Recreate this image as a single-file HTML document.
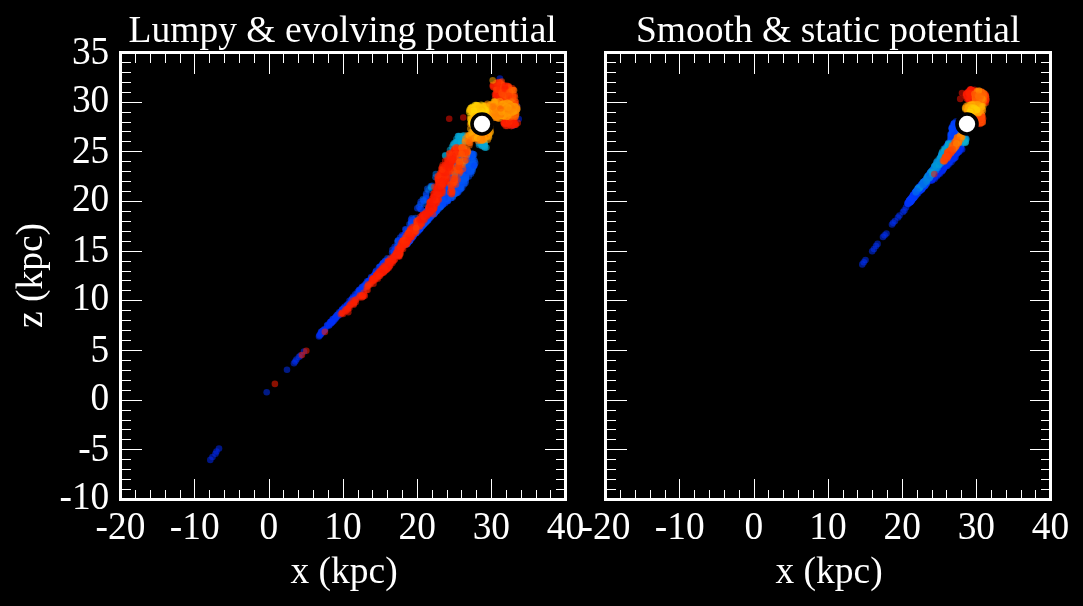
<!DOCTYPE html>
<html><head><meta charset="utf-8"><title>Stream in lumpy vs smooth potential</title>
<style>
html,body{margin:0;padding:0;background:#000;overflow:hidden}
svg{display:block}
text{font-family:"Liberation Serif",serif;font-size:37.5px;fill:#fff}
.t{font-size:41px}
.h{font-size:38.8px}
</style></head><body>
<svg width="1083" height="606" viewBox="0 0 1083 606">
<rect width="1083" height="606" fill="#000"/>
<g id="s1"><g fill-opacity="0.55">
<circle cx="210.3" cy="459.9" r="3.3" fill="#0028ef"/>
<circle cx="212.5" cy="457.0" r="3.3" fill="#0028ef"/>
<circle cx="215.5" cy="453.7" r="3.3" fill="#0028ef"/>
<circle cx="216.5" cy="451.5" r="3.3" fill="#0028ef"/>
<circle cx="219.0" cy="448.5" r="3.3" fill="#0028ef"/>
<circle cx="266.7" cy="392.3" r="3.3" fill="#002ff4"/>
<circle cx="287.0" cy="369.8" r="3.3" fill="#002ff4"/>
<circle cx="294.0" cy="363.3" r="3.3" fill="#002ff4"/>
<circle cx="295.3" cy="361.5" r="3.3" fill="#002ff4"/>
<circle cx="296.4" cy="359.6" r="3.3" fill="#002ff4"/>
<circle cx="298.9" cy="357.1" r="3.3" fill="#002ff4"/>
<circle cx="300.5" cy="355.5" r="3.3" fill="#002ff4"/>
<circle cx="304.0" cy="351.5" r="3.3" fill="#002ff4"/>
<circle cx="319.0" cy="336.5" r="3.3" fill="#002ff4"/>
<circle cx="320.0" cy="335.3" r="3.3" fill="#002ff4"/>
<circle cx="322.4" cy="332.4" r="3.3" fill="#002ff4"/>
<circle cx="321.0" cy="334.0" r="3.3" fill="#002ff4"/>
<circle cx="373.8" cy="278.1" r="3.3" fill="#0036fa"/>
<circle cx="346.1" cy="308.2" r="3.3" fill="#0038fc"/>
<circle cx="387.8" cy="260.6" r="3.3" fill="#003efe"/>
<circle cx="341.3" cy="311.7" r="3.3" fill="#0035fa"/>
<circle cx="404.9" cy="244.7" r="3.3" fill="#003afd"/>
<circle cx="336.6" cy="315.5" r="3.3" fill="#0033f8"/>
<circle cx="320.8" cy="333.2" r="3.3" fill="#002ef3"/>
<circle cx="372.4" cy="277.5" r="3.3" fill="#0037fb"/>
<circle cx="336.8" cy="317.1" r="3.3" fill="#002ff4"/>
<circle cx="319.4" cy="335.4" r="3.3" fill="#002ff4"/>
<circle cx="394.2" cy="254.0" r="3.3" fill="#003efe"/>
<circle cx="382.1" cy="264.4" r="3.3" fill="#003bfe"/>
<circle cx="394.0" cy="253.2" r="3.3" fill="#0038fc"/>
<circle cx="352.3" cy="299.1" r="3.3" fill="#0037fb"/>
<circle cx="353.8" cy="300.2" r="3.3" fill="#0033f7"/>
<circle cx="374.5" cy="276.1" r="3.3" fill="#0035f9"/>
<circle cx="340.4" cy="312.5" r="3.3" fill="#0037fb"/>
<circle cx="338.5" cy="315.3" r="3.3" fill="#002cf1"/>
<circle cx="375.7" cy="271.8" r="3.3" fill="#003cff"/>
<circle cx="396.9" cy="251.4" r="3.3" fill="#004bf9"/>
<circle cx="399.2" cy="248.7" r="3.3" fill="#003efe"/>
<circle cx="374.4" cy="275.6" r="3.3" fill="#0038fb"/>
<circle cx="339.2" cy="312.4" r="3.3" fill="#0035f9"/>
<circle cx="365.8" cy="283.8" r="3.3" fill="#003afd"/>
<circle cx="349.5" cy="300.9" r="3.3" fill="#002ef3"/>
<circle cx="375.5" cy="273.6" r="3.3" fill="#0048fa"/>
<circle cx="349.4" cy="303.5" r="3.3" fill="#0036fa"/>
<circle cx="364.9" cy="287.1" r="3.3" fill="#0039fc"/>
<circle cx="397.4" cy="246.4" r="3.3" fill="#003afd"/>
<circle cx="331.4" cy="321.8" r="3.3" fill="#0032f7"/>
<circle cx="373.9" cy="277.4" r="3.3" fill="#0032f7"/>
<circle cx="337.2" cy="315.1" r="3.3" fill="#0036fa"/>
<circle cx="349.7" cy="304.6" r="3.3" fill="#0037fb"/>
<circle cx="344.4" cy="310.3" r="3.3" fill="#0038fc"/>
<circle cx="363.5" cy="287.4" r="3.3" fill="#0034f8"/>
<circle cx="368.8" cy="280.9" r="3.3" fill="#0035f9"/>
<circle cx="397.4" cy="247.0" r="3.3" fill="#003efe"/>
<circle cx="399.4" cy="246.1" r="3.3" fill="#003efe"/>
<circle cx="381.9" cy="267.9" r="3.3" fill="#0039fc"/>
<circle cx="352.6" cy="298.2" r="3.3" fill="#003bfe"/>
<circle cx="399.3" cy="250.9" r="3.3" fill="#004af9"/>
<circle cx="370.3" cy="280.5" r="3.3" fill="#0032f7"/>
<circle cx="359.7" cy="292.2" r="3.3" fill="#0034f8"/>
<circle cx="324.2" cy="329.3" r="3.3" fill="#002cf2"/>
<circle cx="380.4" cy="266.4" r="3.3" fill="#003bff"/>
<circle cx="394.4" cy="253.8" r="3.3" fill="#0043fc"/>
<circle cx="321.1" cy="331.7" r="3.3" fill="#0034f8"/>
<circle cx="335.3" cy="318.3" r="3.3" fill="#002df3"/>
<circle cx="333.8" cy="320.2" r="3.3" fill="#0034f8"/>
<circle cx="400.4" cy="247.4" r="3.3" fill="#003cff"/>
<circle cx="371.2" cy="277.0" r="3.3" fill="#003afe"/>
<circle cx="390.3" cy="261.1" r="3.3" fill="#0038fb"/>
<circle cx="347.7" cy="304.2" r="3.3" fill="#0034f9"/>
<circle cx="385.9" cy="261.6" r="3.3" fill="#003dff"/>
<circle cx="330.8" cy="323.6" r="3.3" fill="#002ef3"/>
<circle cx="368.3" cy="282.7" r="3.3" fill="#0032f7"/>
<circle cx="376.5" cy="273.7" r="3.3" fill="#0036fa"/>
<circle cx="347.6" cy="306.0" r="3.3" fill="#0035f9"/>
<circle cx="332.6" cy="319.4" r="3.3" fill="#0039fc"/>
<circle cx="368.7" cy="283.8" r="3.3" fill="#0038fb"/>
<circle cx="359.3" cy="292.7" r="3.3" fill="#0036fa"/>
<circle cx="331.6" cy="322.4" r="3.3" fill="#0031f6"/>
<circle cx="350.4" cy="302.1" r="3.3" fill="#002af0"/>
<circle cx="357.7" cy="291.8" r="3.3" fill="#0032f7"/>
<circle cx="344.6" cy="306.8" r="3.3" fill="#0034f8"/>
<circle cx="330.6" cy="321.9" r="3.3" fill="#0033f8"/>
<circle cx="342.6" cy="309.8" r="3.3" fill="#0031f6"/>
<circle cx="335.3" cy="317.9" r="3.3" fill="#0032f7"/>
<circle cx="379.8" cy="267.0" r="3.3" fill="#0039fc"/>
<circle cx="389.3" cy="260.4" r="3.3" fill="#003efe"/>
<circle cx="363.9" cy="288.2" r="3.3" fill="#0036fa"/>
<circle cx="366.1" cy="285.7" r="3.3" fill="#0037fb"/>
<circle cx="335.5" cy="318.9" r="3.3" fill="#002cf1"/>
<circle cx="407.2" cy="243.5" r="3.3" fill="#0047fb"/>
<circle cx="353.5" cy="299.1" r="3.3" fill="#0035f9"/>
<circle cx="385.2" cy="264.9" r="3.3" fill="#003bfe"/>
<circle cx="355.3" cy="294.4" r="3.3" fill="#0037fb"/>
<circle cx="352.2" cy="300.1" r="3.3" fill="#0035f9"/>
<circle cx="391.8" cy="259.3" r="3.3" fill="#003bfe"/>
<circle cx="385.9" cy="265.9" r="3.3" fill="#0038fc"/>
<circle cx="391.8" cy="259.3" r="3.3" fill="#0048fa"/>
<circle cx="328.5" cy="324.2" r="3.3" fill="#0032f6"/>
<circle cx="382.9" cy="264.1" r="3.3" fill="#0049fa"/>
<circle cx="383.3" cy="262.9" r="3.3" fill="#003cff"/>
<circle cx="346.8" cy="305.2" r="3.3" fill="#0031f6"/>
<circle cx="324.8" cy="330.3" r="3.3" fill="#0032f7"/>
<circle cx="340.2" cy="312.7" r="3.3" fill="#002ef4"/>
<circle cx="362.1" cy="287.0" r="3.3" fill="#0034f8"/>
<circle cx="360.3" cy="289.3" r="3.3" fill="#0036fa"/>
<circle cx="363.8" cy="285.9" r="3.3" fill="#0037fb"/>
<circle cx="365.3" cy="284.8" r="3.3" fill="#0040fd"/>
<circle cx="333.2" cy="319.0" r="3.3" fill="#0033f8"/>
<circle cx="399.4" cy="246.0" r="3.3" fill="#0046fb"/>
<circle cx="362.6" cy="288.3" r="3.3" fill="#0035f9"/>
<circle cx="347.0" cy="306.2" r="3.3" fill="#0031f6"/>
<circle cx="360.1" cy="292.9" r="3.3" fill="#0032f7"/>
<circle cx="385.8" cy="264.3" r="3.3" fill="#0042fd"/>
<circle cx="382.0" cy="265.8" r="3.3" fill="#003afd"/>
<circle cx="333.5" cy="321.2" r="3.3" fill="#002df2"/>
<circle cx="398.4" cy="246.6" r="3.3" fill="#0048fa"/>
<circle cx="402.5" cy="245.4" r="3.3" fill="#0044fc"/>
<circle cx="388.8" cy="261.0" r="3.3" fill="#0037fb"/>
<circle cx="356.7" cy="294.5" r="3.3" fill="#002ff4"/>
<circle cx="349.4" cy="303.8" r="3.3" fill="#0033f7"/>
<circle cx="385.2" cy="260.8" r="3.3" fill="#003afe"/>
<circle cx="401.4" cy="245.7" r="3.3" fill="#0038fc"/>
<circle cx="364.1" cy="287.8" r="3.3" fill="#003bfe"/>
<circle cx="368.0" cy="284.5" r="3.3" fill="#0036fa"/>
<circle cx="373.0" cy="277.0" r="3.3" fill="#0038fc"/>
<circle cx="338.0" cy="314.3" r="3.3" fill="#0036fa"/>
<circle cx="358.6" cy="293.9" r="3.3" fill="#0033f7"/>
<circle cx="389.2" cy="259.0" r="3.3" fill="#0039fc"/>
<circle cx="377.4" cy="272.8" r="3.3" fill="#003cff"/>
<circle cx="354.0" cy="299.0" r="3.3" fill="#0032f6"/>
<circle cx="384.6" cy="264.3" r="3.3" fill="#0038fb"/>
<circle cx="353.3" cy="300.2" r="3.3" fill="#0031f6"/>
<circle cx="379.0" cy="267.4" r="3.3" fill="#0041fd"/>
<circle cx="368.7" cy="281.8" r="3.3" fill="#0034f9"/>
<circle cx="368.7" cy="281.1" r="3.3" fill="#003afd"/>
<circle cx="344.1" cy="308.7" r="3.3" fill="#0030f5"/>
<circle cx="351.4" cy="301.2" r="3.3" fill="#0036fa"/>
<circle cx="351.4" cy="299.8" r="3.3" fill="#003cff"/>
<circle cx="376.2" cy="270.8" r="3.3" fill="#0035f9"/>
<circle cx="355.7" cy="297.5" r="3.3" fill="#0031f6"/>
<circle cx="383.5" cy="265.2" r="3.3" fill="#003efe"/>
<circle cx="335.8" cy="317.0" r="3.3" fill="#0031f6"/>
<circle cx="325.1" cy="329.3" r="3.3" fill="#0033f7"/>
<circle cx="323.7" cy="330.6" r="3.3" fill="#002ff4"/>
<circle cx="352.1" cy="300.7" r="3.3" fill="#0031f6"/>
<circle cx="365.3" cy="285.9" r="3.3" fill="#0040fd"/>
<circle cx="344.0" cy="308.3" r="3.3" fill="#0032f6"/>
<circle cx="355.8" cy="297.2" r="3.3" fill="#0038fb"/>
<circle cx="330.7" cy="322.4" r="3.3" fill="#002ff4"/>
<circle cx="398.8" cy="250.1" r="3.3" fill="#0041fd"/>
<circle cx="383.2" cy="264.8" r="3.3" fill="#0036fa"/>
<circle cx="359.3" cy="290.2" r="3.3" fill="#0037fb"/>
<circle cx="330.2" cy="322.3" r="3.3" fill="#0030f5"/>
<circle cx="399.5" cy="244.1" r="3.3" fill="#0041fd"/>
<circle cx="359.0" cy="290.0" r="3.3" fill="#0036fa"/>
<circle cx="385.3" cy="261.4" r="3.3" fill="#003efe"/>
<circle cx="356.2" cy="296.9" r="3.3" fill="#0033f8"/>
<circle cx="396.8" cy="252.3" r="3.3" fill="#0040fd"/>
<circle cx="372.1" cy="279.2" r="3.3" fill="#003cff"/>
<circle cx="394.4" cy="250.9" r="3.3" fill="#003dff"/>
<circle cx="391.1" cy="260.0" r="3.3" fill="#0038fb"/>
<circle cx="376.7" cy="273.8" r="3.3" fill="#003afe"/>
<circle cx="370.9" cy="278.2" r="3.3" fill="#0038fb"/>
<circle cx="382.2" cy="268.0" r="3.3" fill="#003cff"/>
<circle cx="383.1" cy="264.8" r="3.3" fill="#003bfe"/>
<circle cx="335.5" cy="317.3" r="3.3" fill="#0033f8"/>
<circle cx="343.6" cy="310.9" r="3.3" fill="#002ef3"/>
<circle cx="353.1" cy="296.7" r="3.3" fill="#0030f5"/>
<circle cx="331.5" cy="322.9" r="3.3" fill="#002af0"/>
<circle cx="343.5" cy="311.1" r="3.3" fill="#0031f6"/>
<circle cx="329.3" cy="325.2" r="3.3" fill="#0031f6"/>
<circle cx="323.1" cy="330.9" r="3.3" fill="#0034f8"/>
<circle cx="344.0" cy="310.0" r="3.3" fill="#0032f6"/>
<circle cx="374.1" cy="275.3" r="3.3" fill="#0038fc"/>
<circle cx="385.4" cy="264.2" r="3.3" fill="#003bfe"/>
<circle cx="381.9" cy="268.3" r="3.3" fill="#003afd"/>
<circle cx="401.9" cy="247.2" r="3.3" fill="#003bfe"/>
<circle cx="342.6" cy="310.4" r="3.3" fill="#0037fb"/>
<circle cx="343.7" cy="308.6" r="3.3" fill="#0037fb"/>
<circle cx="341.7" cy="310.2" r="3.3" fill="#0030f5"/>
<circle cx="338.6" cy="315.4" r="3.3" fill="#0033f8"/>
<circle cx="368.1" cy="282.1" r="3.3" fill="#003bfe"/>
<circle cx="387.5" cy="258.2" r="3.3" fill="#004df8"/>
<circle cx="392.1" cy="252.7" r="3.3" fill="#0049fa"/>
<circle cx="383.2" cy="263.1" r="3.3" fill="#003dff"/>
<circle cx="358.8" cy="292.3" r="3.3" fill="#0039fc"/>
<circle cx="322.6" cy="330.9" r="3.3" fill="#0032f7"/>
<circle cx="368.7" cy="283.9" r="3.3" fill="#0037fb"/>
<circle cx="347.5" cy="305.5" r="3.3" fill="#0032f6"/>
<circle cx="388.7" cy="260.2" r="3.3" fill="#0036fa"/>
<circle cx="362.0" cy="287.3" r="3.3" fill="#003afd"/>
<circle cx="332.1" cy="321.6" r="3.3" fill="#0030f5"/>
<circle cx="342.8" cy="309.9" r="3.3" fill="#0036fa"/>
<circle cx="367.1" cy="281.2" r="3.3" fill="#003afd"/>
<circle cx="327.2" cy="325.8" r="3.3" fill="#0033f7"/>
<circle cx="396.0" cy="248.4" r="3.3" fill="#003cff"/>
<circle cx="360.3" cy="292.9" r="3.3" fill="#0035f9"/>
<circle cx="360.0" cy="291.4" r="3.3" fill="#003bfe"/>
<circle cx="332.3" cy="320.8" r="3.3" fill="#0031f6"/>
<circle cx="329.0" cy="325.5" r="3.3" fill="#002ff4"/>
<circle cx="320.7" cy="334.1" r="3.3" fill="#002af0"/>
<circle cx="375.8" cy="273.7" r="3.3" fill="#0039fd"/>
<circle cx="342.2" cy="309.2" r="3.3" fill="#0033f8"/>
<circle cx="359.6" cy="290.9" r="3.3" fill="#0039fc"/>
<circle cx="321.7" cy="331.7" r="3.3" fill="#002ff5"/>
<circle cx="354.5" cy="298.5" r="3.3" fill="#0035f9"/>
<circle cx="398.5" cy="247.7" r="3.3" fill="#003efe"/>
<circle cx="331.6" cy="321.8" r="3.3" fill="#002df3"/>
<circle cx="332.3" cy="321.8" r="3.3" fill="#0032f7"/>
<circle cx="403.5" cy="245.3" r="3.3" fill="#003dff"/>
<circle cx="327.1" cy="325.4" r="3.3" fill="#002ff4"/>
<circle cx="323.2" cy="331.7" r="3.3" fill="#002af0"/>
<circle cx="367.5" cy="282.5" r="3.3" fill="#003afd"/>
<circle cx="378.7" cy="273.5" r="3.3" fill="#0034f9"/>
<circle cx="355.5" cy="297.5" r="3.3" fill="#003bfe"/>
<circle cx="341.9" cy="311.1" r="3.3" fill="#0030f5"/>
<circle cx="433.5" cy="213.9" r="3.3" fill="#0039fc"/>
<circle cx="435.8" cy="203.9" r="3.3" fill="#004cf9"/>
<circle cx="410.9" cy="237.8" r="3.3" fill="#0044fc"/>
<circle cx="452.2" cy="170.5" r="3.3" fill="#0053f6"/>
<circle cx="427.0" cy="219.1" r="3.3" fill="#0057f4"/>
<circle cx="443.7" cy="186.6" r="3.3" fill="#004df8"/>
<circle cx="452.0" cy="174.8" r="3.3" fill="#004df8"/>
<circle cx="434.0" cy="209.0" r="3.3" fill="#0053f6"/>
<circle cx="448.7" cy="192.2" r="3.3" fill="#0047fb"/>
<circle cx="412.3" cy="238.0" r="3.3" fill="#0040fd"/>
<circle cx="421.0" cy="228.0" r="3.3" fill="#0036fa"/>
<circle cx="473.3" cy="154.0" r="3.3" fill="#0058f4"/>
<circle cx="450.2" cy="193.3" r="3.3" fill="#0054f5"/>
<circle cx="403.9" cy="240.8" r="3.3" fill="#003afe"/>
<circle cx="419.0" cy="224.1" r="3.3" fill="#0046fb"/>
<circle cx="462.8" cy="158.7" r="3.3" fill="#0052f6"/>
<circle cx="405.1" cy="240.9" r="3.3" fill="#003bfe"/>
<circle cx="443.4" cy="183.8" r="3.3" fill="#004bf9"/>
<circle cx="417.9" cy="222.3" r="3.3" fill="#0045fb"/>
<circle cx="410.9" cy="232.7" r="3.3" fill="#0039fd"/>
<circle cx="426.4" cy="212.1" r="3.3" fill="#004af9"/>
<circle cx="444.1" cy="197.9" r="3.3" fill="#004cf9"/>
<circle cx="451.2" cy="198.0" r="3.3" fill="#0051f6"/>
<circle cx="436.7" cy="194.9" r="3.3" fill="#0041fd"/>
<circle cx="414.3" cy="233.2" r="3.3" fill="#003ffe"/>
<circle cx="434.4" cy="202.4" r="3.3" fill="#0040fd"/>
<circle cx="459.9" cy="152.2" r="3.3" fill="#0057f4"/>
<circle cx="426.9" cy="216.4" r="3.3" fill="#0056f5"/>
<circle cx="419.9" cy="226.7" r="3.3" fill="#0052f6"/>
<circle cx="458.7" cy="161.3" r="3.3" fill="#005ef1"/>
<circle cx="436.3" cy="197.4" r="3.3" fill="#003afd"/>
<circle cx="440.3" cy="189.0" r="3.3" fill="#004ff7"/>
<circle cx="438.6" cy="208.9" r="3.3" fill="#0048fa"/>
<circle cx="463.4" cy="169.8" r="3.3" fill="#004ff7"/>
<circle cx="421.1" cy="226.3" r="3.3" fill="#003afd"/>
<circle cx="419.0" cy="225.5" r="3.3" fill="#003ffe"/>
<circle cx="408.3" cy="238.3" r="3.3" fill="#0043fc"/>
<circle cx="420.0" cy="219.6" r="3.3" fill="#0046fb"/>
<circle cx="438.2" cy="198.8" r="3.3" fill="#0057f4"/>
<circle cx="473.9" cy="165.3" r="3.3" fill="#005df2"/>
<circle cx="456.7" cy="164.4" r="3.3" fill="#0053f6"/>
<circle cx="450.2" cy="180.2" r="3.3" fill="#0048fa"/>
<circle cx="410.4" cy="238.9" r="3.3" fill="#003ffe"/>
<circle cx="427.1" cy="211.0" r="3.3" fill="#0052f6"/>
<circle cx="412.0" cy="235.8" r="3.3" fill="#004af9"/>
<circle cx="469.5" cy="166.4" r="3.3" fill="#004ef8"/>
<circle cx="420.8" cy="227.0" r="3.3" fill="#0049fa"/>
<circle cx="419.6" cy="225.2" r="3.3" fill="#0044fc"/>
<circle cx="415.8" cy="232.4" r="3.3" fill="#003efe"/>
<circle cx="405.1" cy="241.1" r="3.3" fill="#0039fd"/>
<circle cx="445.1" cy="192.1" r="3.3" fill="#0046fb"/>
<circle cx="447.3" cy="184.0" r="3.3" fill="#0065ef"/>
<circle cx="457.7" cy="159.3" r="3.3" fill="#0051f7"/>
<circle cx="460.3" cy="162.3" r="3.3" fill="#0058f4"/>
<circle cx="444.4" cy="181.0" r="3.3" fill="#003bff"/>
<circle cx="405.9" cy="240.3" r="3.3" fill="#003dff"/>
<circle cx="414.0" cy="229.2" r="3.3" fill="#003afe"/>
<circle cx="445.0" cy="189.5" r="3.3" fill="#0044fc"/>
<circle cx="460.1" cy="172.9" r="3.3" fill="#0051f6"/>
<circle cx="448.6" cy="187.3" r="3.3" fill="#0052f6"/>
<circle cx="437.4" cy="196.1" r="3.3" fill="#004af9"/>
<circle cx="450.7" cy="175.7" r="3.3" fill="#003ffe"/>
<circle cx="434.1" cy="206.7" r="3.3" fill="#0042fd"/>
<circle cx="453.2" cy="190.3" r="3.3" fill="#0068ed"/>
<circle cx="437.2" cy="203.3" r="3.3" fill="#0047fb"/>
<circle cx="427.9" cy="217.3" r="3.3" fill="#0050f7"/>
<circle cx="453.8" cy="157.3" r="3.3" fill="#0049fa"/>
<circle cx="410.5" cy="236.2" r="3.3" fill="#003bfe"/>
<circle cx="417.9" cy="225.8" r="3.3" fill="#003afd"/>
<circle cx="468.8" cy="176.4" r="3.3" fill="#004bf9"/>
<circle cx="405.7" cy="241.2" r="3.3" fill="#0033f7"/>
<circle cx="465.1" cy="167.4" r="3.3" fill="#0058f4"/>
<circle cx="427.9" cy="219.3" r="3.3" fill="#0037fb"/>
<circle cx="454.8" cy="177.1" r="3.3" fill="#0055f5"/>
<circle cx="426.4" cy="217.3" r="3.3" fill="#004af9"/>
<circle cx="410.6" cy="236.8" r="3.3" fill="#0037fb"/>
<circle cx="448.8" cy="170.8" r="3.3" fill="#0056f5"/>
<circle cx="465.4" cy="178.5" r="3.3" fill="#004ff8"/>
<circle cx="417.4" cy="225.5" r="3.3" fill="#003afd"/>
<circle cx="455.6" cy="193.6" r="3.3" fill="#005af3"/>
<circle cx="432.5" cy="213.5" r="3.3" fill="#0049fa"/>
<circle cx="459.8" cy="177.9" r="3.3" fill="#0048fa"/>
<circle cx="440.1" cy="206.4" r="3.3" fill="#0046fb"/>
<circle cx="434.7" cy="205.3" r="3.3" fill="#0056f5"/>
<circle cx="460.7" cy="157.5" r="3.3" fill="#0045fc"/>
<circle cx="467.2" cy="165.6" r="3.3" fill="#0049fa"/>
<circle cx="443.2" cy="204.5" r="3.3" fill="#004cf9"/>
<circle cx="428.3" cy="218.4" r="3.3" fill="#0048fa"/>
<circle cx="411.9" cy="236.9" r="3.3" fill="#0039fd"/>
<circle cx="457.4" cy="163.4" r="3.3" fill="#0058f4"/>
<circle cx="434.7" cy="200.5" r="3.3" fill="#0043fc"/>
<circle cx="434.9" cy="208.8" r="3.3" fill="#0054f5"/>
<circle cx="415.3" cy="230.1" r="3.3" fill="#003bfe"/>
<circle cx="410.6" cy="236.2" r="3.3" fill="#003dff"/>
<circle cx="423.2" cy="221.2" r="3.3" fill="#0043fc"/>
<circle cx="410.5" cy="233.7" r="3.3" fill="#0034f9"/>
<circle cx="427.4" cy="220.0" r="3.3" fill="#003efe"/>
<circle cx="420.3" cy="219.0" r="3.3" fill="#0038fc"/>
<circle cx="447.3" cy="171.9" r="3.3" fill="#0056f5"/>
<circle cx="468.9" cy="156.5" r="3.3" fill="#0062f0"/>
<circle cx="428.5" cy="209.6" r="3.3" fill="#0047fb"/>
<circle cx="434.4" cy="213.7" r="3.3" fill="#004bf9"/>
<circle cx="459.3" cy="158.5" r="3.3" fill="#0050f7"/>
<circle cx="416.1" cy="233.0" r="3.3" fill="#0041fd"/>
<circle cx="464.8" cy="164.4" r="3.3" fill="#0054f5"/>
<circle cx="411.3" cy="235.2" r="3.3" fill="#0040fd"/>
<circle cx="457.6" cy="181.8" r="3.3" fill="#0047fb"/>
<circle cx="422.6" cy="225.2" r="3.3" fill="#004bf9"/>
<circle cx="409.9" cy="240.5" r="3.3" fill="#003cff"/>
<circle cx="446.2" cy="197.5" r="3.3" fill="#0059f3"/>
<circle cx="427.3" cy="210.9" r="3.3" fill="#003afe"/>
<circle cx="407.0" cy="242.6" r="3.3" fill="#0048fa"/>
<circle cx="443.4" cy="198.3" r="3.3" fill="#0053f6"/>
<circle cx="434.5" cy="210.1" r="3.3" fill="#004cf8"/>
<circle cx="430.4" cy="212.1" r="3.3" fill="#003efe"/>
<circle cx="414.8" cy="230.3" r="3.3" fill="#003afd"/>
<circle cx="456.8" cy="167.6" r="3.3" fill="#0058f4"/>
<circle cx="431.0" cy="212.2" r="3.3" fill="#0043fc"/>
<circle cx="456.9" cy="154.8" r="3.3" fill="#0053f6"/>
<circle cx="462.2" cy="172.8" r="3.3" fill="#004df8"/>
<circle cx="449.1" cy="179.2" r="3.3" fill="#0059f3"/>
<circle cx="417.1" cy="223.8" r="3.3" fill="#003efe"/>
<circle cx="448.3" cy="183.5" r="3.3" fill="#005ff1"/>
<circle cx="452.8" cy="185.8" r="3.3" fill="#0052f6"/>
<circle cx="421.0" cy="225.5" r="3.3" fill="#0054f5"/>
<circle cx="428.5" cy="209.5" r="3.3" fill="#0059f3"/>
<circle cx="472.4" cy="164.2" r="3.3" fill="#0059f4"/>
<circle cx="424.2" cy="221.5" r="3.3" fill="#0055f5"/>
<circle cx="439.0" cy="202.1" r="3.3" fill="#004ef8"/>
<circle cx="450.1" cy="182.8" r="3.3" fill="#0041fd"/>
<circle cx="447.4" cy="190.3" r="3.3" fill="#0051f7"/>
<circle cx="437.5" cy="198.3" r="3.3" fill="#005cf2"/>
<circle cx="456.6" cy="191.6" r="3.3" fill="#005ff1"/>
<circle cx="443.2" cy="185.9" r="3.3" fill="#003ffe"/>
<circle cx="430.8" cy="211.7" r="3.3" fill="#0055f5"/>
<circle cx="426.0" cy="219.5" r="3.3" fill="#003bfe"/>
<circle cx="450.7" cy="169.0" r="3.3" fill="#0058f4"/>
<circle cx="426.2" cy="220.6" r="3.3" fill="#0047fb"/>
<circle cx="426.5" cy="220.2" r="3.3" fill="#0041fd"/>
<circle cx="472.3" cy="171.3" r="3.3" fill="#0058f4"/>
<circle cx="419.0" cy="224.4" r="3.3" fill="#003dfe"/>
<circle cx="425.4" cy="216.9" r="3.3" fill="#0058f4"/>
<circle cx="437.8" cy="207.8" r="3.3" fill="#004ef8"/>
<circle cx="450.5" cy="185.4" r="3.3" fill="#0056f5"/>
<circle cx="449.6" cy="174.4" r="3.3" fill="#0059f4"/>
<circle cx="423.0" cy="223.8" r="3.3" fill="#003ffe"/>
<circle cx="464.1" cy="169.8" r="3.3" fill="#0065ee"/>
<circle cx="459.0" cy="183.3" r="3.3" fill="#005cf2"/>
<circle cx="426.8" cy="218.2" r="3.3" fill="#003bff"/>
<circle cx="424.7" cy="215.0" r="3.3" fill="#0063ef"/>
<circle cx="436.7" cy="209.6" r="3.3" fill="#0058f4"/>
<circle cx="459.4" cy="153.1" r="3.3" fill="#004ef8"/>
<circle cx="434.6" cy="213.0" r="3.3" fill="#004af9"/>
<circle cx="461.6" cy="166.5" r="3.3" fill="#006aed"/>
<circle cx="430.5" cy="212.2" r="3.3" fill="#0040fd"/>
<circle cx="428.4" cy="219.9" r="3.3" fill="#0044fc"/>
<circle cx="456.1" cy="156.3" r="3.3" fill="#0051f7"/>
<circle cx="448.4" cy="187.6" r="3.3" fill="#0044fc"/>
<circle cx="411.8" cy="233.3" r="3.3" fill="#003bfe"/>
<circle cx="447.9" cy="200.9" r="3.3" fill="#004afa"/>
<circle cx="440.2" cy="192.4" r="3.3" fill="#0054f6"/>
<circle cx="426.0" cy="213.7" r="3.3" fill="#0043fc"/>
<circle cx="433.0" cy="201.2" r="3.3" fill="#004cf9"/>
<circle cx="456.9" cy="175.2" r="3.3" fill="#004af9"/>
<circle cx="460.5" cy="189.4" r="3.3" fill="#004df8"/>
<circle cx="438.0" cy="197.9" r="3.3" fill="#0045fb"/>
<circle cx="425.3" cy="222.7" r="3.3" fill="#003bff"/>
<circle cx="449.7" cy="180.5" r="3.3" fill="#0043fc"/>
<circle cx="425.2" cy="217.4" r="3.3" fill="#0052f6"/>
<circle cx="423.8" cy="219.7" r="3.3" fill="#0048fa"/>
<circle cx="447.3" cy="175.0" r="3.3" fill="#0049fa"/>
<circle cx="425.5" cy="220.7" r="3.3" fill="#0042fc"/>
<circle cx="406.9" cy="239.1" r="3.3" fill="#0045fb"/>
<circle cx="444.9" cy="190.4" r="3.3" fill="#004ef8"/>
<circle cx="458.0" cy="164.4" r="3.3" fill="#0056f5"/>
<circle cx="415.7" cy="233.0" r="3.3" fill="#003afe"/>
<circle cx="461.9" cy="174.6" r="3.3" fill="#0050f7"/>
<circle cx="453.2" cy="189.1" r="3.3" fill="#0055f5"/>
<circle cx="464.0" cy="154.5" r="3.3" fill="#0057f4"/>
<circle cx="408.9" cy="235.9" r="3.3" fill="#004cf9"/>
<circle cx="418.9" cy="225.0" r="3.3" fill="#0050f7"/>
<circle cx="448.6" cy="166.2" r="3.3" fill="#004ef8"/>
<circle cx="441.8" cy="196.8" r="3.3" fill="#0052f6"/>
<circle cx="422.7" cy="224.6" r="3.3" fill="#004cf9"/>
<circle cx="408.5" cy="241.8" r="3.3" fill="#0043fc"/>
<circle cx="468.9" cy="167.6" r="3.3" fill="#0043fc"/>
<circle cx="459.6" cy="168.4" r="3.3" fill="#0064ef"/>
<circle cx="430.8" cy="214.8" r="3.3" fill="#0045fb"/>
<circle cx="415.7" cy="228.7" r="3.3" fill="#0052f6"/>
<circle cx="474.6" cy="160.7" r="3.3" fill="#005ff1"/>
<circle cx="423.2" cy="219.3" r="3.3" fill="#003bff"/>
<circle cx="421.5" cy="218.2" r="3.3" fill="#003bff"/>
<circle cx="445.4" cy="173.9" r="3.3" fill="#0056f5"/>
<circle cx="464.4" cy="167.6" r="3.3" fill="#0060f1"/>
<circle cx="467.8" cy="167.8" r="3.3" fill="#0051f7"/>
<circle cx="420.4" cy="222.8" r="3.3" fill="#003afe"/>
<circle cx="433.7" cy="207.7" r="3.3" fill="#0048fa"/>
<circle cx="426.7" cy="215.1" r="3.3" fill="#003bfe"/>
<circle cx="420.3" cy="226.9" r="3.3" fill="#0050f7"/>
<circle cx="459.5" cy="182.6" r="3.3" fill="#0059f3"/>
<circle cx="455.2" cy="187.5" r="3.3" fill="#0048fa"/>
<circle cx="420.5" cy="221.4" r="3.3" fill="#0043fc"/>
<circle cx="406.1" cy="242.8" r="3.3" fill="#003cff"/>
<circle cx="414.0" cy="233.2" r="3.3" fill="#0048fa"/>
<circle cx="418.0" cy="224.7" r="3.3" fill="#003cff"/>
<circle cx="440.9" cy="195.8" r="3.3" fill="#004af9"/>
<circle cx="446.8" cy="182.6" r="3.3" fill="#0049fa"/>
<circle cx="445.6" cy="176.5" r="3.3" fill="#004afa"/>
<circle cx="423.7" cy="219.3" r="3.3" fill="#004afa"/>
<circle cx="422.0" cy="219.7" r="3.3" fill="#0048fa"/>
<circle cx="431.9" cy="203.7" r="3.3" fill="#0041fd"/>
<circle cx="407.3" cy="243.9" r="3.3" fill="#003cff"/>
<circle cx="427.6" cy="210.1" r="3.3" fill="#003efe"/>
<circle cx="418.7" cy="225.3" r="3.3" fill="#003ffe"/>
<circle cx="455.5" cy="189.1" r="3.3" fill="#0057f4"/>
<circle cx="405.3" cy="240.5" r="3.3" fill="#004df8"/>
<circle cx="431.1" cy="210.7" r="3.3" fill="#0048fa"/>
<circle cx="421.5" cy="220.4" r="3.3" fill="#004ef8"/>
<circle cx="407.8" cy="238.8" r="3.3" fill="#003dff"/>
<circle cx="453.1" cy="166.8" r="3.3" fill="#0058f4"/>
<circle cx="455.2" cy="162.4" r="3.3" fill="#004ef8"/>
<circle cx="420.2" cy="220.0" r="3.3" fill="#0054f5"/>
<circle cx="441.4" cy="203.4" r="3.3" fill="#003dff"/>
<circle cx="438.5" cy="201.3" r="3.3" fill="#0048fa"/>
<circle cx="423.3" cy="218.0" r="3.3" fill="#004bf9"/>
<circle cx="411.4" cy="232.4" r="3.3" fill="#0039fd"/>
<circle cx="421.1" cy="221.9" r="3.3" fill="#004bf9"/>
<circle cx="471.6" cy="156.6" r="3.3" fill="#0050f7"/>
<circle cx="433.1" cy="205.5" r="3.3" fill="#0045fb"/>
<circle cx="420.5" cy="225.4" r="3.3" fill="#0047fb"/>
<circle cx="462.2" cy="157.7" r="3.3" fill="#0065ef"/>
<circle cx="453.6" cy="160.0" r="3.3" fill="#0058f4"/>
<circle cx="473.4" cy="158.5" r="3.3" fill="#004bf9"/>
<circle cx="407.2" cy="239.9" r="3.3" fill="#0034f8"/>
<circle cx="404.5" cy="242.2" r="3.3" fill="#003ffe"/>
<circle cx="435.8" cy="197.8" r="3.3" fill="#0055f5"/>
<circle cx="432.9" cy="213.4" r="3.3" fill="#0050f7"/>
<circle cx="471.3" cy="170.5" r="3.3" fill="#004df8"/>
<circle cx="472.6" cy="167.5" r="3.3" fill="#0063ef"/>
<circle cx="464.8" cy="168.9" r="3.3" fill="#0062f0"/>
<circle cx="429.5" cy="217.9" r="3.3" fill="#003efe"/>
<circle cx="406.7" cy="239.7" r="3.3" fill="#0049fa"/>
<circle cx="440.9" cy="206.8" r="3.3" fill="#0044fc"/>
<circle cx="450.9" cy="165.7" r="3.3" fill="#0049fa"/>
<circle cx="415.1" cy="231.4" r="3.3" fill="#003bfe"/>
<circle cx="425.3" cy="216.9" r="3.3" fill="#0043fc"/>
<circle cx="419.1" cy="229.4" r="3.3" fill="#004ef8"/>
<circle cx="452.7" cy="182.8" r="3.3" fill="#005af3"/>
<circle cx="461.2" cy="155.8" r="3.3" fill="#0050f7"/>
<circle cx="426.3" cy="220.3" r="3.3" fill="#0051f7"/>
<circle cx="465.5" cy="177.1" r="3.3" fill="#0047fa"/>
<circle cx="460.4" cy="153.7" r="3.3" fill="#0042fc"/>
<circle cx="410.0" cy="236.3" r="3.3" fill="#0047fb"/>
<circle cx="408.8" cy="241.8" r="3.3" fill="#0039fd"/>
<circle cx="469.7" cy="172.3" r="3.3" fill="#0051f7"/>
<circle cx="440.7" cy="204.9" r="3.3" fill="#0043fc"/>
<circle cx="457.0" cy="174.0" r="3.3" fill="#0055f5"/>
<circle cx="459.5" cy="177.7" r="3.3" fill="#0057f4"/>
<circle cx="447.3" cy="192.4" r="3.3" fill="#005af3"/>
<circle cx="455.0" cy="155.0" r="3.3" fill="#005bf3"/>
<circle cx="415.4" cy="233.0" r="3.3" fill="#0036fa"/>
<circle cx="460.6" cy="170.9" r="3.3" fill="#0058f4"/>
<circle cx="460.0" cy="187.7" r="3.3" fill="#004bf9"/>
<circle cx="458.6" cy="163.9" r="3.3" fill="#004df8"/>
<circle cx="404.9" cy="241.0" r="3.3" fill="#004ef8"/>
<circle cx="455.5" cy="174.7" r="3.3" fill="#0057f4"/>
<circle cx="432.4" cy="212.8" r="3.3" fill="#0051f7"/>
<circle cx="435.4" cy="207.1" r="3.3" fill="#004cf9"/>
<circle cx="442.8" cy="200.4" r="3.3" fill="#005ef1"/>
<circle cx="437.6" cy="198.7" r="3.3" fill="#0056f5"/>
<circle cx="456.5" cy="191.7" r="3.3" fill="#004df8"/>
<circle cx="463.6" cy="183.2" r="3.3" fill="#0068ed"/>
<circle cx="432.3" cy="210.9" r="3.3" fill="#004cf8"/>
<circle cx="464.8" cy="173.6" r="3.3" fill="#005bf3"/>
<circle cx="456.1" cy="175.4" r="3.3" fill="#0051f7"/>
<circle cx="440.7" cy="204.8" r="3.3" fill="#0047fb"/>
<circle cx="442.4" cy="203.5" r="3.3" fill="#0056f5"/>
<circle cx="421.4" cy="220.7" r="3.3" fill="#0042fc"/>
<circle cx="470.7" cy="168.3" r="3.3" fill="#0062f0"/>
<circle cx="447.4" cy="187.7" r="3.3" fill="#0053f6"/>
<circle cx="442.1" cy="204.9" r="3.3" fill="#0046fb"/>
<circle cx="453.3" cy="172.8" r="3.3" fill="#0061f0"/>
<circle cx="417.4" cy="230.0" r="3.3" fill="#0045fb"/>
<circle cx="424.8" cy="221.8" r="3.3" fill="#0053f6"/>
<circle cx="438.5" cy="199.7" r="3.3" fill="#0053f6"/>
<circle cx="437.2" cy="199.0" r="3.3" fill="#004bf9"/>
<circle cx="408.8" cy="238.1" r="3.3" fill="#003cff"/>
<circle cx="472.3" cy="155.8" r="3.3" fill="#0056f5"/>
<circle cx="438.1" cy="207.3" r="3.3" fill="#0050f7"/>
<circle cx="466.6" cy="154.5" r="3.3" fill="#0055f5"/>
<circle cx="428.6" cy="218.0" r="3.3" fill="#003cff"/>
<circle cx="416.1" cy="227.0" r="3.3" fill="#0047fb"/>
<circle cx="426.6" cy="217.4" r="3.3" fill="#0049fa"/>
<circle cx="430.9" cy="208.2" r="3.3" fill="#003efe"/>
<circle cx="409.1" cy="235.7" r="3.3" fill="#003afe"/>
<circle cx="455.7" cy="180.8" r="3.3" fill="#0043fc"/>
<circle cx="445.8" cy="188.7" r="3.3" fill="#0059f4"/>
<circle cx="460.6" cy="175.6" r="3.3" fill="#005cf2"/>
<circle cx="460.0" cy="162.2" r="3.3" fill="#0069ed"/>
<circle cx="446.7" cy="199.0" r="3.3" fill="#0054f5"/>
<circle cx="417.1" cy="229.0" r="3.3" fill="#003dff"/>
<circle cx="414.3" cy="231.3" r="3.3" fill="#0043fc"/>
<circle cx="410.3" cy="232.1" r="3.3" fill="#003bff"/>
<circle cx="437.5" cy="197.9" r="3.3" fill="#0049fa"/>
<circle cx="447.9" cy="169.2" r="3.3" fill="#005cf2"/>
<circle cx="441.9" cy="194.8" r="3.3" fill="#0046fb"/>
<circle cx="429.6" cy="217.1" r="3.3" fill="#004ef8"/>
<circle cx="442.5" cy="181.3" r="3.3" fill="#005ef1"/>
<circle cx="447.6" cy="184.3" r="3.3" fill="#0046fb"/>
<circle cx="432.5" cy="204.4" r="3.3" fill="#0056f4"/>
<circle cx="418.7" cy="228.6" r="3.3" fill="#0047fa"/>
<circle cx="457.6" cy="179.5" r="3.3" fill="#0047fb"/>
<circle cx="411.7" cy="232.6" r="3.3" fill="#0034f8"/>
<circle cx="412.8" cy="234.7" r="3.3" fill="#0056f5"/>
<circle cx="430.7" cy="208.2" r="3.3" fill="#003ffe"/>
<circle cx="453.3" cy="158.4" r="3.3" fill="#0054f6"/>
<circle cx="431.0" cy="214.1" r="3.3" fill="#004df8"/>
<circle cx="425.8" cy="218.8" r="3.3" fill="#0059f4"/>
<circle cx="433.9" cy="199.7" r="3.3" fill="#0048fa"/>
<circle cx="408.8" cy="240.2" r="3.3" fill="#003ffe"/>
<circle cx="443.0" cy="200.4" r="3.3" fill="#004df8"/>
<circle cx="467.4" cy="155.0" r="3.3" fill="#0053f6"/>
<circle cx="415.9" cy="232.7" r="3.3" fill="#0039fc"/>
<circle cx="446.2" cy="194.6" r="3.3" fill="#0043fc"/>
<circle cx="427.7" cy="215.4" r="3.3" fill="#0044fc"/>
<circle cx="418.7" cy="221.3" r="3.3" fill="#003efe"/>
<circle cx="466.7" cy="167.6" r="3.3" fill="#004ff8"/>
<circle cx="461.5" cy="166.8" r="3.3" fill="#0069ed"/>
<circle cx="416.3" cy="230.2" r="3.3" fill="#0052f6"/>
<circle cx="424.3" cy="221.4" r="3.3" fill="#0042fc"/>
<circle cx="423.9" cy="222.4" r="3.3" fill="#0051f6"/>
<circle cx="452.3" cy="176.6" r="3.3" fill="#0052f6"/>
<circle cx="472.3" cy="153.8" r="3.3" fill="#0061f0"/>
<circle cx="445.2" cy="198.9" r="3.3" fill="#0050f7"/>
<circle cx="422.3" cy="222.4" r="3.3" fill="#0041fd"/>
<circle cx="460.9" cy="158.1" r="3.3" fill="#0059f3"/>
<circle cx="439.1" cy="199.0" r="3.3" fill="#0046fb"/>
<circle cx="453.4" cy="191.6" r="3.3" fill="#0056f5"/>
<circle cx="459.6" cy="157.0" r="3.3" fill="#004ff7"/>
<circle cx="417.8" cy="230.6" r="3.3" fill="#003bfe"/>
<circle cx="461.3" cy="169.3" r="3.3" fill="#0061f0"/>
<circle cx="470.8" cy="169.6" r="3.3" fill="#005cf2"/>
<circle cx="422.9" cy="217.7" r="3.3" fill="#004ef8"/>
<circle cx="422.2" cy="219.1" r="3.3" fill="#0053f6"/>
<circle cx="446.8" cy="170.7" r="3.3" fill="#0041fd"/>
<circle cx="407.9" cy="237.8" r="3.3" fill="#0037fb"/>
<circle cx="453.2" cy="165.0" r="3.3" fill="#004ff8"/>
<circle cx="416.5" cy="228.6" r="3.3" fill="#0043fc"/>
<circle cx="429.7" cy="207.5" r="3.3" fill="#0040fd"/>
<circle cx="438.5" cy="196.9" r="3.3" fill="#0049fa"/>
<circle cx="436.7" cy="201.9" r="3.3" fill="#0053f6"/>
<circle cx="407.2" cy="238.3" r="3.3" fill="#0040fd"/>
<circle cx="460.1" cy="183.2" r="3.3" fill="#004af9"/>
<circle cx="420.6" cy="225.4" r="3.3" fill="#003afd"/>
<circle cx="444.9" cy="202.6" r="3.3" fill="#0042fd"/>
<circle cx="447.6" cy="182.5" r="3.3" fill="#004ef8"/>
<circle cx="458.5" cy="159.9" r="3.3" fill="#0044fc"/>
<circle cx="438.0" cy="194.8" r="3.3" fill="#004ef8"/>
<circle cx="409.3" cy="236.7" r="3.3" fill="#0047fb"/>
<circle cx="411.2" cy="234.0" r="3.3" fill="#004af9"/>
<circle cx="462.2" cy="187.8" r="3.3" fill="#004afa"/>
<circle cx="460.3" cy="181.3" r="3.3" fill="#005df2"/>
<circle cx="411.0" cy="237.9" r="3.3" fill="#003ffe"/>
<circle cx="405.4" cy="242.8" r="3.3" fill="#0051f7"/>
<circle cx="430.3" cy="215.9" r="3.3" fill="#0054f6"/>
<circle cx="412.8" cy="235.8" r="3.3" fill="#003dff"/>
<circle cx="468.4" cy="155.4" r="3.3" fill="#0067ee"/>
<circle cx="434.8" cy="212.5" r="3.3" fill="#0058f4"/>
<circle cx="410.1" cy="238.6" r="3.3" fill="#003afe"/>
<circle cx="441.8" cy="184.8" r="3.3" fill="#0040fd"/>
<circle cx="450.5" cy="174.3" r="3.3" fill="#0059f3"/>
<circle cx="423.5" cy="224.5" r="3.3" fill="#0047fa"/>
<circle cx="459.3" cy="185.6" r="3.3" fill="#004ff8"/>
<circle cx="435.0" cy="201.2" r="3.3" fill="#0055f5"/>
<circle cx="447.6" cy="188.5" r="3.3" fill="#004ef8"/>
<circle cx="439.4" cy="194.3" r="3.3" fill="#0053f6"/>
<circle cx="471.7" cy="161.3" r="3.3" fill="#0054f5"/>
<circle cx="444.3" cy="183.9" r="3.3" fill="#0058f4"/>
<circle cx="407.4" cy="241.7" r="3.3" fill="#0048fa"/>
<circle cx="464.1" cy="179.1" r="3.3" fill="#005ff1"/>
<circle cx="457.7" cy="191.0" r="3.3" fill="#0049fa"/>
<circle cx="423.1" cy="219.6" r="3.3" fill="#0040fd"/>
<circle cx="451.0" cy="161.0" r="3.3" fill="#0057f4"/>
<circle cx="419.9" cy="222.2" r="3.3" fill="#0047fb"/>
<circle cx="433.7" cy="202.7" r="3.3" fill="#0045fb"/>
<circle cx="449.4" cy="168.0" r="3.3" fill="#0054f5"/>
<circle cx="450.3" cy="178.4" r="3.3" fill="#0050f7"/>
<circle cx="427.7" cy="219.2" r="3.3" fill="#0040fe"/>
<circle cx="449.4" cy="174.8" r="3.3" fill="#0050f7"/>
<circle cx="463.8" cy="152.9" r="3.3" fill="#0056f5"/>
<circle cx="461.3" cy="151.4" r="3.3" fill="#0058f4"/>
<circle cx="437.5" cy="202.8" r="3.3" fill="#004ff7"/>
<circle cx="460.1" cy="179.3" r="3.3" fill="#0050f7"/>
<circle cx="422.5" cy="222.3" r="3.3" fill="#0061f0"/>
<circle cx="419.0" cy="226.7" r="3.3" fill="#0030f5"/>
<circle cx="432.9" cy="206.2" r="3.3" fill="#0050f7"/>
<circle cx="458.6" cy="166.3" r="3.3" fill="#0064ef"/>
<circle cx="470.8" cy="170.6" r="3.3" fill="#0067ee"/>
<circle cx="436.4" cy="206.0" r="3.3" fill="#004cf8"/>
<circle cx="422.3" cy="219.2" r="3.3" fill="#004bf9"/>
<circle cx="450.7" cy="170.9" r="3.3" fill="#0051f7"/>
<circle cx="414.6" cy="230.3" r="3.3" fill="#003ffe"/>
<circle cx="468.6" cy="167.2" r="3.3" fill="#0060f1"/>
<circle cx="445.6" cy="197.4" r="3.3" fill="#003dff"/>
<circle cx="458.1" cy="186.4" r="3.3" fill="#0046fb"/>
<circle cx="461.8" cy="170.0" r="3.3" fill="#0051f7"/>
<circle cx="436.2" cy="210.8" r="3.3" fill="#004ff7"/>
<circle cx="431.3" cy="211.4" r="3.3" fill="#004af9"/>
<circle cx="454.6" cy="161.2" r="3.3" fill="#005cf2"/>
<circle cx="436.8" cy="200.4" r="3.3" fill="#004ff7"/>
<circle cx="428.4" cy="214.7" r="3.3" fill="#0055f5"/>
<circle cx="434.8" cy="211.0" r="3.3" fill="#004bf9"/>
<circle cx="410.3" cy="239.6" r="3.3" fill="#003efe"/>
<circle cx="468.6" cy="161.9" r="3.3" fill="#005bf3"/>
<circle cx="430.8" cy="211.6" r="3.3" fill="#0053f6"/>
<circle cx="436.3" cy="196.1" r="3.3" fill="#004ff7"/>
<circle cx="453.3" cy="193.2" r="3.3" fill="#0049fa"/>
<circle cx="444.7" cy="187.8" r="3.3" fill="#003efe"/>
<circle cx="457.2" cy="157.0" r="3.3" fill="#0069ed"/>
<circle cx="464.0" cy="167.1" r="3.3" fill="#005af3"/>
<circle cx="457.1" cy="160.5" r="3.3" fill="#0051f6"/>
<circle cx="421.0" cy="225.4" r="3.3" fill="#0039fd"/>
<circle cx="457.0" cy="171.6" r="3.3" fill="#0058f4"/>
<circle cx="413.5" cy="234.4" r="3.3" fill="#0041fd"/>
<circle cx="453.5" cy="157.5" r="3.3" fill="#0058f4"/>
<circle cx="447.7" cy="188.9" r="3.3" fill="#005bf3"/>
<circle cx="440.3" cy="194.8" r="3.3" fill="#0052f6"/>
<circle cx="453.6" cy="166.6" r="3.3" fill="#005ef1"/>
<circle cx="442.1" cy="199.3" r="3.3" fill="#003afd"/>
<circle cx="472.3" cy="157.3" r="3.3" fill="#0057f4"/>
<circle cx="458.6" cy="155.7" r="3.3" fill="#0049fa"/>
<circle cx="419.5" cy="224.3" r="3.3" fill="#003bfe"/>
<circle cx="450.0" cy="191.8" r="3.3" fill="#004bf9"/>
<circle cx="467.7" cy="168.3" r="3.3" fill="#0043fc"/>
<circle cx="441.8" cy="190.8" r="3.3" fill="#0052f6"/>
<circle cx="440.8" cy="198.5" r="3.3" fill="#0046fb"/>
<circle cx="456.5" cy="172.1" r="3.3" fill="#0069ed"/>
<circle cx="458.3" cy="175.7" r="3.3" fill="#0044fc"/>
<circle cx="411.1" cy="233.4" r="3.3" fill="#0042fd"/>
<circle cx="434.3" cy="206.2" r="3.3" fill="#0050f7"/>
<circle cx="408.6" cy="239.9" r="3.3" fill="#004af9"/>
<circle cx="466.9" cy="160.5" r="3.3" fill="#0059f3"/>
<circle cx="455.0" cy="156.0" r="3.3" fill="#0051f7"/>
<circle cx="440.9" cy="206.6" r="3.3" fill="#0057f4"/>
<circle cx="460.7" cy="162.3" r="3.3" fill="#0050f7"/>
<circle cx="422.4" cy="226.2" r="3.3" fill="#0053f6"/>
<circle cx="422.1" cy="222.0" r="3.3" fill="#0044fc"/>
<circle cx="406.9" cy="237.0" r="3.3" fill="#0058f4"/>
<circle cx="457.5" cy="173.5" r="3.3" fill="#0050f7"/>
<circle cx="405.9" cy="239.9" r="3.3" fill="#0047fb"/>
<circle cx="464.3" cy="156.5" r="3.3" fill="#0058f4"/>
<circle cx="419.1" cy="223.8" r="3.3" fill="#004ff8"/>
<circle cx="443.3" cy="195.7" r="3.3" fill="#004cf9"/>
<circle cx="454.5" cy="155.2" r="3.3" fill="#0049fa"/>
<circle cx="449.7" cy="181.0" r="3.3" fill="#0054f5"/>
<circle cx="459.1" cy="161.2" r="3.3" fill="#0054f5"/>
<circle cx="457.7" cy="163.4" r="3.3" fill="#004bf9"/>
<circle cx="463.0" cy="169.1" r="3.3" fill="#0050f7"/>
<circle cx="421.6" cy="217.6" r="3.3" fill="#003bfe"/>
<circle cx="415.5" cy="233.5" r="3.3" fill="#0044fc"/>
<circle cx="421.3" cy="219.7" r="3.3" fill="#003afd"/>
<circle cx="472.7" cy="169.0" r="3.3" fill="#0061f0"/>
<circle cx="441.5" cy="189.0" r="3.3" fill="#0053f6"/>
<circle cx="410.7" cy="232.7" r="3.3" fill="#0049fa"/>
<circle cx="446.7" cy="175.5" r="3.3" fill="#0055f5"/>
<circle cx="455.9" cy="186.1" r="3.3" fill="#0054f6"/>
<circle cx="445.6" cy="198.8" r="3.3" fill="#005cf2"/>
<circle cx="449.3" cy="175.0" r="3.3" fill="#0054f5"/>
<circle cx="438.1" cy="207.7" r="3.3" fill="#004ff7"/>
<circle cx="425.9" cy="220.6" r="3.3" fill="#004df8"/>
<circle cx="466.7" cy="166.1" r="3.3" fill="#0051f7"/>
<circle cx="464.3" cy="162.5" r="3.3" fill="#005df2"/>
<circle cx="410.6" cy="235.9" r="3.3" fill="#003afe"/>
<circle cx="462.7" cy="175.8" r="3.3" fill="#0075e8"/>
<circle cx="461.1" cy="161.4" r="3.3" fill="#0051f7"/>
<circle cx="426.9" cy="213.8" r="3.3" fill="#0041fd"/>
<circle cx="417.0" cy="231.2" r="3.3" fill="#0039fc"/>
<circle cx="407.3" cy="236.0" r="3.3" fill="#004af9"/>
<circle cx="447.9" cy="183.3" r="3.3" fill="#0068ed"/>
<circle cx="443.4" cy="179.0" r="3.3" fill="#0055f5"/>
<circle cx="420.3" cy="221.1" r="3.3" fill="#0045fb"/>
<circle cx="425.8" cy="215.7" r="3.3" fill="#004af9"/>
<circle cx="446.4" cy="199.6" r="3.3" fill="#0043fc"/>
<circle cx="441.9" cy="201.2" r="3.3" fill="#0041fd"/>
<circle cx="416.2" cy="227.5" r="3.3" fill="#0045fc"/>
<circle cx="471.0" cy="171.8" r="3.3" fill="#004ef8"/>
<circle cx="459.7" cy="178.5" r="3.3" fill="#0041fd"/>
<circle cx="434.8" cy="199.1" r="3.3" fill="#0041fd"/>
<circle cx="452.2" cy="194.1" r="3.3" fill="#004cf9"/>
<circle cx="447.9" cy="187.9" r="3.3" fill="#004cf9"/>
<circle cx="474.3" cy="164.7" r="3.3" fill="#0058f4"/>
<circle cx="415.3" cy="231.1" r="3.3" fill="#003dfe"/>
<circle cx="440.3" cy="197.8" r="3.3" fill="#004ff8"/>
<circle cx="421.4" cy="220.0" r="3.3" fill="#0040fd"/>
<circle cx="437.8" cy="206.4" r="3.3" fill="#003efe"/>
<circle cx="431.1" cy="215.8" r="3.3" fill="#0041fd"/>
<circle cx="456.1" cy="171.9" r="3.3" fill="#0055f5"/>
<circle cx="413.4" cy="232.9" r="3.3" fill="#004ff7"/>
<circle cx="456.8" cy="192.9" r="3.3" fill="#0051f7"/>
<circle cx="415.6" cy="230.1" r="3.3" fill="#0043fc"/>
<circle cx="460.8" cy="178.8" r="3.3" fill="#0049fa"/>
<circle cx="448.5" cy="194.4" r="3.3" fill="#0044fc"/>
<circle cx="471.9" cy="153.7" r="3.3" fill="#004df8"/>
<circle cx="452.6" cy="173.4" r="3.3" fill="#004df8"/>
<circle cx="418.3" cy="225.6" r="3.3" fill="#004cf8"/>
<circle cx="422.4" cy="225.2" r="3.3" fill="#0044fc"/>
<circle cx="459.5" cy="173.9" r="3.3" fill="#005df2"/>
<circle cx="442.4" cy="189.1" r="3.3" fill="#0041fd"/>
<circle cx="437.9" cy="198.8" r="3.3" fill="#004af9"/>
<circle cx="406.4" cy="239.5" r="3.3" fill="#003ffe"/>
<circle cx="408.4" cy="237.6" r="3.3" fill="#003afd"/>
<circle cx="448.9" cy="167.7" r="3.3" fill="#004df8"/>
<circle cx="421.9" cy="226.3" r="3.3" fill="#003cff"/>
<circle cx="410.0" cy="236.5" r="3.3" fill="#003efe"/>
<circle cx="461.7" cy="168.9" r="3.3" fill="#0058f4"/>
<circle cx="433.7" cy="214.4" r="3.3" fill="#0050f7"/>
<circle cx="432.6" cy="212.8" r="3.3" fill="#0044fc"/>
<circle cx="450.7" cy="183.9" r="3.3" fill="#0054f5"/>
<circle cx="414.9" cy="230.1" r="3.3" fill="#0045fb"/>
<circle cx="438.4" cy="207.3" r="3.3" fill="#004af9"/>
<circle cx="471.1" cy="155.2" r="3.3" fill="#005ff1"/>
<circle cx="446.1" cy="194.9" r="3.3" fill="#005bf3"/>
<circle cx="428.4" cy="211.4" r="3.3" fill="#003efe"/>
<circle cx="458.2" cy="175.9" r="3.3" fill="#0065ee"/>
<circle cx="409.3" cy="241.2" r="3.3" fill="#0046fb"/>
<circle cx="436.2" cy="209.6" r="3.3" fill="#0049fa"/>
<circle cx="439.2" cy="197.2" r="3.3" fill="#0045fb"/>
<circle cx="409.6" cy="241.2" r="3.3" fill="#004ff7"/>
<circle cx="456.1" cy="178.7" r="3.3" fill="#0042fd"/>
<circle cx="457.9" cy="150.9" r="3.3" fill="#0069ed"/>
<circle cx="419.9" cy="223.4" r="3.3" fill="#0041fd"/>
<circle cx="437.9" cy="194.2" r="3.3" fill="#0041fd"/>
<circle cx="449.0" cy="166.9" r="3.3" fill="#0051f7"/>
<circle cx="406.1" cy="241.5" r="3.3" fill="#0042fd"/>
<circle cx="412.4" cy="237.1" r="3.3" fill="#003bfe"/>
<circle cx="447.8" cy="184.4" r="3.3" fill="#0049fa"/>
<circle cx="407.2" cy="238.3" r="3.3" fill="#003bfe"/>
<circle cx="428.9" cy="209.2" r="3.3" fill="#0052f6"/>
<circle cx="453.3" cy="181.8" r="3.3" fill="#0050f7"/>
<circle cx="444.3" cy="197.6" r="3.3" fill="#0056f4"/>
<circle cx="421.2" cy="226.0" r="3.3" fill="#0047fb"/>
<circle cx="457.9" cy="158.2" r="3.3" fill="#0055f5"/>
<circle cx="460.1" cy="188.7" r="3.3" fill="#0045fb"/>
<circle cx="410.7" cy="236.8" r="3.3" fill="#003ffe"/>
<circle cx="434.4" cy="213.3" r="3.3" fill="#003bfe"/>
<circle cx="416.1" cy="227.4" r="3.3" fill="#0057f4"/>
<circle cx="462.8" cy="156.8" r="3.3" fill="#0057f4"/>
<circle cx="435.3" cy="205.9" r="3.3" fill="#0055f5"/>
<circle cx="422.8" cy="217.6" r="3.3" fill="#003bfe"/>
<circle cx="436.5" cy="204.7" r="3.3" fill="#003cff"/>
<circle cx="433.7" cy="211.8" r="3.3" fill="#0038fc"/>
<circle cx="445.2" cy="176.0" r="3.3" fill="#0050f7"/>
<circle cx="442.4" cy="200.7" r="3.3" fill="#004afa"/>
<circle cx="446.6" cy="199.7" r="3.3" fill="#004cf9"/>
<circle cx="424.2" cy="220.4" r="3.3" fill="#005af3"/>
<circle cx="427.5" cy="220.8" r="3.3" fill="#004cf9"/>
<circle cx="442.5" cy="193.7" r="3.3" fill="#0046fb"/>
<circle cx="461.0" cy="188.6" r="3.3" fill="#0059f4"/>
<circle cx="453.4" cy="169.6" r="3.3" fill="#0055f5"/>
<circle cx="424.1" cy="215.2" r="3.3" fill="#004ff8"/>
<circle cx="438.8" cy="200.7" r="3.3" fill="#0047fb"/>
<circle cx="437.0" cy="211.1" r="3.3" fill="#0053f6"/>
<circle cx="422.5" cy="223.9" r="3.3" fill="#004cf9"/>
<circle cx="436.6" cy="199.7" r="3.3" fill="#004afa"/>
<circle cx="424.4" cy="213.9" r="3.3" fill="#0042fc"/>
<circle cx="403.4" cy="241.5" r="3.3" fill="#003dff"/>
<circle cx="434.0" cy="210.4" r="3.3" fill="#0047fa"/>
<circle cx="453.8" cy="179.5" r="3.3" fill="#0058f4"/>
<circle cx="405.6" cy="243.0" r="3.3" fill="#003afe"/>
<circle cx="458.2" cy="165.4" r="3.3" fill="#0057f4"/>
<circle cx="437.4" cy="194.0" r="3.3" fill="#0063f0"/>
<circle cx="427.3" cy="220.9" r="3.3" fill="#0047fb"/>
<circle cx="453.5" cy="156.1" r="3.3" fill="#005cf2"/>
<circle cx="438.2" cy="196.3" r="3.3" fill="#0054f5"/>
<circle cx="441.5" cy="186.3" r="3.3" fill="#0049fa"/>
<circle cx="404.4" cy="240.5" r="3.3" fill="#0043fc"/>
<circle cx="413.6" cy="235.6" r="3.3" fill="#0040fe"/>
<circle cx="449.6" cy="192.0" r="3.3" fill="#004af9"/>
<circle cx="420.8" cy="221.0" r="3.3" fill="#0058f4"/>
<circle cx="427.3" cy="214.3" r="3.3" fill="#004ef8"/>
<circle cx="423.5" cy="224.1" r="3.3" fill="#004cf9"/>
<circle cx="458.4" cy="162.3" r="3.3" fill="#005ef2"/>
<circle cx="454.7" cy="164.9" r="3.3" fill="#0055f5"/>
<circle cx="454.3" cy="166.0" r="3.3" fill="#005cf2"/>
<circle cx="414.2" cy="230.9" r="3.3" fill="#0042fd"/>
<circle cx="408.7" cy="235.9" r="3.3" fill="#0042fd"/>
<circle cx="419.6" cy="229.1" r="3.3" fill="#004af9"/>
<circle cx="461.3" cy="175.1" r="3.3" fill="#0051f7"/>
<circle cx="428.0" cy="218.4" r="3.3" fill="#005ff1"/>
<circle cx="465.1" cy="167.4" r="3.3" fill="#0054f6"/>
<circle cx="420.5" cy="221.1" r="3.3" fill="#0048fa"/>
<circle cx="470.4" cy="165.0" r="3.3" fill="#005af3"/>
<circle cx="449.7" cy="172.7" r="3.3" fill="#0059f3"/>
<circle cx="472.4" cy="156.4" r="3.3" fill="#0056f5"/>
<circle cx="450.0" cy="164.6" r="3.3" fill="#005af3"/>
<circle cx="454.1" cy="194.1" r="3.3" fill="#005df2"/>
<circle cx="444.4" cy="196.3" r="3.3" fill="#004ff7"/>
<circle cx="428.9" cy="210.1" r="3.3" fill="#0043fc"/>
<circle cx="463.6" cy="156.3" r="3.3" fill="#0057f4"/>
<circle cx="454.2" cy="186.7" r="3.3" fill="#0061f0"/>
<circle cx="414.6" cy="228.1" r="3.3" fill="#0039fc"/>
<circle cx="452.3" cy="174.2" r="3.3" fill="#0053f6"/>
<circle cx="460.3" cy="167.7" r="3.3" fill="#0058f4"/>
<circle cx="448.8" cy="186.8" r="3.3" fill="#0049fa"/>
<circle cx="417.2" cy="227.6" r="3.3" fill="#0040fd"/>
<circle cx="420.2" cy="228.7" r="3.3" fill="#0044fc"/>
<circle cx="459.6" cy="174.6" r="3.3" fill="#004bf9"/>
<circle cx="453.2" cy="166.8" r="3.3" fill="#005af3"/>
<circle cx="405.6" cy="242.1" r="3.3" fill="#0042fd"/>
<circle cx="438.5" cy="201.6" r="3.3" fill="#004ff8"/>
<circle cx="428.0" cy="212.5" r="3.3" fill="#003ffe"/>
<circle cx="434.6" cy="210.0" r="3.3" fill="#004cf9"/>
<circle cx="452.1" cy="179.1" r="3.3" fill="#0059f3"/>
<circle cx="428.0" cy="218.4" r="3.3" fill="#003ffe"/>
<circle cx="461.1" cy="173.4" r="3.3" fill="#005ef1"/>
<circle cx="460.1" cy="158.5" r="3.3" fill="#0052f6"/>
<circle cx="436.4" cy="209.6" r="3.3" fill="#004bf9"/>
<circle cx="419.8" cy="228.4" r="3.3" fill="#003bfe"/>
<circle cx="411.7" cy="234.1" r="3.3" fill="#004bf9"/>
<circle cx="450.8" cy="178.0" r="3.3" fill="#0062f0"/>
<circle cx="418.5" cy="229.5" r="3.3" fill="#003cff"/>
<circle cx="429.9" cy="215.5" r="3.3" fill="#0047fb"/>
<circle cx="465.7" cy="181.0" r="3.3" fill="#004ff7"/>
<circle cx="426.5" cy="213.0" r="3.3" fill="#004af9"/>
<circle cx="417.8" cy="223.4" r="3.3" fill="#0044fc"/>
<circle cx="433.8" cy="213.8" r="3.3" fill="#0042fd"/>
<circle cx="450.8" cy="193.9" r="3.3" fill="#0048fa"/>
<circle cx="441.2" cy="191.2" r="3.3" fill="#0044fc"/>
<circle cx="452.1" cy="176.5" r="3.3" fill="#0048fa"/>
<circle cx="472.0" cy="164.1" r="3.3" fill="#005bf3"/>
<circle cx="414.8" cy="227.1" r="3.3" fill="#003cff"/>
<circle cx="456.0" cy="178.2" r="3.3" fill="#004bf9"/>
<circle cx="442.8" cy="193.6" r="3.3" fill="#0045fb"/>
<circle cx="469.7" cy="165.4" r="3.3" fill="#005df2"/>
<circle cx="474.1" cy="154.6" r="3.3" fill="#005af3"/>
<circle cx="464.1" cy="184.4" r="3.3" fill="#0051f7"/>
<circle cx="407.3" cy="239.9" r="3.3" fill="#003efe"/>
<circle cx="431.4" cy="211.2" r="3.3" fill="#0052f6"/>
<circle cx="405.1" cy="243.0" r="3.3" fill="#0039fc"/>
<circle cx="419.4" cy="228.6" r="3.3" fill="#003cff"/>
<circle cx="447.2" cy="177.5" r="3.3" fill="#0040fd"/>
<circle cx="454.5" cy="154.1" r="3.3" fill="#0064ef"/>
<circle cx="455.9" cy="160.5" r="3.3" fill="#004cf9"/>
<circle cx="420.5" cy="219.3" r="3.3" fill="#0044fc"/>
<circle cx="444.6" cy="199.8" r="3.3" fill="#004df8"/>
<circle cx="472.8" cy="161.4" r="3.3" fill="#005cf2"/>
<circle cx="430.6" cy="208.8" r="3.3" fill="#004df8"/>
<circle cx="441.1" cy="202.4" r="3.3" fill="#004ff7"/>
<circle cx="448.9" cy="189.7" r="3.3" fill="#004bf9"/>
<circle cx="426.1" cy="221.3" r="3.3" fill="#005bf3"/>
<circle cx="414.5" cy="227.0" r="3.3" fill="#004ff7"/>
<circle cx="424.5" cy="220.4" r="3.3" fill="#0047fb"/>
<circle cx="450.5" cy="181.1" r="3.3" fill="#0057f4"/>
<circle cx="415.4" cy="231.9" r="3.3" fill="#004cf9"/>
<circle cx="429.3" cy="213.3" r="3.3" fill="#004afa"/>
<circle cx="402.7" cy="242.5" r="3.3" fill="#0041fd"/>
<circle cx="444.8" cy="190.5" r="3.3" fill="#0045fb"/>
<circle cx="443.5" cy="189.6" r="3.3" fill="#0042fd"/>
<circle cx="414.1" cy="232.7" r="3.3" fill="#003efe"/>
<circle cx="424.7" cy="215.0" r="3.3" fill="#0043fc"/>
<circle cx="414.1" cy="232.1" r="3.3" fill="#0055f5"/>
<circle cx="439.5" cy="196.2" r="3.3" fill="#0045fb"/>
<circle cx="410.2" cy="235.3" r="3.3" fill="#0040fe"/>
<circle cx="406.5" cy="244.1" r="3.3" fill="#0042fd"/>
<circle cx="473.6" cy="166.6" r="3.3" fill="#005cf2"/>
<circle cx="461.8" cy="183.2" r="3.3" fill="#005df2"/>
<circle cx="411.6" cy="236.2" r="3.3" fill="#004ff7"/>
<circle cx="416.5" cy="232.8" r="3.3" fill="#003efe"/>
<circle cx="416.5" cy="227.2" r="3.3" fill="#0036fa"/>
<circle cx="412.8" cy="236.5" r="3.3" fill="#0038fc"/>
<circle cx="451.0" cy="175.2" r="3.3" fill="#004ef8"/>
<circle cx="430.9" cy="205.6" r="3.3" fill="#0041fd"/>
<circle cx="422.2" cy="216.8" r="3.3" fill="#0049fa"/>
<circle cx="431.6" cy="209.6" r="3.3" fill="#0054f6"/>
<circle cx="424.0" cy="222.5" r="3.3" fill="#0057f4"/>
<circle cx="437.1" cy="199.9" r="3.3" fill="#0048fa"/>
<circle cx="427.2" cy="215.1" r="3.3" fill="#003afe"/>
<circle cx="429.8" cy="211.9" r="3.3" fill="#0050f7"/>
<circle cx="421.5" cy="225.8" r="3.3" fill="#0048fa"/>
<circle cx="417.8" cy="229.9" r="3.3" fill="#0036fa"/>
<circle cx="411.1" cy="236.4" r="3.3" fill="#0041fd"/>
<circle cx="445.2" cy="192.5" r="3.3" fill="#0052f6"/>
<circle cx="468.5" cy="157.1" r="3.3" fill="#004ff7"/>
<circle cx="412.5" cy="231.5" r="3.3" fill="#004af9"/>
<circle cx="466.8" cy="153.1" r="3.3" fill="#0043fc"/>
<circle cx="429.5" cy="209.4" r="3.3" fill="#004cf9"/>
<circle cx="448.7" cy="168.9" r="3.3" fill="#004bf9"/>
<circle cx="443.9" cy="197.8" r="3.3" fill="#0061f0"/>
<circle cx="431.2" cy="208.8" r="3.3" fill="#003dff"/>
<circle cx="454.1" cy="162.8" r="3.3" fill="#005af3"/>
<circle cx="466.9" cy="157.1" r="3.3" fill="#004ff7"/>
<circle cx="459.0" cy="151.8" r="3.3" fill="#0061f0"/>
<circle cx="465.7" cy="175.5" r="3.3" fill="#0056f5"/>
<circle cx="465.8" cy="153.8" r="3.3" fill="#005cf2"/>
<circle cx="465.9" cy="176.8" r="3.3" fill="#0056f5"/>
<circle cx="458.5" cy="191.7" r="3.3" fill="#0058f4"/>
<circle cx="467.7" cy="167.7" r="3.3" fill="#0050f7"/>
<circle cx="458.3" cy="187.4" r="3.3" fill="#004ef8"/>
<circle cx="414.2" cy="232.8" r="3.3" fill="#0040fd"/>
<circle cx="425.8" cy="222.7" r="3.3" fill="#0054f5"/>
<circle cx="453.6" cy="171.8" r="3.3" fill="#0054f5"/>
<circle cx="413.5" cy="230.3" r="3.3" fill="#0046fb"/>
<circle cx="457.7" cy="190.3" r="3.3" fill="#004ef8"/>
<circle cx="457.9" cy="157.3" r="3.3" fill="#0057f4"/>
<circle cx="445.6" cy="189.0" r="3.3" fill="#004ff7"/>
<circle cx="435.7" cy="202.3" r="3.3" fill="#004cf9"/>
<circle cx="426.0" cy="218.4" r="3.3" fill="#0041fd"/>
<circle cx="459.6" cy="184.9" r="3.3" fill="#005af3"/>
<circle cx="455.1" cy="157.4" r="3.3" fill="#0055f5"/>
<circle cx="434.8" cy="211.4" r="3.3" fill="#0042fd"/>
<circle cx="453.3" cy="161.5" r="3.3" fill="#0058f4"/>
<circle cx="410.5" cy="236.6" r="3.3" fill="#0049fa"/>
<circle cx="411.4" cy="233.3" r="3.3" fill="#003dff"/>
<circle cx="437.9" cy="208.0" r="3.3" fill="#0042fd"/>
<circle cx="411.3" cy="231.4" r="3.3" fill="#0038fc"/>
<circle cx="460.6" cy="157.5" r="3.3" fill="#0056f5"/>
<circle cx="409.8" cy="233.3" r="3.3" fill="#0041fd"/>
<circle cx="424.3" cy="216.0" r="3.3" fill="#003ffe"/>
<circle cx="426.4" cy="215.1" r="3.3" fill="#004cf9"/>
<circle cx="410.3" cy="240.5" r="3.3" fill="#003cff"/>
<circle cx="403.1" cy="241.9" r="3.3" fill="#003bfe"/>
<circle cx="436.0" cy="210.1" r="3.3" fill="#0040fd"/>
<circle cx="430.5" cy="210.1" r="3.3" fill="#0049fa"/>
<circle cx="413.4" cy="236.2" r="3.3" fill="#0038fb"/>
<circle cx="449.5" cy="179.2" r="3.3" fill="#004ef8"/>
<circle cx="436.3" cy="199.5" r="3.3" fill="#0060f0"/>
<circle cx="444.3" cy="193.1" r="3.3" fill="#0049fa"/>
<circle cx="418.2" cy="231.4" r="3.3" fill="#0034f8"/>
<circle cx="423.5" cy="217.8" r="3.3" fill="#004df8"/>
<circle cx="436.7" cy="207.8" r="3.3" fill="#0044fc"/>
<circle cx="422.4" cy="222.7" r="3.3" fill="#003bfe"/>
<circle cx="442.4" cy="201.0" r="3.3" fill="#0050f7"/>
<circle cx="456.2" cy="169.1" r="3.3" fill="#005ef1"/>
<circle cx="419.8" cy="229.0" r="3.3" fill="#003bfe"/>
<circle cx="460.5" cy="186.9" r="3.3" fill="#0063ef"/>
<circle cx="406.8" cy="236.9" r="3.3" fill="#003bfe"/>
<circle cx="432.6" cy="203.8" r="3.3" fill="#0061f0"/>
<circle cx="435.5" cy="209.6" r="3.3" fill="#0049fa"/>
<circle cx="456.5" cy="176.1" r="3.3" fill="#0049fa"/>
<circle cx="425.2" cy="216.7" r="3.3" fill="#003cff"/>
<circle cx="434.7" cy="200.4" r="3.3" fill="#0057f4"/>
<circle cx="426.4" cy="214.1" r="3.3" fill="#0037fb"/>
<circle cx="415.6" cy="226.6" r="3.3" fill="#0049fa"/>
<circle cx="450.9" cy="184.8" r="3.3" fill="#004af9"/>
<circle cx="437.7" cy="200.4" r="3.3" fill="#0055f5"/>
<circle cx="419.9" cy="223.1" r="3.3" fill="#003ffe"/>
<circle cx="442.8" cy="193.6" r="3.3" fill="#0043fc"/>
<circle cx="422.2" cy="223.4" r="3.3" fill="#0048fa"/>
<circle cx="416.4" cy="229.9" r="3.3" fill="#004df8"/>
<circle cx="447.8" cy="200.8" r="3.3" fill="#0048fa"/>
<circle cx="447.5" cy="200.5" r="3.3" fill="#004ff7"/>
<circle cx="407.7" cy="240.0" r="3.3" fill="#0041fd"/>
<circle cx="431.3" cy="213.1" r="3.3" fill="#0052f6"/>
<circle cx="416.3" cy="226.9" r="3.3" fill="#004afa"/>
<circle cx="442.1" cy="196.4" r="3.3" fill="#0053f6"/>
<circle cx="460.5" cy="185.1" r="3.3" fill="#004bf9"/>
<circle cx="434.1" cy="200.2" r="3.3" fill="#0055f5"/>
<circle cx="438.5" cy="194.7" r="3.3" fill="#005ef1"/>
<circle cx="454.0" cy="188.7" r="3.3" fill="#003cff"/>
<circle cx="426.8" cy="213.6" r="3.3" fill="#0048fa"/>
<circle cx="443.5" cy="181.7" r="3.3" fill="#005cf2"/>
<circle cx="460.0" cy="171.6" r="3.3" fill="#005ef2"/>
<circle cx="461.6" cy="173.4" r="3.3" fill="#005af3"/>
<circle cx="445.3" cy="203.1" r="3.3" fill="#0040fd"/>
<circle cx="452.6" cy="159.2" r="3.3" fill="#0050f7"/>
<circle cx="454.0" cy="157.5" r="3.3" fill="#0057f4"/>
<circle cx="441.5" cy="189.6" r="3.3" fill="#004af9"/>
<circle cx="407.5" cy="242.8" r="3.3" fill="#004af9"/>
<circle cx="429.3" cy="211.6" r="3.3" fill="#0048fa"/>
<circle cx="433.8" cy="204.8" r="3.3" fill="#0042fd"/>
<circle cx="428.7" cy="216.5" r="3.3" fill="#003dfe"/>
<circle cx="464.5" cy="166.4" r="3.3" fill="#0054f5"/>
<circle cx="456.6" cy="161.1" r="3.3" fill="#0052f6"/>
<circle cx="460.7" cy="186.3" r="3.3" fill="#0056f5"/>
<circle cx="425.6" cy="214.5" r="3.3" fill="#004df8"/>
<circle cx="410.9" cy="234.7" r="3.3" fill="#004ef8"/>
<circle cx="452.6" cy="197.6" r="3.3" fill="#004cf9"/>
<circle cx="457.6" cy="161.0" r="3.3" fill="#0068ee"/>
<circle cx="445.2" cy="184.3" r="3.3" fill="#0062f0"/>
<circle cx="469.6" cy="166.3" r="3.3" fill="#0052f6"/>
<circle cx="422.0" cy="224.6" r="3.3" fill="#003afe"/>
<circle cx="431.6" cy="211.8" r="3.3" fill="#0051f7"/>
<circle cx="416.2" cy="227.1" r="3.3" fill="#0047fb"/>
<circle cx="427.6" cy="212.6" r="3.3" fill="#004afa"/>
<circle cx="456.9" cy="157.1" r="3.3" fill="#0063f0"/>
<circle cx="415.4" cy="230.4" r="3.3" fill="#003dfe"/>
<circle cx="428.5" cy="217.9" r="3.3" fill="#004bf9"/>
<circle cx="444.4" cy="190.7" r="3.3" fill="#0046fb"/>
<circle cx="429.7" cy="215.2" r="3.3" fill="#0054f5"/>
<circle cx="413.6" cy="229.1" r="3.3" fill="#0044fc"/>
<circle cx="455.3" cy="164.0" r="3.3" fill="#0049fa"/>
<circle cx="429.2" cy="208.9" r="3.3" fill="#0049fa"/>
<circle cx="424.3" cy="219.8" r="3.3" fill="#0037fb"/>
<circle cx="465.4" cy="183.0" r="3.3" fill="#0053f6"/>
<circle cx="440.4" cy="193.2" r="3.3" fill="#0057f4"/>
<circle cx="415.6" cy="232.4" r="3.3" fill="#0045fb"/>
<circle cx="464.4" cy="165.3" r="3.3" fill="#0054f5"/>
<circle cx="441.8" cy="205.1" r="3.3" fill="#0042fd"/>
<circle cx="448.8" cy="191.1" r="3.3" fill="#0044fc"/>
<circle cx="413.8" cy="227.7" r="3.3" fill="#0042fd"/>
<circle cx="424.1" cy="220.4" r="3.3" fill="#0050f7"/>
<circle cx="415.7" cy="229.7" r="3.3" fill="#0048fa"/>
<circle cx="449.3" cy="181.5" r="3.3" fill="#0054f5"/>
<circle cx="447.1" cy="200.4" r="3.3" fill="#004af9"/>
<circle cx="459.6" cy="153.6" r="3.3" fill="#0064ef"/>
<circle cx="442.9" cy="202.6" r="3.3" fill="#0052f6"/>
<circle cx="448.0" cy="179.4" r="3.3" fill="#005cf2"/>
<circle cx="423.4" cy="216.5" r="3.3" fill="#0048fa"/>
<circle cx="408.2" cy="239.7" r="3.3" fill="#004cf9"/>
<circle cx="431.8" cy="204.6" r="3.3" fill="#003cff"/>
<circle cx="450.7" cy="161.0" r="3.3" fill="#005cf2"/>
<circle cx="433.7" cy="208.4" r="3.3" fill="#004af9"/>
<circle cx="410.3" cy="239.8" r="3.3" fill="#0041fd"/>
<circle cx="453.5" cy="180.0" r="3.3" fill="#0057f4"/>
<circle cx="418.2" cy="229.5" r="3.3" fill="#0047fa"/>
<circle cx="451.5" cy="176.0" r="3.3" fill="#004ef8"/>
<circle cx="442.3" cy="198.2" r="3.3" fill="#004bf9"/>
<circle cx="408.5" cy="239.0" r="3.3" fill="#0042fc"/>
<circle cx="442.9" cy="195.5" r="3.3" fill="#0051f6"/>
<circle cx="451.8" cy="191.7" r="3.3" fill="#004bf9"/>
<circle cx="467.9" cy="152.7" r="3.3" fill="#005df2"/>
<circle cx="409.9" cy="235.0" r="3.3" fill="#0049fa"/>
<circle cx="454.5" cy="184.7" r="3.3" fill="#005bf3"/>
<circle cx="425.2" cy="222.5" r="3.3" fill="#004ef8"/>
<circle cx="440.3" cy="192.2" r="3.3" fill="#005af3"/>
<circle cx="428.3" cy="209.4" r="3.3" fill="#0040fd"/>
<circle cx="422.7" cy="216.5" r="3.3" fill="#0041fd"/>
<circle cx="464.5" cy="171.5" r="3.3" fill="#0059f4"/>
<circle cx="455.1" cy="170.3" r="3.3" fill="#0052f6"/>
<circle cx="418.1" cy="223.9" r="3.3" fill="#0058f4"/>
<circle cx="421.5" cy="224.4" r="3.3" fill="#003bfe"/>
<circle cx="433.0" cy="205.0" r="3.3" fill="#0063ef"/>
<circle cx="441.2" cy="191.5" r="3.3" fill="#0040fd"/>
<circle cx="426.0" cy="217.6" r="3.3" fill="#004df8"/>
<circle cx="408.5" cy="241.3" r="3.3" fill="#0046fb"/>
<circle cx="436.7" cy="209.1" r="3.3" fill="#003ffe"/>
<circle cx="446.6" cy="198.6" r="3.3" fill="#005df2"/>
<circle cx="439.1" cy="202.9" r="3.3" fill="#0043fc"/>
<circle cx="457.3" cy="185.1" r="3.3" fill="#0055f5"/>
<circle cx="424.5" cy="217.9" r="3.3" fill="#0058f4"/>
<circle cx="407.8" cy="243.0" r="3.3" fill="#0045fb"/>
<circle cx="419.0" cy="223.6" r="3.3" fill="#0039fc"/>
<circle cx="461.5" cy="159.0" r="3.3" fill="#0058f4"/>
<circle cx="453.5" cy="160.7" r="3.3" fill="#0058f4"/>
<circle cx="454.6" cy="179.7" r="3.3" fill="#0057f4"/>
<circle cx="433.2" cy="202.4" r="3.3" fill="#0046fb"/>
<circle cx="405.3" cy="242.4" r="3.3" fill="#0047fb"/>
<circle cx="463.8" cy="159.7" r="3.3" fill="#0046fb"/>
<circle cx="437.7" cy="202.2" r="3.3" fill="#004af9"/>
<circle cx="412.5" cy="231.1" r="3.3" fill="#0039fd"/>
<circle cx="459.6" cy="170.2" r="3.3" fill="#0054f5"/>
<circle cx="437.2" cy="199.7" r="3.3" fill="#004cf9"/>
<circle cx="424.0" cy="216.8" r="3.3" fill="#004ef8"/>
<circle cx="419.5" cy="229.8" r="3.3" fill="#003ffe"/>
<circle cx="414.0" cy="231.0" r="3.3" fill="#0048fa"/>
<circle cx="456.7" cy="161.7" r="3.3" fill="#0060f1"/>
<circle cx="431.4" cy="206.3" r="3.3" fill="#0059f4"/>
<circle cx="443.8" cy="178.3" r="3.3" fill="#0056f4"/>
<circle cx="437.5" cy="206.2" r="3.3" fill="#0047fb"/>
<circle cx="452.6" cy="165.8" r="3.3" fill="#005bf3"/>
<circle cx="415.4" cy="230.0" r="3.3" fill="#0044fc"/>
<circle cx="465.4" cy="170.2" r="3.3" fill="#0041fd"/>
<circle cx="457.6" cy="188.2" r="3.3" fill="#0051f7"/>
<circle cx="415.8" cy="233.0" r="3.3" fill="#0046fb"/>
<circle cx="455.5" cy="162.0" r="3.3" fill="#0064ef"/>
<circle cx="410.8" cy="235.9" r="3.3" fill="#003cff"/>
<circle cx="457.8" cy="168.4" r="3.3" fill="#003afd"/>
<circle cx="421.9" cy="218.2" r="3.3" fill="#004ef8"/>
<circle cx="446.5" cy="183.5" r="3.3" fill="#0055f5"/>
<circle cx="408.9" cy="236.6" r="3.3" fill="#0039fc"/>
<circle cx="455.8" cy="162.5" r="3.3" fill="#0049fa"/>
<circle cx="436.0" cy="206.6" r="3.3" fill="#0047fb"/>
<circle cx="427.6" cy="210.5" r="3.3" fill="#0043fc"/>
<circle cx="407.2" cy="244.1" r="3.3" fill="#0050f7"/>
<circle cx="447.8" cy="167.6" r="3.3" fill="#004df8"/>
<circle cx="415.8" cy="225.5" r="3.3" fill="#0048fa"/>
<circle cx="452.1" cy="172.4" r="3.3" fill="#005cf2"/>
<circle cx="425.7" cy="213.5" r="3.3" fill="#004ef8"/>
<circle cx="450.1" cy="166.2" r="3.3" fill="#0043fc"/>
<circle cx="454.9" cy="160.1" r="3.3" fill="#004cf8"/>
<circle cx="454.8" cy="191.5" r="3.3" fill="#0057f4"/>
<circle cx="423.7" cy="217.7" r="3.3" fill="#0047fb"/>
<circle cx="414.3" cy="234.1" r="3.3" fill="#0047fb"/>
<circle cx="463.9" cy="176.3" r="3.3" fill="#0056f5"/>
<circle cx="409.3" cy="240.2" r="3.3" fill="#003cff"/>
<circle cx="404.7" cy="239.7" r="3.3" fill="#0049fa"/>
<circle cx="444.0" cy="196.1" r="3.3" fill="#004df8"/>
<circle cx="408.6" cy="237.3" r="3.3" fill="#004af9"/>
<circle cx="432.8" cy="206.5" r="3.3" fill="#0044fc"/>
<circle cx="408.9" cy="238.0" r="3.3" fill="#0045fb"/>
<circle cx="405.6" cy="238.9" r="3.3" fill="#003ffe"/>
<circle cx="443.2" cy="183.1" r="3.3" fill="#004ef8"/>
<circle cx="424.9" cy="220.6" r="3.3" fill="#0039fc"/>
<circle cx="443.4" cy="195.3" r="3.3" fill="#0053f6"/>
<circle cx="411.7" cy="235.9" r="3.3" fill="#003afe"/>
<circle cx="460.3" cy="160.2" r="3.3" fill="#0066ee"/>
<circle cx="447.4" cy="193.1" r="3.3" fill="#004cf9"/>
<circle cx="431.9" cy="211.0" r="3.3" fill="#004ff8"/>
<circle cx="466.7" cy="166.0" r="3.3" fill="#0059f3"/>
<circle cx="422.9" cy="217.1" r="3.3" fill="#003bfe"/>
<circle cx="416.2" cy="226.9" r="3.3" fill="#0058f4"/>
<circle cx="438.9" cy="206.7" r="3.3" fill="#003afd"/>
<circle cx="454.5" cy="156.8" r="3.3" fill="#0057f4"/>
<circle cx="424.0" cy="216.4" r="3.3" fill="#0051f6"/>
<circle cx="418.8" cy="226.3" r="3.3" fill="#003efe"/>
<circle cx="409.0" cy="235.8" r="3.3" fill="#0042fd"/>
<circle cx="471.0" cy="173.7" r="3.3" fill="#0054f5"/>
<circle cx="423.9" cy="224.2" r="3.3" fill="#0046fb"/>
<circle cx="409.8" cy="236.7" r="3.3" fill="#003afd"/>
<circle cx="450.2" cy="189.7" r="3.3" fill="#0055f5"/>
<circle cx="467.0" cy="166.5" r="3.3" fill="#005bf2"/>
<circle cx="413.5" cy="230.8" r="3.3" fill="#0047fb"/>
<circle cx="458.6" cy="157.8" r="3.3" fill="#005ef1"/>
<circle cx="444.6" cy="197.9" r="3.3" fill="#003ffe"/>
<circle cx="414.4" cy="229.2" r="3.3" fill="#003bfe"/>
<circle cx="456.3" cy="162.0" r="3.3" fill="#005ef1"/>
<circle cx="470.2" cy="170.1" r="3.3" fill="#0059f3"/>
<circle cx="436.0" cy="208.0" r="3.3" fill="#0058f4"/>
<circle cx="447.3" cy="178.3" r="3.3" fill="#0066ee"/>
<circle cx="463.2" cy="158.1" r="3.3" fill="#004ef8"/>
<circle cx="436.0" cy="211.4" r="3.3" fill="#004cf9"/>
<circle cx="412.9" cy="234.9" r="3.3" fill="#004cf9"/>
<circle cx="445.3" cy="197.7" r="3.3" fill="#0044fc"/>
<circle cx="450.3" cy="182.1" r="3.3" fill="#003cff"/>
<circle cx="460.4" cy="159.8" r="3.3" fill="#0054f6"/>
<circle cx="440.1" cy="207.6" r="3.3" fill="#0062f0"/>
<circle cx="461.5" cy="169.5" r="3.3" fill="#0055f5"/>
<circle cx="450.9" cy="198.1" r="3.3" fill="#004ef8"/>
<circle cx="447.4" cy="188.3" r="3.3" fill="#0055f5"/>
<circle cx="461.7" cy="182.2" r="3.3" fill="#004bf9"/>
<circle cx="464.9" cy="178.6" r="3.3" fill="#0055f5"/>
<circle cx="445.9" cy="188.4" r="3.3" fill="#0053f6"/>
<circle cx="450.4" cy="175.6" r="3.3" fill="#004ef8"/>
<circle cx="457.6" cy="167.2" r="3.3" fill="#0055f5"/>
<circle cx="429.8" cy="212.7" r="3.3" fill="#0048fa"/>
<circle cx="428.4" cy="216.6" r="3.3" fill="#0050f7"/>
<circle cx="467.7" cy="170.6" r="3.3" fill="#0044fc"/>
<circle cx="475.2" cy="163.1" r="3.3" fill="#0056f5"/>
<circle cx="411.3" cy="236.1" r="3.3" fill="#0034f8"/>
<circle cx="457.1" cy="163.6" r="3.3" fill="#0059f4"/>
<circle cx="406.5" cy="239.1" r="3.3" fill="#003bfe"/>
<circle cx="439.0" cy="206.7" r="3.3" fill="#0054f6"/>
<circle cx="465.8" cy="178.3" r="3.3" fill="#005df2"/>
<circle cx="450.1" cy="190.3" r="3.3" fill="#0049fa"/>
<circle cx="423.8" cy="215.7" r="3.3" fill="#0050f7"/>
<circle cx="422.2" cy="217.2" r="3.3" fill="#0037fb"/>
<circle cx="422.9" cy="217.9" r="3.3" fill="#003dfe"/>
<circle cx="427.0" cy="211.4" r="3.3" fill="#004ff8"/>
<circle cx="469.5" cy="171.1" r="3.3" fill="#0056f5"/>
<circle cx="424.5" cy="220.9" r="3.3" fill="#004df8"/>
<circle cx="457.6" cy="181.9" r="3.3" fill="#005ff1"/>
<circle cx="423.3" cy="215.4" r="3.3" fill="#005df2"/>
<circle cx="419.5" cy="220.5" r="3.3" fill="#003ffe"/>
<circle cx="418.1" cy="225.7" r="3.3" fill="#003cff"/>
<circle cx="451.0" cy="180.5" r="3.3" fill="#0054f6"/>
<circle cx="419.4" cy="227.8" r="3.3" fill="#0040fe"/>
<circle cx="472.0" cy="154.1" r="3.3" fill="#0050f7"/>
<circle cx="440.7" cy="191.6" r="3.3" fill="#0049fa"/>
<circle cx="449.8" cy="167.9" r="3.3" fill="#0042fd"/>
<circle cx="425.5" cy="213.0" r="3.3" fill="#003cff"/>
<circle cx="409.9" cy="237.2" r="3.3" fill="#0035f9"/>
<circle cx="431.4" cy="216.3" r="3.3" fill="#0053f6"/>
<circle cx="424.8" cy="220.3" r="3.3" fill="#0049fa"/>
<circle cx="442.4" cy="199.7" r="3.3" fill="#0053f6"/>
<circle cx="459.8" cy="153.1" r="3.3" fill="#0049fa"/>
<circle cx="457.6" cy="192.8" r="3.3" fill="#0040fe"/>
<circle cx="426.1" cy="211.6" r="3.3" fill="#004ff7"/>
<circle cx="430.3" cy="217.8" r="3.3" fill="#0042fd"/>
<circle cx="416.7" cy="224.1" r="3.3" fill="#0044fc"/>
<circle cx="415.5" cy="232.8" r="3.3" fill="#0039fc"/>
<circle cx="457.5" cy="156.2" r="3.3" fill="#0060f0"/>
<circle cx="441.8" cy="193.6" r="3.3" fill="#0058f4"/>
<circle cx="456.1" cy="158.6" r="3.3" fill="#0054f5"/>
<circle cx="423.6" cy="215.5" r="3.3" fill="#0051f7"/>
<circle cx="461.2" cy="180.9" r="3.3" fill="#0059f3"/>
<circle cx="405.6" cy="241.8" r="3.3" fill="#0036fa"/>
<circle cx="453.2" cy="195.9" r="3.3" fill="#005ef1"/>
<circle cx="443.6" cy="189.0" r="3.3" fill="#0048fa"/>
<circle cx="447.7" cy="179.8" r="3.3" fill="#0056f5"/>
<circle cx="466.2" cy="178.1" r="3.3" fill="#004ef8"/>
<circle cx="451.5" cy="188.8" r="3.3" fill="#005ef1"/>
<circle cx="420.9" cy="222.8" r="3.3" fill="#0052f6"/>
<circle cx="450.4" cy="180.6" r="3.3" fill="#0054f6"/>
<circle cx="459.1" cy="153.7" r="3.3" fill="#0056f5"/>
<circle cx="455.0" cy="153.7" r="3.3" fill="#0055f5"/>
<circle cx="428.7" cy="216.2" r="3.3" fill="#0049fa"/>
<circle cx="437.2" cy="209.9" r="3.3" fill="#003cff"/>
<circle cx="444.1" cy="192.2" r="3.3" fill="#0056f5"/>
<circle cx="474.3" cy="165.7" r="3.3" fill="#0043fc"/>
<circle cx="455.5" cy="193.5" r="3.3" fill="#0059f3"/>
<circle cx="464.3" cy="179.8" r="3.3" fill="#0059f3"/>
<circle cx="408.9" cy="234.5" r="3.3" fill="#0039fc"/>
<circle cx="431.7" cy="215.5" r="3.3" fill="#003dff"/>
<circle cx="458.0" cy="169.5" r="3.3" fill="#0053f6"/>
<circle cx="423.8" cy="224.5" r="3.3" fill="#004df8"/>
<circle cx="442.7" cy="204.5" r="3.3" fill="#0047fb"/>
<circle cx="426.0" cy="216.8" r="3.3" fill="#0051f7"/>
<circle cx="454.7" cy="187.4" r="3.3" fill="#0050f7"/>
<circle cx="456.7" cy="180.7" r="3.3" fill="#0042fd"/>
<circle cx="459.2" cy="159.4" r="3.3" fill="#005df2"/>
<circle cx="426.4" cy="198.2" r="3.3" fill="#0050f7"/>
<circle cx="405.3" cy="229.2" r="3.3" fill="#0037fb"/>
<circle cx="407.9" cy="230.5" r="3.3" fill="#0043fc"/>
<circle cx="409.5" cy="224.3" r="3.3" fill="#0049fa"/>
<circle cx="402.2" cy="235.3" r="3.3" fill="#003dff"/>
<circle cx="426.1" cy="193.7" r="3.3" fill="#0050f7"/>
<circle cx="405.5" cy="233.9" r="3.3" fill="#0046fb"/>
<circle cx="404.0" cy="236.0" r="3.3" fill="#0047fb"/>
<circle cx="427.3" cy="188.9" r="3.3" fill="#0056f4"/>
<circle cx="422.9" cy="199.3" r="3.3" fill="#0076e8"/>
<circle cx="411.2" cy="223.7" r="3.3" fill="#0056f5"/>
<circle cx="400.2" cy="237.6" r="3.3" fill="#0040fd"/>
<circle cx="392.4" cy="249.9" r="3.3" fill="#003efe"/>
<circle cx="397.9" cy="240.7" r="3.3" fill="#002af0"/>
<circle cx="412.9" cy="219.9" r="3.3" fill="#0047fb"/>
<circle cx="394.7" cy="246.9" r="3.3" fill="#0040fd"/>
<circle cx="426.1" cy="199.2" r="3.3" fill="#0035f9"/>
<circle cx="419.0" cy="206.9" r="3.3" fill="#005af3"/>
<circle cx="424.5" cy="200.4" r="3.3" fill="#004ef8"/>
<circle cx="406.1" cy="229.6" r="3.3" fill="#004af9"/>
<circle cx="435.5" cy="177.3" r="3.3" fill="#006cec"/>
<circle cx="432.0" cy="185.8" r="3.3" fill="#004ef8"/>
<circle cx="411.7" cy="222.2" r="3.3" fill="#0062f0"/>
<circle cx="411.8" cy="218.3" r="3.3" fill="#0056f5"/>
<circle cx="430.7" cy="186.2" r="3.3" fill="#0057f4"/>
<circle cx="405.0" cy="234.0" r="3.3" fill="#0034f8"/>
<circle cx="424.0" cy="203.9" r="3.3" fill="#0063ef"/>
<circle cx="397.5" cy="242.4" r="3.3" fill="#0053f6"/>
<circle cx="402.9" cy="236.7" r="3.3" fill="#003bfe"/>
<circle cx="428.6" cy="190.3" r="3.3" fill="#006aec"/>
<circle cx="426.1" cy="195.6" r="3.3" fill="#0049fa"/>
<circle cx="397.9" cy="240.6" r="3.3" fill="#0067ee"/>
<circle cx="415.6" cy="218.0" r="3.3" fill="#0054f6"/>
<circle cx="411.2" cy="221.9" r="3.3" fill="#0052f6"/>
<circle cx="420.5" cy="204.1" r="3.3" fill="#005ef2"/>
<circle cx="417.3" cy="208.2" r="3.3" fill="#0041fd"/>
<circle cx="423.5" cy="200.5" r="3.3" fill="#005cf2"/>
<circle cx="400.4" cy="240.3" r="3.3" fill="#0036fa"/>
<circle cx="411.1" cy="219.7" r="3.3" fill="#0032f7"/>
<circle cx="435.8" cy="174.0" r="3.3" fill="#0075e8"/>
<circle cx="420.7" cy="209.0" r="3.3" fill="#0054f5"/>
<circle cx="399.0" cy="240.7" r="3.3" fill="#0038fc"/>
<circle cx="420.6" cy="209.1" r="3.3" fill="#003bfe"/>
<circle cx="410.5" cy="226.2" r="3.3" fill="#0041fd"/>
<circle cx="420.7" cy="201.9" r="3.3" fill="#0044fc"/>
<circle cx="463.2" cy="136.8" r="3.3" fill="#0094dc"/>
<circle cx="456.8" cy="148.5" r="3.3" fill="#05a6d4"/>
<circle cx="459.7" cy="137.7" r="3.3" fill="#0085e2"/>
<circle cx="456.5" cy="141.7" r="3.3" fill="#13b7c9"/>
<circle cx="459.0" cy="149.6" r="3.3" fill="#009cd8"/>
<circle cx="458.3" cy="140.4" r="3.3" fill="#008ede"/>
<circle cx="466.5" cy="137.1" r="3.3" fill="#0baecf"/>
<circle cx="457.7" cy="142.6" r="3.3" fill="#0baecf"/>
<circle cx="465.7" cy="138.0" r="3.3" fill="#08aad1"/>
<circle cx="459.5" cy="147.6" r="3.3" fill="#009ad9"/>
<circle cx="464.1" cy="141.5" r="3.3" fill="#0fb3cc"/>
<circle cx="460.1" cy="144.5" r="3.3" fill="#0eb2cc"/>
<circle cx="460.5" cy="138.3" r="3.3" fill="#009cd9"/>
<circle cx="462.2" cy="137.4" r="3.3" fill="#06a8d2"/>
<circle cx="458.5" cy="136.2" r="3.3" fill="#09abd0"/>
<circle cx="460.9" cy="146.2" r="3.3" fill="#06a8d2"/>
<circle cx="457.7" cy="141.4" r="3.3" fill="#0096db"/>
<circle cx="463.5" cy="141.4" r="3.3" fill="#01a1d6"/>
<circle cx="458.7" cy="136.0" r="3.3" fill="#0092dd"/>
<circle cx="458.5" cy="141.9" r="3.3" fill="#008ae0"/>
<circle cx="464.0" cy="140.5" r="3.3" fill="#07a9d2"/>
<circle cx="457.1" cy="142.4" r="3.3" fill="#07a8d2"/>
<circle cx="462.9" cy="146.6" r="3.3" fill="#0aacd0"/>
<circle cx="463.7" cy="135.3" r="3.3" fill="#0fb3cc"/>
<circle cx="463.1" cy="136.2" r="3.3" fill="#0eb1cd"/>
<circle cx="462.4" cy="139.4" r="3.3" fill="#0cb0ce"/>
<circle cx="466.9" cy="139.8" r="3.3" fill="#07a9d2"/>
<circle cx="453.1" cy="144.8" r="3.3" fill="#0fb3cc"/>
<circle cx="468.5" cy="138.9" r="3.3" fill="#00a0d7"/>
<circle cx="464.1" cy="136.9" r="3.3" fill="#0098da"/>
<circle cx="452.8" cy="150.5" r="3.3" fill="#06a8d2"/>
<circle cx="453.8" cy="143.2" r="3.3" fill="#009bd9"/>
<circle cx="460.7" cy="142.1" r="3.3" fill="#08aad1"/>
<circle cx="455.3" cy="142.6" r="3.3" fill="#009cd9"/>
<circle cx="456.9" cy="143.1" r="3.3" fill="#08abd1"/>
<circle cx="454.5" cy="144.2" r="3.3" fill="#05a7d3"/>
<circle cx="458.2" cy="141.4" r="3.3" fill="#03a4d4"/>
<circle cx="460.1" cy="136.1" r="3.3" fill="#0fb3cb"/>
<circle cx="456.3" cy="145.5" r="3.3" fill="#009ed8"/>
<circle cx="461.0" cy="142.3" r="3.3" fill="#11b6ca"/>
<circle cx="486.4" cy="147.6" r="3.3" fill="#10b4cb"/>
<circle cx="484.3" cy="142.4" r="3.3" fill="#05a6d3"/>
<circle cx="484.0" cy="143.8" r="3.3" fill="#0db0cd"/>
<circle cx="482.2" cy="146.2" r="3.3" fill="#10b4cb"/>
<circle cx="480.6" cy="144.0" r="3.3" fill="#07a9d1"/>
<circle cx="483.8" cy="143.6" r="3.3" fill="#0eb2cc"/>
<circle cx="484.7" cy="143.7" r="3.3" fill="#05a6d4"/>
<circle cx="479.1" cy="143.2" r="3.3" fill="#0097db"/>
<circle cx="481.2" cy="143.6" r="3.3" fill="#0aacd0"/>
<circle cx="484.4" cy="142.8" r="3.3" fill="#05a7d3"/>
<circle cx="482.5" cy="144.3" r="3.3" fill="#0db1cd"/>
<circle cx="484.7" cy="145.5" r="3.3" fill="#12b7c9"/>
<circle cx="482.0" cy="145.7" r="3.3" fill="#009ada"/>
<circle cx="484.0" cy="146.1" r="3.3" fill="#01a2d6"/>
<circle cx="456.4" cy="139.0" r="3.3" fill="#05a6d3"/>
<circle cx="445.5" cy="155.7" r="3.3" fill="#05a6d3"/>
<circle cx="485.0" cy="147.8" r="3.3" fill="#05a6d3"/>
<circle cx="479.0" cy="145.0" r="3.3" fill="#05a6d3"/>
<circle cx="431.2" cy="187.4" r="3.3" fill="#05a6d3"/>
<circle cx="458.0" cy="136.0" r="3.3" fill="#05a6d3"/>
<circle cx="461.0" cy="141.0" r="3.3" fill="#05a6d3"/>
<circle cx="484.6" cy="147.2" r="3.3" fill="#05a6d3"/>
<circle cx="445.2" cy="155.4" r="3.3" fill="#05a6d3"/>
<circle cx="452.0" cy="147.0" r="3.3" fill="#05a6d3"/>
<circle cx="454.3" cy="172.2" r="3.3" fill="#05a6d3"/>
<circle cx="450.0" cy="150.0" r="3.3" fill="#05a6d3"/>
<circle cx="455.0" cy="174.0" r="3.3" fill="#05a6d3"/>
<circle cx="453.0" cy="170.0" r="3.3" fill="#05a6d3"/>
<circle cx="274.9" cy="383.9" r="3.3" fill="#fb1e00"/>
<circle cx="306.3" cy="350.7" r="3.3" fill="#fb1e00"/>
<circle cx="301.9" cy="355.1" r="3.3" fill="#fb1e00"/>
<circle cx="324.9" cy="331.9" r="3.3" fill="#fb1e00"/>
<circle cx="343.1" cy="314.0" r="3.3" fill="#fc1f00"/>
<circle cx="348.3" cy="312.2" r="3.3" fill="#fc1f00"/>
<circle cx="347.8" cy="309.4" r="3.3" fill="#fc1f00"/>
<circle cx="352.8" cy="300.6" r="3.3" fill="#fc1f00"/>
<circle cx="353.7" cy="304.7" r="3.3" fill="#fc1f00"/>
<circle cx="354.3" cy="302.1" r="3.3" fill="#fc1f00"/>
<circle cx="353.6" cy="302.7" r="3.3" fill="#fc1f00"/>
<circle cx="360.7" cy="296.0" r="3.3" fill="#fc1f00"/>
<circle cx="364.8" cy="295.8" r="3.3" fill="#fc1f00"/>
<circle cx="371.0" cy="283.2" r="3.3" fill="#fc1f00"/>
<circle cx="374.7" cy="280.3" r="3.3" fill="#fc1f00"/>
<circle cx="372.9" cy="281.3" r="3.3" fill="#fc1f00"/>
<circle cx="371.8" cy="281.3" r="3.3" fill="#fc1f00"/>
<circle cx="373.5" cy="283.8" r="3.3" fill="#fc1f00"/>
<circle cx="383.9" cy="272.3" r="3.3" fill="#fc1f00"/>
<circle cx="380.9" cy="273.2" r="3.3" fill="#fc1f00"/>
<circle cx="382.6" cy="268.0" r="3.3" fill="#fc1f00"/>
<circle cx="381.5" cy="271.2" r="3.3" fill="#fc1f00"/>
<circle cx="383.2" cy="272.8" r="3.3" fill="#fc1f00"/>
<circle cx="390.8" cy="262.6" r="3.3" fill="#fc1f00"/>
<circle cx="390.9" cy="262.0" r="3.3" fill="#fc1f00"/>
<circle cx="389.0" cy="262.0" r="3.3" fill="#fc1f00"/>
<circle cx="391.3" cy="261.9" r="3.3" fill="#fc1f00"/>
<circle cx="389.7" cy="263.8" r="3.3" fill="#fc1f00"/>
<circle cx="392.5" cy="262.9" r="3.3" fill="#fc1f00"/>
<circle cx="399.4" cy="256.6" r="3.3" fill="#fc1f00"/>
<circle cx="395.8" cy="254.9" r="3.3" fill="#fc1f00"/>
<circle cx="398.4" cy="255.3" r="3.3" fill="#fc1f00"/>
<circle cx="398.7" cy="255.9" r="3.3" fill="#fc1f00"/>
<circle cx="398.3" cy="255.8" r="3.3" fill="#fc1f00"/>
<circle cx="398.8" cy="255.9" r="3.3" fill="#fc1f00"/>
<circle cx="404.7" cy="240.2" r="3.3" fill="#fc1f00"/>
<circle cx="407.0" cy="243.6" r="3.3" fill="#fc1f00"/>
<circle cx="404.6" cy="241.7" r="3.3" fill="#fc1f00"/>
<circle cx="406.8" cy="242.2" r="3.3" fill="#fc1f00"/>
<circle cx="404.3" cy="241.1" r="3.3" fill="#fc1f00"/>
<circle cx="407.1" cy="241.1" r="3.3" fill="#fc1f00"/>
<circle cx="403.9" cy="241.9" r="3.3" fill="#fc1f00"/>
<circle cx="403.7" cy="242.5" r="3.3" fill="#fc1f00"/>
<circle cx="410.7" cy="234.8" r="3.3" fill="#fc1f00"/>
<circle cx="409.9" cy="231.2" r="3.3" fill="#fc1f00"/>
<circle cx="412.3" cy="229.3" r="3.3" fill="#fc1f00"/>
<circle cx="409.2" cy="232.7" r="3.3" fill="#fc1f00"/>
<circle cx="410.9" cy="232.5" r="3.3" fill="#fc1f00"/>
<circle cx="412.7" cy="233.1" r="3.3" fill="#fc1f00"/>
<circle cx="413.6" cy="231.6" r="3.3" fill="#fc1f00"/>
<circle cx="413.1" cy="234.2" r="3.3" fill="#fc1f00"/>
<circle cx="414.1" cy="233.7" r="3.3" fill="#fc1f00"/>
<circle cx="386.7" cy="269.7" r="3.3" fill="#fc1f00"/>
<circle cx="388.7" cy="268.0" r="3.3" fill="#fc1f00"/>
<circle cx="388.4" cy="265.4" r="3.3" fill="#fc1f00"/>
<circle cx="376.7" cy="278.1" r="3.3" fill="#fc1f00"/>
<circle cx="379.6" cy="274.5" r="3.3" fill="#fc1f00"/>
<circle cx="377.8" cy="278.7" r="3.3" fill="#fc1f00"/>
<circle cx="358.9" cy="297.5" r="3.3" fill="#fc1f00"/>
<circle cx="356.2" cy="299.4" r="3.3" fill="#fc1f00"/>
<circle cx="409.9" cy="230.2" r="3.3" fill="#ff2800"/>
<circle cx="406.2" cy="235.5" r="3.3" fill="#fe2200"/>
<circle cx="387.9" cy="261.6" r="3.3" fill="#ff2200"/>
<circle cx="372.1" cy="279.6" r="3.3" fill="#fe2200"/>
<circle cx="410.4" cy="235.8" r="3.3" fill="#ff4000"/>
<circle cx="381.7" cy="268.8" r="3.3" fill="#f81a00"/>
<circle cx="413.1" cy="231.2" r="3.3" fill="#ff3900"/>
<circle cx="411.9" cy="233.6" r="3.3" fill="#ff2500"/>
<circle cx="382.5" cy="271.0" r="3.3" fill="#fa1d00"/>
<circle cx="380.2" cy="270.8" r="3.3" fill="#fd2000"/>
<circle cx="381.1" cy="273.4" r="3.3" fill="#f81900"/>
<circle cx="390.0" cy="266.0" r="3.3" fill="#fd2100"/>
<circle cx="408.5" cy="234.4" r="3.3" fill="#ff3500"/>
<circle cx="396.5" cy="252.9" r="3.3" fill="#fd2000"/>
<circle cx="417.6" cy="221.6" r="3.3" fill="#ff3a00"/>
<circle cx="377.8" cy="273.9" r="3.3" fill="#f91c00"/>
<circle cx="399.4" cy="249.0" r="3.3" fill="#ff2900"/>
<circle cx="385.8" cy="265.4" r="3.3" fill="#fb1d00"/>
<circle cx="410.5" cy="228.7" r="3.3" fill="#ff2600"/>
<circle cx="384.6" cy="271.0" r="3.3" fill="#fd2000"/>
<circle cx="415.5" cy="232.3" r="3.3" fill="#ff2e00"/>
<circle cx="376.6" cy="275.7" r="3.3" fill="#fa1d00"/>
<circle cx="379.7" cy="271.3" r="3.3" fill="#f91b00"/>
<circle cx="382.8" cy="269.2" r="3.3" fill="#ff2800"/>
<circle cx="397.4" cy="254.6" r="3.3" fill="#fe2100"/>
<circle cx="405.3" cy="243.9" r="3.3" fill="#ff3b00"/>
<circle cx="385.2" cy="267.2" r="3.3" fill="#fd2100"/>
<circle cx="391.8" cy="259.7" r="3.3" fill="#ff2400"/>
<circle cx="390.5" cy="258.4" r="3.3" fill="#ff2900"/>
<circle cx="412.4" cy="228.7" r="3.3" fill="#ff3200"/>
<circle cx="417.3" cy="224.0" r="3.3" fill="#ff2c00"/>
<circle cx="377.7" cy="274.4" r="3.3" fill="#fa1c00"/>
<circle cx="387.7" cy="268.0" r="3.3" fill="#f91b00"/>
<circle cx="373.3" cy="279.6" r="3.3" fill="#fd2000"/>
<circle cx="417.4" cy="223.6" r="3.3" fill="#ff4a00"/>
<circle cx="407.4" cy="234.2" r="3.3" fill="#fe2200"/>
<circle cx="419.6" cy="221.8" r="3.3" fill="#ff3800"/>
<circle cx="392.4" cy="260.3" r="3.3" fill="#fe2200"/>
<circle cx="421.2" cy="220.4" r="3.3" fill="#fe2100"/>
<circle cx="420.8" cy="223.2" r="3.3" fill="#ff3400"/>
<circle cx="372.4" cy="279.6" r="3.3" fill="#fc1f00"/>
<circle cx="415.0" cy="229.9" r="3.3" fill="#ff3200"/>
<circle cx="398.2" cy="253.9" r="3.3" fill="#ff3100"/>
<circle cx="408.1" cy="232.7" r="3.3" fill="#ff3800"/>
<circle cx="412.0" cy="231.6" r="3.3" fill="#ff3000"/>
<circle cx="395.7" cy="253.4" r="3.3" fill="#fe2100"/>
<circle cx="400.0" cy="253.0" r="3.3" fill="#fb1e00"/>
<circle cx="419.8" cy="223.9" r="3.3" fill="#ff4600"/>
<circle cx="406.2" cy="239.8" r="3.3" fill="#ff2600"/>
<circle cx="410.8" cy="230.2" r="3.3" fill="#ff2600"/>
<circle cx="411.9" cy="237.0" r="3.3" fill="#ff2300"/>
<circle cx="408.7" cy="236.2" r="3.3" fill="#ff2b00"/>
<circle cx="388.4" cy="267.2" r="3.3" fill="#fb1e00"/>
<circle cx="399.2" cy="252.4" r="3.3" fill="#fd2100"/>
<circle cx="376.2" cy="275.2" r="3.3" fill="#f61600"/>
<circle cx="372.8" cy="279.8" r="3.3" fill="#f61700"/>
<circle cx="393.1" cy="256.5" r="3.3" fill="#fc1f00"/>
<circle cx="416.4" cy="221.1" r="3.3" fill="#ff3100"/>
<circle cx="398.0" cy="249.3" r="3.3" fill="#fd2100"/>
<circle cx="374.4" cy="278.1" r="3.3" fill="#fd2000"/>
<circle cx="409.1" cy="232.8" r="3.3" fill="#ff2f00"/>
<circle cx="381.7" cy="273.6" r="3.3" fill="#fb1e00"/>
<circle cx="414.4" cy="226.5" r="3.3" fill="#ff3100"/>
<circle cx="386.5" cy="268.9" r="3.3" fill="#f81900"/>
<circle cx="373.8" cy="278.3" r="3.3" fill="#fe2200"/>
<circle cx="402.6" cy="247.0" r="3.3" fill="#fd2000"/>
<circle cx="416.2" cy="227.7" r="3.3" fill="#ff2e00"/>
<circle cx="384.9" cy="270.9" r="3.3" fill="#fa1c00"/>
<circle cx="402.5" cy="241.0" r="3.3" fill="#ff3800"/>
<circle cx="392.3" cy="260.1" r="3.3" fill="#ff2c00"/>
<circle cx="376.4" cy="276.1" r="3.3" fill="#f81a00"/>
<circle cx="392.5" cy="260.8" r="3.3" fill="#fe2200"/>
<circle cx="411.1" cy="236.3" r="3.3" fill="#ff2300"/>
<circle cx="386.4" cy="268.8" r="3.3" fill="#fa1d00"/>
<circle cx="407.2" cy="240.0" r="3.3" fill="#fb1e00"/>
<circle cx="410.4" cy="236.6" r="3.3" fill="#ff2300"/>
<circle cx="386.6" cy="269.5" r="3.3" fill="#fc1f00"/>
<circle cx="380.9" cy="272.7" r="3.3" fill="#fb1d00"/>
<circle cx="419.4" cy="222.1" r="3.3" fill="#ff2c00"/>
<circle cx="390.4" cy="261.7" r="3.3" fill="#fd2100"/>
<circle cx="406.9" cy="241.6" r="3.3" fill="#fd2000"/>
<circle cx="397.6" cy="248.5" r="3.3" fill="#fe2200"/>
<circle cx="403.1" cy="240.7" r="3.3" fill="#ff2d00"/>
<circle cx="396.9" cy="252.4" r="3.3" fill="#ff2300"/>
<circle cx="418.3" cy="219.7" r="3.3" fill="#ff4900"/>
<circle cx="386.0" cy="267.0" r="3.3" fill="#ff2b00"/>
<circle cx="408.0" cy="239.8" r="3.3" fill="#ff2a00"/>
<circle cx="410.0" cy="233.4" r="3.3" fill="#ff3000"/>
<circle cx="400.5" cy="248.9" r="3.3" fill="#fd2000"/>
<circle cx="394.4" cy="259.9" r="3.3" fill="#fe2200"/>
<circle cx="389.6" cy="262.8" r="3.3" fill="#ff2300"/>
<circle cx="376.3" cy="275.4" r="3.3" fill="#fc2000"/>
<circle cx="395.0" cy="259.0" r="3.3" fill="#fc1f00"/>
<circle cx="404.9" cy="241.6" r="3.3" fill="#ff2400"/>
<circle cx="406.2" cy="244.8" r="3.3" fill="#fe2100"/>
<circle cx="401.0" cy="243.1" r="3.3" fill="#fa1d00"/>
<circle cx="405.0" cy="237.7" r="3.3" fill="#ff3900"/>
<circle cx="406.9" cy="241.3" r="3.3" fill="#ff3100"/>
<circle cx="400.5" cy="245.4" r="3.3" fill="#ff2900"/>
<circle cx="373.4" cy="280.1" r="3.3" fill="#ff2800"/>
<circle cx="372.6" cy="278.3" r="3.3" fill="#fb1d00"/>
<circle cx="393.4" cy="261.0" r="3.3" fill="#fa1c00"/>
<circle cx="396.0" cy="255.1" r="3.3" fill="#ff2900"/>
<circle cx="415.0" cy="229.9" r="3.3" fill="#fe2100"/>
<circle cx="400.6" cy="253.6" r="3.3" fill="#ff3300"/>
<circle cx="391.1" cy="261.1" r="3.3" fill="#f91c00"/>
<circle cx="383.3" cy="270.1" r="3.3" fill="#ff2b00"/>
<circle cx="406.3" cy="241.8" r="3.3" fill="#ff2200"/>
<circle cx="389.7" cy="261.1" r="3.3" fill="#fe2100"/>
<circle cx="387.9" cy="261.4" r="3.3" fill="#ff2300"/>
<circle cx="401.7" cy="244.2" r="3.3" fill="#fe2100"/>
<circle cx="404.1" cy="245.1" r="3.3" fill="#ff2600"/>
<circle cx="402.8" cy="240.8" r="3.3" fill="#ff2c00"/>
<circle cx="378.5" cy="272.3" r="3.3" fill="#fc1f00"/>
<circle cx="382.7" cy="272.0" r="3.3" fill="#f61700"/>
<circle cx="399.7" cy="248.3" r="3.3" fill="#fe2100"/>
<circle cx="390.9" cy="261.0" r="3.3" fill="#fc2000"/>
<circle cx="401.3" cy="248.5" r="3.3" fill="#fa1c00"/>
<circle cx="413.0" cy="230.0" r="3.3" fill="#ff2d00"/>
<circle cx="399.4" cy="251.4" r="3.3" fill="#fb1e00"/>
<circle cx="381.9" cy="271.5" r="3.3" fill="#fa1c00"/>
<circle cx="383.2" cy="268.9" r="3.3" fill="#fb1e00"/>
<circle cx="394.7" cy="255.7" r="3.3" fill="#ff2300"/>
<circle cx="399.8" cy="254.6" r="3.3" fill="#ff2b00"/>
<circle cx="409.4" cy="240.0" r="3.3" fill="#fc1e00"/>
<circle cx="403.1" cy="249.0" r="3.3" fill="#fd2100"/>
<circle cx="416.7" cy="222.6" r="3.3" fill="#ff2300"/>
<circle cx="385.6" cy="267.4" r="3.3" fill="#f81a00"/>
<circle cx="397.9" cy="252.9" r="3.3" fill="#fe2200"/>
<circle cx="385.3" cy="268.3" r="3.3" fill="#ff2200"/>
<circle cx="419.9" cy="226.5" r="3.3" fill="#ff3400"/>
<circle cx="386.5" cy="268.4" r="3.3" fill="#fb1d00"/>
<circle cx="413.2" cy="231.1" r="3.3" fill="#ff2900"/>
<circle cx="405.6" cy="244.5" r="3.3" fill="#ff2700"/>
<circle cx="416.9" cy="224.6" r="3.3" fill="#ff3600"/>
<circle cx="398.8" cy="255.0" r="3.3" fill="#ff2900"/>
<circle cx="411.1" cy="236.9" r="3.3" fill="#fe2100"/>
<circle cx="384.0" cy="265.9" r="3.3" fill="#fc1f00"/>
<circle cx="408.7" cy="237.4" r="3.3" fill="#fc1f00"/>
<circle cx="401.1" cy="249.4" r="3.3" fill="#ff2500"/>
<circle cx="403.9" cy="244.1" r="3.3" fill="#ff2300"/>
<circle cx="403.3" cy="240.2" r="3.3" fill="#ff2a00"/>
<circle cx="409.3" cy="234.0" r="3.3" fill="#ff3c00"/>
<circle cx="381.7" cy="272.5" r="3.3" fill="#f71900"/>
<circle cx="397.5" cy="254.9" r="3.3" fill="#fd2100"/>
<circle cx="399.9" cy="247.4" r="3.3" fill="#fd2100"/>
<circle cx="380.1" cy="275.7" r="3.3" fill="#fd2000"/>
<circle cx="412.2" cy="227.0" r="3.3" fill="#f91b00"/>
<circle cx="390.1" cy="265.3" r="3.3" fill="#f91a00"/>
<circle cx="376.7" cy="277.3" r="3.3" fill="#fb1e00"/>
<circle cx="419.0" cy="226.2" r="3.3" fill="#ff2a00"/>
<circle cx="398.7" cy="253.7" r="3.3" fill="#fb1e00"/>
<circle cx="416.4" cy="231.1" r="3.3" fill="#ff3800"/>
<circle cx="413.4" cy="230.2" r="3.3" fill="#ff2a00"/>
<circle cx="385.8" cy="268.3" r="3.3" fill="#f81a00"/>
<circle cx="416.9" cy="225.9" r="3.3" fill="#ff2b00"/>
<circle cx="393.7" cy="257.4" r="3.3" fill="#fb1e00"/>
<circle cx="385.1" cy="267.5" r="3.3" fill="#fc2000"/>
<circle cx="378.5" cy="274.3" r="3.3" fill="#fb1e00"/>
<circle cx="422.2" cy="223.5" r="3.3" fill="#ff2900"/>
<circle cx="388.3" cy="262.4" r="3.3" fill="#fb1e00"/>
<circle cx="405.0" cy="240.4" r="3.3" fill="#ff3000"/>
<circle cx="400.4" cy="247.1" r="3.3" fill="#ff2500"/>
<circle cx="406.9" cy="242.0" r="3.3" fill="#ff2300"/>
<circle cx="416.1" cy="227.8" r="3.3" fill="#ff3f00"/>
<circle cx="374.8" cy="279.0" r="3.3" fill="#fc1f00"/>
<circle cx="379.0" cy="276.3" r="3.3" fill="#fe2200"/>
<circle cx="408.9" cy="234.2" r="3.3" fill="#fc1f00"/>
<circle cx="408.7" cy="238.3" r="3.3" fill="#fe2100"/>
<circle cx="403.0" cy="241.7" r="3.3" fill="#ff2600"/>
<circle cx="355.7" cy="302.3" r="3.3" fill="#fe2100"/>
<circle cx="366.7" cy="287.0" r="3.3" fill="#fa1c00"/>
<circle cx="345.2" cy="311.0" r="3.3" fill="#f81a00"/>
<circle cx="342.0" cy="313.0" r="3.3" fill="#f61700"/>
<circle cx="363.9" cy="294.8" r="3.3" fill="#fd2000"/>
<circle cx="360.0" cy="295.4" r="3.3" fill="#fd2100"/>
<circle cx="347.9" cy="308.2" r="3.3" fill="#fb1e00"/>
<circle cx="368.0" cy="285.9" r="3.3" fill="#ff4700"/>
<circle cx="363.1" cy="296.4" r="3.3" fill="#fa1c00"/>
<circle cx="347.2" cy="308.8" r="3.3" fill="#fa1d00"/>
<circle cx="353.7" cy="303.7" r="3.3" fill="#fd2100"/>
<circle cx="362.2" cy="295.3" r="3.3" fill="#ff3700"/>
<circle cx="340.8" cy="314.2" r="3.3" fill="#fb1e00"/>
<circle cx="351.0" cy="303.9" r="3.3" fill="#fb1d00"/>
<circle cx="363.0" cy="296.5" r="3.3" fill="#fe2100"/>
<circle cx="355.1" cy="300.2" r="3.3" fill="#fb1d00"/>
<circle cx="345.5" cy="309.5" r="3.3" fill="#fe2100"/>
<circle cx="349.3" cy="305.9" r="3.3" fill="#fc1f00"/>
<circle cx="350.4" cy="304.7" r="3.3" fill="#fb1e00"/>
<circle cx="363.7" cy="292.9" r="3.3" fill="#f91b00"/>
<circle cx="368.2" cy="284.4" r="3.3" fill="#fe2100"/>
<circle cx="342.1" cy="312.9" r="3.3" fill="#fe2200"/>
<circle cx="346.1" cy="311.1" r="3.3" fill="#f91a00"/>
<circle cx="366.5" cy="290.0" r="3.3" fill="#fc1f00"/>
<circle cx="349.4" cy="307.9" r="3.3" fill="#fb1e00"/>
<circle cx="361.9" cy="297.4" r="3.3" fill="#fd2100"/>
<circle cx="369.7" cy="284.8" r="3.3" fill="#ff2a00"/>
<circle cx="367.6" cy="289.9" r="3.3" fill="#ff2500"/>
<circle cx="449.9" cy="159.6" r="3.3" fill="#ff2300"/>
<circle cx="449.4" cy="165.0" r="3.3" fill="#ff2300"/>
<circle cx="437.6" cy="177.2" r="3.3" fill="#f81a00"/>
<circle cx="436.9" cy="186.9" r="3.3" fill="#f81a00"/>
<circle cx="452.4" cy="156.1" r="3.3" fill="#fb1e00"/>
<circle cx="451.9" cy="161.4" r="3.3" fill="#ff4000"/>
<circle cx="438.6" cy="194.0" r="3.3" fill="#fc1f00"/>
<circle cx="453.8" cy="151.8" r="3.3" fill="#fa1d00"/>
<circle cx="439.0" cy="194.0" r="3.3" fill="#f91a00"/>
<circle cx="447.7" cy="165.1" r="3.3" fill="#fe2200"/>
<circle cx="426.0" cy="213.4" r="3.3" fill="#f61700"/>
<circle cx="433.5" cy="199.9" r="3.3" fill="#fb1d00"/>
<circle cx="451.7" cy="154.9" r="3.3" fill="#fd2000"/>
<circle cx="439.8" cy="193.9" r="3.3" fill="#fa1c00"/>
<circle cx="440.0" cy="175.0" r="3.3" fill="#fb1d00"/>
<circle cx="447.6" cy="159.4" r="3.3" fill="#ff2c00"/>
<circle cx="430.0" cy="202.3" r="3.3" fill="#fb1d00"/>
<circle cx="434.9" cy="204.0" r="3.3" fill="#ff2300"/>
<circle cx="449.7" cy="156.5" r="3.3" fill="#fd2000"/>
<circle cx="438.4" cy="179.2" r="3.3" fill="#fd2100"/>
<circle cx="436.4" cy="202.2" r="3.3" fill="#ff2d00"/>
<circle cx="445.9" cy="172.5" r="3.3" fill="#fd2000"/>
<circle cx="437.0" cy="192.6" r="3.3" fill="#f81a00"/>
<circle cx="428.5" cy="207.3" r="3.3" fill="#f51500"/>
<circle cx="460.4" cy="149.9" r="3.3" fill="#ff2600"/>
<circle cx="445.3" cy="181.5" r="3.3" fill="#fe2200"/>
<circle cx="428.2" cy="214.4" r="3.3" fill="#fc1f00"/>
<circle cx="445.6" cy="172.6" r="3.3" fill="#fc1f00"/>
<circle cx="443.7" cy="173.3" r="3.3" fill="#ff2700"/>
<circle cx="450.6" cy="168.5" r="3.3" fill="#ff2800"/>
<circle cx="420.3" cy="216.9" r="3.3" fill="#fb1d00"/>
<circle cx="441.0" cy="179.3" r="3.3" fill="#fc1f00"/>
<circle cx="436.2" cy="191.6" r="3.3" fill="#ff2200"/>
<circle cx="442.7" cy="165.1" r="3.3" fill="#fe2200"/>
<circle cx="442.3" cy="191.3" r="3.3" fill="#ff2f00"/>
<circle cx="458.7" cy="153.0" r="3.3" fill="#fc1f00"/>
<circle cx="421.6" cy="220.7" r="3.3" fill="#fb1e00"/>
<circle cx="436.9" cy="198.4" r="3.3" fill="#fa1c00"/>
<circle cx="441.6" cy="175.2" r="3.3" fill="#ff2500"/>
<circle cx="452.3" cy="152.1" r="3.3" fill="#fb1e00"/>
<circle cx="419.3" cy="220.1" r="3.3" fill="#f81a00"/>
<circle cx="445.1" cy="183.6" r="3.3" fill="#fc1f00"/>
<circle cx="434.0" cy="208.1" r="3.3" fill="#f71800"/>
<circle cx="424.5" cy="215.6" r="3.3" fill="#f81900"/>
<circle cx="432.4" cy="202.2" r="3.3" fill="#fe2100"/>
<circle cx="430.9" cy="201.3" r="3.3" fill="#f61700"/>
<circle cx="459.8" cy="149.3" r="3.3" fill="#ff2f00"/>
<circle cx="447.7" cy="171.7" r="3.3" fill="#fc1f00"/>
<circle cx="441.2" cy="189.2" r="3.3" fill="#f71800"/>
<circle cx="445.5" cy="171.7" r="3.3" fill="#ff2300"/>
<circle cx="441.3" cy="168.9" r="3.3" fill="#fc1f00"/>
<circle cx="429.4" cy="205.6" r="3.3" fill="#f71900"/>
<circle cx="433.6" cy="201.3" r="3.3" fill="#f91b00"/>
<circle cx="442.2" cy="167.0" r="3.3" fill="#ff2900"/>
<circle cx="440.6" cy="175.8" r="3.3" fill="#fe2200"/>
<circle cx="445.4" cy="168.0" r="3.3" fill="#f91b00"/>
<circle cx="430.9" cy="212.2" r="3.3" fill="#f91a00"/>
<circle cx="451.9" cy="161.4" r="3.3" fill="#ff2900"/>
<circle cx="432.9" cy="206.8" r="3.3" fill="#f81900"/>
<circle cx="452.5" cy="160.4" r="3.3" fill="#ff3200"/>
<circle cx="438.9" cy="184.9" r="3.3" fill="#f91b00"/>
<circle cx="428.9" cy="209.9" r="3.3" fill="#fd2000"/>
<circle cx="424.7" cy="216.2" r="3.3" fill="#fd2000"/>
<circle cx="453.3" cy="154.6" r="3.3" fill="#ff2600"/>
<circle cx="449.7" cy="172.1" r="3.3" fill="#ff3700"/>
<circle cx="426.7" cy="216.4" r="3.3" fill="#f51600"/>
<circle cx="442.7" cy="179.9" r="3.3" fill="#fd2000"/>
<circle cx="436.6" cy="189.0" r="3.3" fill="#ff2500"/>
<circle cx="434.9" cy="202.5" r="3.3" fill="#f81900"/>
<circle cx="439.0" cy="181.2" r="3.3" fill="#fd2100"/>
<circle cx="438.1" cy="179.6" r="3.3" fill="#ff2600"/>
<circle cx="443.9" cy="173.1" r="3.3" fill="#fa1c00"/>
<circle cx="438.2" cy="196.2" r="3.3" fill="#f91a00"/>
<circle cx="444.2" cy="174.7" r="3.3" fill="#fe2200"/>
<circle cx="438.7" cy="183.3" r="3.3" fill="#fe2100"/>
<circle cx="447.0" cy="177.9" r="3.3" fill="#ff2a00"/>
<circle cx="423.0" cy="218.2" r="3.3" fill="#fb1d00"/>
<circle cx="454.1" cy="150.5" r="3.3" fill="#ff2600"/>
<circle cx="441.0" cy="193.2" r="3.3" fill="#f81a00"/>
<circle cx="450.6" cy="162.9" r="3.3" fill="#ff2f00"/>
<circle cx="449.0" cy="165.7" r="3.3" fill="#ff3b00"/>
<circle cx="452.9" cy="155.4" r="3.3" fill="#fe2100"/>
<circle cx="422.9" cy="214.5" r="3.3" fill="#f91b00"/>
<circle cx="452.6" cy="158.6" r="3.3" fill="#fd2000"/>
<circle cx="435.8" cy="200.4" r="3.3" fill="#ff2500"/>
<circle cx="434.2" cy="198.7" r="3.3" fill="#ff2300"/>
<circle cx="442.6" cy="185.5" r="3.3" fill="#fc1f00"/>
<circle cx="445.2" cy="160.8" r="3.3" fill="#fa1c00"/>
<circle cx="456.1" cy="150.9" r="3.3" fill="#fe2100"/>
<circle cx="440.6" cy="188.1" r="3.3" fill="#fa1d00"/>
<circle cx="437.3" cy="193.9" r="3.3" fill="#f91b00"/>
<circle cx="440.8" cy="180.6" r="3.3" fill="#fe2200"/>
<circle cx="429.7" cy="202.1" r="3.3" fill="#fe2100"/>
<circle cx="443.2" cy="182.9" r="3.3" fill="#f71800"/>
<circle cx="452.0" cy="160.5" r="3.3" fill="#fe2200"/>
<circle cx="438.2" cy="187.6" r="3.3" fill="#fb1e00"/>
<circle cx="436.4" cy="195.9" r="3.3" fill="#f91a00"/>
<circle cx="444.2" cy="172.1" r="3.3" fill="#ff2c00"/>
<circle cx="430.0" cy="203.0" r="3.3" fill="#fd2000"/>
<circle cx="447.7" cy="163.1" r="3.3" fill="#ff2900"/>
<circle cx="444.6" cy="165.9" r="3.3" fill="#fc1f00"/>
<circle cx="444.3" cy="173.5" r="3.3" fill="#f71900"/>
<circle cx="429.3" cy="207.2" r="3.3" fill="#fe2200"/>
<circle cx="448.7" cy="170.0" r="3.3" fill="#ff2d00"/>
<circle cx="435.1" cy="203.0" r="3.3" fill="#f91b00"/>
<circle cx="458.8" cy="153.8" r="3.3" fill="#ff4b00"/>
<circle cx="441.0" cy="175.7" r="3.3" fill="#fd2100"/>
<circle cx="446.9" cy="168.2" r="3.3" fill="#fe2200"/>
<circle cx="441.5" cy="190.2" r="3.3" fill="#fc1f00"/>
<circle cx="453.7" cy="156.3" r="3.3" fill="#ff2500"/>
<circle cx="431.2" cy="201.3" r="3.3" fill="#ff2500"/>
<circle cx="441.4" cy="172.8" r="3.3" fill="#fc1f00"/>
<circle cx="452.1" cy="157.6" r="3.3" fill="#ff2a00"/>
<circle cx="444.5" cy="179.5" r="3.3" fill="#f71800"/>
<circle cx="450.9" cy="162.2" r="3.3" fill="#fc1f00"/>
<circle cx="429.4" cy="212.7" r="3.3" fill="#f41400"/>
<circle cx="453.7" cy="156.9" r="3.3" fill="#f91b00"/>
<circle cx="441.2" cy="173.9" r="3.3" fill="#fd2000"/>
<circle cx="442.5" cy="184.9" r="3.3" fill="#ff2300"/>
<circle cx="449.6" cy="165.9" r="3.3" fill="#fc2000"/>
<circle cx="447.5" cy="169.5" r="3.3" fill="#fe2100"/>
<circle cx="433.4" cy="200.4" r="3.3" fill="#fe2100"/>
<circle cx="442.6" cy="180.8" r="3.3" fill="#fd2100"/>
<circle cx="434.6" cy="205.5" r="3.3" fill="#f81a00"/>
<circle cx="442.3" cy="180.2" r="3.3" fill="#f91b00"/>
<circle cx="449.7" cy="158.6" r="3.3" fill="#fb1d00"/>
<circle cx="442.1" cy="172.7" r="3.3" fill="#fa1d00"/>
<circle cx="443.8" cy="175.7" r="3.3" fill="#ff2300"/>
<circle cx="435.4" cy="195.6" r="3.3" fill="#fb1e00"/>
<circle cx="456.7" cy="160.7" r="3.3" fill="#fd2100"/>
<circle cx="446.8" cy="167.6" r="3.3" fill="#ff5a00"/>
<circle cx="450.9" cy="171.5" r="3.3" fill="#fd2000"/>
<circle cx="442.5" cy="193.2" r="3.3" fill="#fc1f00"/>
<circle cx="439.4" cy="177.5" r="3.3" fill="#fe2200"/>
<circle cx="443.6" cy="170.7" r="3.3" fill="#fd2100"/>
<circle cx="430.1" cy="212.5" r="3.3" fill="#fa1c00"/>
<circle cx="454.5" cy="150.0" r="3.3" fill="#fb1e00"/>
<circle cx="442.9" cy="174.3" r="3.3" fill="#ff2500"/>
<circle cx="432.2" cy="201.4" r="3.3" fill="#fb1d00"/>
<circle cx="434.4" cy="186.8" r="3.3" fill="#fb1e00"/>
<circle cx="453.3" cy="154.8" r="3.3" fill="#ff3c00"/>
<circle cx="456.3" cy="150.8" r="3.3" fill="#fd2000"/>
<circle cx="424.2" cy="219.3" r="3.3" fill="#f61800"/>
<circle cx="437.2" cy="192.9" r="3.3" fill="#fc1f00"/>
<circle cx="422.1" cy="217.6" r="3.3" fill="#f91b00"/>
<circle cx="452.4" cy="154.3" r="3.3" fill="#fe2200"/>
<circle cx="431.8" cy="209.2" r="3.3" fill="#f31300"/>
<circle cx="446.9" cy="167.8" r="3.3" fill="#ff2200"/>
<circle cx="440.9" cy="188.3" r="3.3" fill="#fb1d00"/>
<circle cx="454.4" cy="148.9" r="3.3" fill="#ff2500"/>
<circle cx="432.0" cy="205.4" r="3.3" fill="#f81900"/>
<circle cx="437.9" cy="199.1" r="3.3" fill="#f61600"/>
<circle cx="433.1" cy="208.0" r="3.3" fill="#fa1d00"/>
<circle cx="439.9" cy="183.5" r="3.3" fill="#fa1d00"/>
<circle cx="435.2" cy="191.4" r="3.3" fill="#f71800"/>
<circle cx="443.8" cy="175.9" r="3.3" fill="#ff2700"/>
<circle cx="446.0" cy="180.6" r="3.3" fill="#ff2c00"/>
<circle cx="440.7" cy="184.6" r="3.3" fill="#fc1f00"/>
<circle cx="426.8" cy="215.7" r="3.3" fill="#f71800"/>
<circle cx="443.1" cy="182.7" r="3.3" fill="#f91b00"/>
<circle cx="439.5" cy="185.4" r="3.3" fill="#fd2100"/>
<circle cx="428.3" cy="208.4" r="3.3" fill="#fd2000"/>
<circle cx="454.5" cy="156.5" r="3.3" fill="#fe2200"/>
<circle cx="454.5" cy="152.2" r="3.3" fill="#ff2800"/>
<circle cx="440.0" cy="179.2" r="3.3" fill="#ff2300"/>
<circle cx="425.4" cy="215.7" r="3.3" fill="#fa1d00"/>
<circle cx="425.8" cy="212.3" r="3.3" fill="#f51600"/>
<circle cx="454.5" cy="159.2" r="3.3" fill="#ff2a00"/>
<circle cx="447.9" cy="177.0" r="3.3" fill="#ff2b00"/>
<circle cx="437.0" cy="199.5" r="3.3" fill="#f61800"/>
<circle cx="423.6" cy="216.9" r="3.3" fill="#f91a00"/>
<circle cx="444.7" cy="168.0" r="3.3" fill="#ff2a00"/>
<circle cx="442.5" cy="169.4" r="3.3" fill="#ff2c00"/>
<circle cx="442.0" cy="173.8" r="3.3" fill="#fe2200"/>
<circle cx="446.4" cy="181.5" r="3.3" fill="#fe2200"/>
<circle cx="440.5" cy="178.9" r="3.3" fill="#fe2100"/>
<circle cx="441.5" cy="180.6" r="3.3" fill="#fd2100"/>
<circle cx="435.1" cy="198.5" r="3.3" fill="#fb1d00"/>
<circle cx="449.3" cy="161.3" r="3.3" fill="#fe2100"/>
<circle cx="449.9" cy="164.5" r="3.3" fill="#fe2200"/>
<circle cx="434.0" cy="208.3" r="3.3" fill="#fc1f00"/>
<circle cx="440.8" cy="182.0" r="3.3" fill="#f91b00"/>
<circle cx="436.9" cy="203.2" r="3.3" fill="#f91b00"/>
<circle cx="430.1" cy="205.0" r="3.3" fill="#f81900"/>
<circle cx="428.5" cy="211.4" r="3.3" fill="#fd2100"/>
<circle cx="450.0" cy="167.8" r="3.3" fill="#ff2300"/>
<circle cx="454.7" cy="152.0" r="3.3" fill="#ff2300"/>
<circle cx="451.6" cy="160.4" r="3.3" fill="#fe2200"/>
<circle cx="450.7" cy="159.4" r="3.3" fill="#ff3b00"/>
<circle cx="439.8" cy="193.4" r="3.3" fill="#fb1e00"/>
<circle cx="434.1" cy="202.6" r="3.3" fill="#f81a00"/>
<circle cx="455.6" cy="153.6" r="3.3" fill="#ff2900"/>
<circle cx="455.1" cy="150.5" r="3.3" fill="#fc1f00"/>
<circle cx="438.8" cy="181.9" r="3.3" fill="#fc1e00"/>
<circle cx="455.9" cy="149.5" r="3.3" fill="#ff3100"/>
<circle cx="446.6" cy="181.2" r="3.3" fill="#f81a00"/>
<circle cx="438.9" cy="193.6" r="3.3" fill="#fe2200"/>
<circle cx="425.0" cy="213.7" r="3.3" fill="#fb1e00"/>
<circle cx="429.5" cy="209.8" r="3.3" fill="#fc1f00"/>
<circle cx="432.9" cy="214.1" r="3.3" fill="#fe2200"/>
<circle cx="437.7" cy="189.7" r="3.3" fill="#fa1d00"/>
<circle cx="446.7" cy="177.1" r="3.3" fill="#fd2000"/>
<circle cx="450.6" cy="165.2" r="3.3" fill="#fe2200"/>
<circle cx="427.6" cy="214.1" r="3.3" fill="#f91b00"/>
<circle cx="445.5" cy="176.3" r="3.3" fill="#ff2c00"/>
<circle cx="459.4" cy="149.4" r="3.3" fill="#fc1f00"/>
<circle cx="451.1" cy="161.5" r="3.3" fill="#fe2200"/>
<circle cx="438.9" cy="199.8" r="3.3" fill="#fe2200"/>
<circle cx="439.3" cy="179.1" r="3.3" fill="#fb1e00"/>
<circle cx="437.7" cy="179.4" r="3.3" fill="#fe2200"/>
<circle cx="433.8" cy="204.1" r="3.3" fill="#f91b00"/>
<circle cx="433.7" cy="193.7" r="3.3" fill="#fd2000"/>
<circle cx="451.4" cy="155.4" r="3.3" fill="#ff2f00"/>
<circle cx="440.5" cy="179.0" r="3.3" fill="#ff3800"/>
<circle cx="421.4" cy="223.9" r="3.3" fill="#fc1f00"/>
<circle cx="440.0" cy="173.2" r="3.3" fill="#ff2a00"/>
<circle cx="434.2" cy="208.5" r="3.3" fill="#f81900"/>
<circle cx="442.2" cy="180.7" r="3.3" fill="#fb1e00"/>
<circle cx="450.4" cy="166.9" r="3.3" fill="#ff4200"/>
<circle cx="430.4" cy="204.4" r="3.3" fill="#f61700"/>
<circle cx="433.7" cy="206.0" r="3.3" fill="#f71800"/>
<circle cx="443.4" cy="183.6" r="3.3" fill="#fb1e00"/>
<circle cx="443.5" cy="180.8" r="3.3" fill="#ff2500"/>
<circle cx="448.1" cy="167.9" r="3.3" fill="#ff2e00"/>
<circle cx="433.9" cy="196.5" r="3.3" fill="#f71900"/>
<circle cx="450.6" cy="162.7" r="3.3" fill="#fb1e00"/>
<circle cx="432.0" cy="206.9" r="3.3" fill="#fb1e00"/>
<circle cx="455.9" cy="151.8" r="3.3" fill="#fa1d00"/>
<circle cx="447.4" cy="161.2" r="3.3" fill="#fd2000"/>
<circle cx="433.7" cy="193.9" r="3.3" fill="#fa1c00"/>
<circle cx="458.1" cy="153.8" r="3.3" fill="#ff3b00"/>
<circle cx="429.7" cy="209.2" r="3.3" fill="#fc1f00"/>
<circle cx="443.6" cy="175.3" r="3.3" fill="#ff2500"/>
<circle cx="438.1" cy="182.2" r="3.3" fill="#ff2200"/>
<circle cx="442.9" cy="184.9" r="3.3" fill="#f81900"/>
<circle cx="456.0" cy="153.7" r="3.3" fill="#ff3c00"/>
<circle cx="436.8" cy="195.6" r="3.3" fill="#ff2200"/>
<circle cx="437.0" cy="188.4" r="3.3" fill="#f91b00"/>
<circle cx="422.4" cy="215.3" r="3.3" fill="#fb1e00"/>
<circle cx="449.3" cy="153.7" r="3.3" fill="#ff3100"/>
<circle cx="445.1" cy="171.4" r="3.3" fill="#ff2a00"/>
<circle cx="441.4" cy="185.0" r="3.3" fill="#fc1f00"/>
<circle cx="450.6" cy="165.7" r="3.3" fill="#ff3000"/>
<circle cx="449.3" cy="171.1" r="3.3" fill="#ff2f00"/>
<circle cx="439.7" cy="194.6" r="3.3" fill="#f91c00"/>
<circle cx="453.0" cy="156.1" r="3.3" fill="#fb1d00"/>
<circle cx="420.7" cy="220.1" r="3.3" fill="#f71900"/>
<circle cx="451.1" cy="168.5" r="3.3" fill="#ff3c00"/>
<circle cx="422.1" cy="216.1" r="3.3" fill="#f31400"/>
<circle cx="421.0" cy="218.5" r="3.3" fill="#f91b00"/>
<circle cx="452.7" cy="167.8" r="3.3" fill="#fa1d00"/>
<circle cx="444.9" cy="165.4" r="3.3" fill="#fa1d00"/>
<circle cx="442.6" cy="189.6" r="3.3" fill="#fa1c00"/>
<circle cx="449.1" cy="162.8" r="3.3" fill="#fb1e00"/>
<circle cx="457.5" cy="151.0" r="3.3" fill="#ff2400"/>
<circle cx="439.3" cy="189.0" r="3.3" fill="#fa1c00"/>
<circle cx="444.4" cy="170.7" r="3.3" fill="#ff2f00"/>
<circle cx="438.4" cy="186.9" r="3.3" fill="#fe2200"/>
<circle cx="430.5" cy="208.2" r="3.3" fill="#f61700"/>
<circle cx="423.0" cy="219.2" r="3.3" fill="#f61600"/>
<circle cx="438.0" cy="193.9" r="3.3" fill="#ff2200"/>
<circle cx="437.7" cy="192.2" r="3.3" fill="#f91b00"/>
<circle cx="433.7" cy="209.2" r="3.3" fill="#f91b00"/>
<circle cx="440.4" cy="180.3" r="3.3" fill="#fd2000"/>
<circle cx="432.8" cy="209.3" r="3.3" fill="#fc1e00"/>
<circle cx="440.9" cy="187.0" r="3.3" fill="#fd2100"/>
<circle cx="452.0" cy="158.4" r="3.3" fill="#fc1e00"/>
<circle cx="439.5" cy="188.4" r="3.3" fill="#f61800"/>
<circle cx="450.2" cy="164.9" r="3.3" fill="#fb1e00"/>
<circle cx="455.8" cy="147.3" r="3.3" fill="#ff4200"/>
<circle cx="440.7" cy="186.3" r="3.3" fill="#fd2000"/>
<circle cx="433.8" cy="200.4" r="3.3" fill="#fb1d00"/>
<circle cx="443.2" cy="173.0" r="3.3" fill="#fc1f00"/>
<circle cx="428.5" cy="212.2" r="3.3" fill="#f91b00"/>
<circle cx="438.1" cy="175.8" r="3.3" fill="#ff2d00"/>
<circle cx="424.8" cy="214.2" r="3.3" fill="#fb1e00"/>
<circle cx="424.5" cy="219.9" r="3.3" fill="#f91b00"/>
<circle cx="444.5" cy="171.1" r="3.3" fill="#ff2400"/>
<circle cx="430.3" cy="208.8" r="3.3" fill="#f61700"/>
<circle cx="449.5" cy="153.4" r="3.3" fill="#ff3000"/>
<circle cx="435.0" cy="200.3" r="3.3" fill="#ff2300"/>
<circle cx="451.4" cy="159.6" r="3.3" fill="#ff2700"/>
<circle cx="447.9" cy="167.8" r="3.3" fill="#fd2100"/>
<circle cx="431.2" cy="210.7" r="3.3" fill="#fb1e00"/>
<circle cx="448.9" cy="167.9" r="3.3" fill="#fb1e00"/>
<circle cx="423.6" cy="216.8" r="3.3" fill="#fe2200"/>
<circle cx="445.6" cy="173.1" r="3.3" fill="#fc1e00"/>
<circle cx="442.3" cy="169.7" r="3.3" fill="#ff3100"/>
<circle cx="455.6" cy="157.2" r="3.3" fill="#ff2700"/>
<circle cx="442.6" cy="184.4" r="3.3" fill="#ff2700"/>
<circle cx="426.2" cy="215.1" r="3.3" fill="#f91a00"/>
<circle cx="457.3" cy="147.6" r="3.3" fill="#ff2a00"/>
<circle cx="433.8" cy="197.1" r="3.3" fill="#fc1e00"/>
<circle cx="445.7" cy="166.4" r="3.3" fill="#fc1f00"/>
<circle cx="432.8" cy="198.2" r="3.3" fill="#f91b00"/>
<circle cx="433.5" cy="201.9" r="3.3" fill="#f91b00"/>
<circle cx="426.7" cy="214.3" r="3.3" fill="#f91b00"/>
<circle cx="454.1" cy="160.2" r="3.3" fill="#ff2300"/>
<circle cx="435.8" cy="200.2" r="3.3" fill="#fe2200"/>
<circle cx="432.5" cy="198.2" r="3.3" fill="#f81900"/>
<circle cx="451.1" cy="188.4" r="3.3" fill="#ff2800"/>
<circle cx="457.6" cy="179.8" r="3.3" fill="#ff3000"/>
<circle cx="452.9" cy="182.1" r="3.3" fill="#ff3800"/>
<circle cx="464.0" cy="149.9" r="3.3" fill="#ff7d00"/>
<circle cx="466.4" cy="152.4" r="3.3" fill="#ff5700"/>
<circle cx="453.0" cy="185.1" r="3.3" fill="#ff3a00"/>
<circle cx="462.9" cy="160.2" r="3.3" fill="#ff5900"/>
<circle cx="454.2" cy="171.6" r="3.3" fill="#ff3800"/>
<circle cx="460.2" cy="164.8" r="3.3" fill="#ff5200"/>
<circle cx="454.1" cy="178.0" r="3.3" fill="#ff4500"/>
<circle cx="459.6" cy="161.9" r="3.3" fill="#ff5100"/>
<circle cx="462.3" cy="151.9" r="3.3" fill="#ff6900"/>
<circle cx="464.6" cy="157.0" r="3.3" fill="#ff4d00"/>
<circle cx="456.8" cy="169.7" r="3.3" fill="#ff4900"/>
<circle cx="458.6" cy="170.2" r="3.3" fill="#ff4b00"/>
<circle cx="461.1" cy="165.2" r="3.3" fill="#ff4100"/>
<circle cx="456.0" cy="184.6" r="3.3" fill="#ff2c00"/>
<circle cx="455.0" cy="180.0" r="3.3" fill="#ff4c00"/>
<circle cx="451.2" cy="184.2" r="3.3" fill="#ff3000"/>
<circle cx="453.7" cy="182.9" r="3.3" fill="#ff3a00"/>
<circle cx="452.1" cy="190.7" r="3.3" fill="#ff3400"/>
<circle cx="467.9" cy="151.3" r="3.3" fill="#ff6f00"/>
<circle cx="451.2" cy="188.7" r="3.3" fill="#ff2f00"/>
<circle cx="459.2" cy="165.3" r="3.3" fill="#ff5e00"/>
<circle cx="453.3" cy="181.1" r="3.3" fill="#ff4700"/>
<circle cx="460.4" cy="171.5" r="3.3" fill="#ff3000"/>
<circle cx="459.4" cy="170.6" r="3.3" fill="#ff5500"/>
<circle cx="453.0" cy="183.3" r="3.3" fill="#ff3e00"/>
<circle cx="454.6" cy="182.4" r="3.3" fill="#ff4200"/>
<circle cx="459.4" cy="173.6" r="3.3" fill="#ff3900"/>
<circle cx="462.5" cy="164.8" r="3.3" fill="#ff6700"/>
<circle cx="464.8" cy="161.2" r="3.3" fill="#ff7900"/>
<circle cx="458.1" cy="166.9" r="3.3" fill="#ff4b00"/>
<circle cx="463.1" cy="169.1" r="3.3" fill="#ff3a00"/>
<circle cx="456.1" cy="167.1" r="3.3" fill="#ff4d00"/>
<circle cx="454.8" cy="174.4" r="3.3" fill="#ff5000"/>
<circle cx="467.0" cy="155.0" r="3.3" fill="#ff7100"/>
<circle cx="459.8" cy="162.7" r="3.3" fill="#ff4200"/>
<circle cx="457.2" cy="170.1" r="3.3" fill="#ff4800"/>
<circle cx="451.9" cy="193.6" r="3.3" fill="#fb1e00"/>
<circle cx="450.5" cy="184.6" r="3.3" fill="#ff3500"/>
<circle cx="451.5" cy="194.2" r="3.3" fill="#fe2100"/>
<circle cx="458.8" cy="166.9" r="3.3" fill="#ff3300"/>
<circle cx="452.3" cy="191.9" r="3.3" fill="#ff3200"/>
<circle cx="450.1" cy="192.4" r="3.3" fill="#ff2b00"/>
<circle cx="458.7" cy="162.5" r="3.3" fill="#ff4500"/>
<circle cx="459.4" cy="161.8" r="3.3" fill="#ff5700"/>
<circle cx="467.9" cy="151.9" r="3.3" fill="#ff6d00"/>
<circle cx="453.4" cy="178.8" r="3.3" fill="#ff3000"/>
<circle cx="466.3" cy="160.1" r="3.3" fill="#ff3800"/>
<circle cx="459.7" cy="158.1" r="3.3" fill="#ff5700"/>
<circle cx="455.2" cy="177.9" r="3.3" fill="#ff3c00"/>
<circle cx="463.5" cy="148.2" r="3.3" fill="#ff4800"/>
<circle cx="468.7" cy="141.1" r="3.3" fill="#ff7f00"/>
<circle cx="461.8" cy="147.9" r="3.3" fill="#ff6200"/>
<circle cx="464.2" cy="150.8" r="3.3" fill="#ff3b00"/>
<circle cx="466.8" cy="149.2" r="3.3" fill="#ff5800"/>
<circle cx="466.6" cy="152.2" r="3.3" fill="#ff5100"/>
<circle cx="462.9" cy="152.8" r="3.3" fill="#ff6300"/>
<circle cx="463.0" cy="151.9" r="3.3" fill="#ff5200"/>
<circle cx="465.0" cy="154.0" r="3.3" fill="#ff4900"/>
<circle cx="461.6" cy="148.0" r="3.3" fill="#ff5d00"/>
<circle cx="466.5" cy="152.7" r="3.3" fill="#ff3e00"/>
<circle cx="464.8" cy="142.0" r="3.3" fill="#ff6900"/>
<circle cx="465.3" cy="141.4" r="3.3" fill="#ff8700"/>
<circle cx="462.1" cy="147.2" r="3.3" fill="#ff7800"/>
<circle cx="469.4" cy="145.4" r="3.3" fill="#ff6500"/>
<circle cx="463.9" cy="153.8" r="3.3" fill="#ff6100"/>
<circle cx="467.6" cy="135.3" r="3.3" fill="#ff8b00"/>
<circle cx="471.0" cy="138.0" r="3.3" fill="#ff8000"/>
<circle cx="461.2" cy="153.4" r="3.3" fill="#ff4000"/>
<circle cx="468.5" cy="137.7" r="3.3" fill="#ff6800"/>
<circle cx="465.4" cy="138.6" r="3.3" fill="#ff8e00"/>
<circle cx="466.4" cy="152.5" r="3.3" fill="#ff6000"/>
<circle cx="462.6" cy="149.0" r="3.3" fill="#ff5100"/>
<circle cx="469.9" cy="135.9" r="3.3" fill="#ff8400"/>
<circle cx="468.8" cy="136.6" r="3.3" fill="#ff7e00"/>
<circle cx="464.1" cy="147.7" r="3.3" fill="#ff6c00"/>
<circle cx="462.7" cy="147.1" r="3.3" fill="#ff5000"/>
<circle cx="468.1" cy="140.7" r="3.3" fill="#ff7100"/>
<circle cx="469.4" cy="135.4" r="3.3" fill="#ff7300"/>
<circle cx="471.4" cy="138.2" r="3.3" fill="#ff7200"/>
<circle cx="471.5" cy="137.4" r="3.3" fill="#ff9e00"/>
<circle cx="470.8" cy="137.9" r="3.3" fill="#ff6700"/>
<circle cx="470.5" cy="139.3" r="3.3" fill="#ff7600"/>
<circle cx="463.3" cy="152.5" r="3.3" fill="#ff4600"/>
<circle cx="472.4" cy="137.9" r="3.3" fill="#ff8d00"/>
<circle cx="465.9" cy="152.4" r="3.3" fill="#ff3600"/>
<circle cx="461.7" cy="147.5" r="3.3" fill="#ff4d00"/>
<circle cx="470.1" cy="143.0" r="3.3" fill="#ff6700"/>
<circle cx="469.0" cy="135.5" r="3.3" fill="#ffa700"/>
<circle cx="461.7" cy="154.0" r="3.3" fill="#ff5700"/>
<circle cx="471.3" cy="139.4" r="3.3" fill="#ff7100"/>
<circle cx="469.3" cy="142.7" r="3.3" fill="#ff6200"/>
<circle cx="449.2" cy="118.7" r="3.3" fill="#f00f00"/>
<circle cx="463.3" cy="117.5" r="3.3" fill="#f00f00"/>
<circle cx="499.9" cy="78.6" r="3.3" fill="#0027ed"/>
<circle cx="518.7" cy="119.0" r="3.3" fill="#0027ed"/>
<circle cx="512.8" cy="125.7" r="3.3" fill="#0027ed"/>
<circle cx="509.0" cy="88.0" r="3.3" fill="#0027ed"/>
<circle cx="517.0" cy="106.0" r="3.3" fill="#0027ed"/>
<circle cx="508.9" cy="99.6" r="3.3" fill="#fc1e00"/>
<circle cx="496.0" cy="94.9" r="3.3" fill="#fe2200"/>
<circle cx="492.9" cy="86.7" r="3.3" fill="#fa1d00"/>
<circle cx="501.6" cy="88.4" r="3.3" fill="#ff2b00"/>
<circle cx="500.5" cy="87.4" r="3.3" fill="#ff2a00"/>
<circle cx="499.5" cy="87.5" r="3.3" fill="#ff2900"/>
<circle cx="502.2" cy="85.4" r="3.3" fill="#fe2200"/>
<circle cx="500.9" cy="100.3" r="3.3" fill="#f81900"/>
<circle cx="496.5" cy="93.3" r="3.3" fill="#fd2000"/>
<circle cx="505.3" cy="99.4" r="3.3" fill="#fe2200"/>
<circle cx="497.3" cy="95.8" r="3.3" fill="#fc1e00"/>
<circle cx="495.8" cy="94.2" r="3.3" fill="#f91b00"/>
<circle cx="504.7" cy="90.1" r="3.3" fill="#fc2000"/>
<circle cx="497.0" cy="94.9" r="3.3" fill="#ff3500"/>
<circle cx="501.8" cy="89.9" r="3.3" fill="#ff3b00"/>
<circle cx="501.5" cy="89.0" r="3.3" fill="#f91b00"/>
<circle cx="499.1" cy="88.3" r="3.3" fill="#ff3d00"/>
<circle cx="500.9" cy="82.6" r="3.3" fill="#fc2000"/>
<circle cx="495.1" cy="98.0" r="3.3" fill="#ff4000"/>
<circle cx="499.8" cy="90.5" r="3.3" fill="#fe2200"/>
<circle cx="509.2" cy="88.9" r="3.3" fill="#ff2a00"/>
<circle cx="504.5" cy="85.5" r="3.3" fill="#ff2700"/>
<circle cx="503.3" cy="87.4" r="3.3" fill="#fa1d00"/>
<circle cx="497.4" cy="99.0" r="3.3" fill="#ff2900"/>
<circle cx="499.2" cy="100.3" r="3.3" fill="#fe2100"/>
<circle cx="506.2" cy="92.6" r="3.3" fill="#f91a00"/>
<circle cx="507.8" cy="93.8" r="3.3" fill="#ff2900"/>
<circle cx="500.6" cy="88.7" r="3.3" fill="#fd2100"/>
<circle cx="500.5" cy="89.7" r="3.3" fill="#ff2300"/>
<circle cx="504.4" cy="104.0" r="3.3" fill="#ff3200"/>
<circle cx="509.8" cy="96.1" r="3.3" fill="#ff2800"/>
<circle cx="510.9" cy="96.5" r="3.3" fill="#fe2100"/>
<circle cx="499.0" cy="90.5" r="3.3" fill="#ff2400"/>
<circle cx="507.8" cy="92.0" r="3.3" fill="#fa1c00"/>
<circle cx="499.5" cy="94.3" r="3.3" fill="#fc1f00"/>
<circle cx="498.9" cy="82.0" r="3.3" fill="#ff2400"/>
<circle cx="501.5" cy="89.4" r="3.3" fill="#ff2800"/>
<circle cx="508.2" cy="86.7" r="3.3" fill="#fa1c00"/>
<circle cx="508.5" cy="86.9" r="3.3" fill="#ff3100"/>
<circle cx="501.9" cy="84.8" r="3.3" fill="#ff2400"/>
<circle cx="506.5" cy="96.3" r="3.3" fill="#ff2b00"/>
<circle cx="501.7" cy="97.8" r="3.3" fill="#ff2f00"/>
<circle cx="496.3" cy="94.9" r="3.3" fill="#ff2200"/>
<circle cx="500.9" cy="91.2" r="3.3" fill="#f61700"/>
<circle cx="503.1" cy="86.3" r="3.3" fill="#f91b00"/>
<circle cx="501.6" cy="85.1" r="3.3" fill="#ff3900"/>
<circle cx="499.1" cy="84.7" r="3.3" fill="#ff3d00"/>
<circle cx="507.1" cy="94.3" r="3.3" fill="#fa1c00"/>
<circle cx="509.8" cy="96.1" r="3.3" fill="#ff2300"/>
<circle cx="505.2" cy="96.4" r="3.3" fill="#ff2300"/>
<circle cx="508.2" cy="94.3" r="3.3" fill="#ff2500"/>
<circle cx="497.3" cy="86.7" r="3.3" fill="#f91b00"/>
<circle cx="510.6" cy="98.7" r="3.3" fill="#ff2400"/>
<circle cx="505.2" cy="94.6" r="3.3" fill="#fd2000"/>
<circle cx="504.3" cy="95.9" r="3.3" fill="#ff2e00"/>
<circle cx="504.6" cy="95.3" r="3.3" fill="#ff2600"/>
<circle cx="505.8" cy="91.0" r="3.3" fill="#fa1c00"/>
<circle cx="508.5" cy="96.7" r="3.3" fill="#ff2600"/>
<circle cx="498.9" cy="85.8" r="3.3" fill="#ff3800"/>
<circle cx="493.1" cy="84.9" r="3.3" fill="#fe2100"/>
<circle cx="508.4" cy="87.3" r="3.3" fill="#f91c00"/>
<circle cx="500.2" cy="89.1" r="3.3" fill="#fe2100"/>
<circle cx="502.8" cy="101.4" r="3.3" fill="#fb1e00"/>
<circle cx="493.8" cy="87.5" r="3.3" fill="#fc1f00"/>
<circle cx="501.8" cy="81.6" r="3.3" fill="#ff4200"/>
<circle cx="506.9" cy="89.9" r="3.3" fill="#ff2600"/>
<circle cx="498.0" cy="95.8" r="3.3" fill="#ff2300"/>
<circle cx="506.0" cy="98.3" r="3.3" fill="#f91c00"/>
<circle cx="500.4" cy="89.0" r="3.3" fill="#fe2100"/>
<circle cx="492.8" cy="85.6" r="3.3" fill="#fc1f00"/>
<circle cx="506.0" cy="98.3" r="3.3" fill="#ff2200"/>
<circle cx="506.4" cy="94.5" r="3.3" fill="#ff2400"/>
<circle cx="507.2" cy="85.9" r="3.3" fill="#fc1e00"/>
<circle cx="502.0" cy="90.1" r="3.3" fill="#ff3200"/>
<circle cx="502.8" cy="97.5" r="3.3" fill="#ff3700"/>
<circle cx="500.9" cy="92.0" r="3.3" fill="#fc1f00"/>
<circle cx="503.4" cy="91.5" r="3.3" fill="#fd2000"/>
<circle cx="505.8" cy="102.2" r="3.3" fill="#fa1d00"/>
<circle cx="498.3" cy="92.9" r="3.3" fill="#ff2a00"/>
<circle cx="498.0" cy="93.9" r="3.3" fill="#fe2100"/>
<circle cx="498.6" cy="89.1" r="3.3" fill="#fc1f00"/>
<circle cx="498.8" cy="97.4" r="3.3" fill="#fb1d00"/>
<circle cx="497.2" cy="91.8" r="3.3" fill="#fe2200"/>
<circle cx="497.4" cy="88.8" r="3.3" fill="#ff2600"/>
<circle cx="505.0" cy="97.0" r="3.3" fill="#ff2700"/>
<circle cx="508.6" cy="95.1" r="3.3" fill="#fe2100"/>
<circle cx="509.7" cy="96.0" r="3.3" fill="#ff2d00"/>
<circle cx="503.8" cy="94.4" r="3.3" fill="#ff4000"/>
<circle cx="502.8" cy="92.3" r="3.3" fill="#fc1f00"/>
<circle cx="498.5" cy="88.7" r="3.3" fill="#fd2000"/>
<circle cx="502.8" cy="90.5" r="3.3" fill="#ff2900"/>
<circle cx="499.0" cy="90.3" r="3.3" fill="#ff3400"/>
<circle cx="497.6" cy="86.3" r="3.3" fill="#fc2000"/>
<circle cx="502.1" cy="92.3" r="3.3" fill="#fc1f00"/>
<circle cx="496.1" cy="90.0" r="3.3" fill="#ff4700"/>
<circle cx="499.5" cy="92.2" r="3.3" fill="#ff2300"/>
<circle cx="500.9" cy="83.7" r="3.3" fill="#ff3f00"/>
<circle cx="500.0" cy="91.2" r="3.3" fill="#fd2000"/>
<circle cx="497.7" cy="97.1" r="3.3" fill="#fd2100"/>
<circle cx="500.0" cy="89.5" r="3.3" fill="#fb1e00"/>
<circle cx="499.8" cy="82.7" r="3.3" fill="#ff4100"/>
<circle cx="501.7" cy="96.7" r="3.3" fill="#ff2a00"/>
<circle cx="499.5" cy="90.0" r="3.3" fill="#fc1f00"/>
<circle cx="495.0" cy="94.5" r="3.3" fill="#f91a00"/>
<circle cx="506.8" cy="94.3" r="3.3" fill="#fc1f00"/>
<circle cx="497.9" cy="82.6" r="3.3" fill="#ff2700"/>
<circle cx="502.5" cy="91.2" r="3.3" fill="#fb1e00"/>
<circle cx="500.6" cy="95.2" r="3.3" fill="#fd2000"/>
<circle cx="509.0" cy="95.8" r="3.3" fill="#fb1e00"/>
<circle cx="498.4" cy="89.8" r="3.3" fill="#ff3700"/>
<circle cx="501.2" cy="93.4" r="3.3" fill="#fa1c00"/>
<circle cx="503.1" cy="97.8" r="3.3" fill="#ff2a00"/>
<circle cx="505.1" cy="95.3" r="3.3" fill="#fe2200"/>
<circle cx="506.1" cy="96.3" r="3.3" fill="#ff2700"/>
<circle cx="505.1" cy="89.5" r="3.3" fill="#ff2d00"/>
<circle cx="507.1" cy="95.3" r="3.3" fill="#ff2f00"/>
<circle cx="502.5" cy="92.2" r="3.3" fill="#f81900"/>
<circle cx="502.5" cy="96.5" r="3.3" fill="#fb1e00"/>
<circle cx="500.1" cy="96.5" r="3.3" fill="#ff2b00"/>
<circle cx="500.6" cy="87.7" r="3.3" fill="#fc2000"/>
<circle cx="496.3" cy="82.7" r="3.3" fill="#ff2a00"/>
<circle cx="506.1" cy="95.6" r="3.3" fill="#fa1c00"/>
<circle cx="506.6" cy="97.5" r="3.3" fill="#fe2100"/>
<circle cx="500.7" cy="101.4" r="3.3" fill="#f91b00"/>
<circle cx="496.6" cy="89.5" r="3.3" fill="#ff3100"/>
<circle cx="509.0" cy="97.5" r="3.3" fill="#fd2000"/>
<circle cx="508.1" cy="98.6" r="3.3" fill="#f91b00"/>
<circle cx="497.5" cy="98.6" r="3.3" fill="#fa1c00"/>
<circle cx="499.9" cy="87.7" r="3.3" fill="#ff2900"/>
<circle cx="503.8" cy="95.3" r="3.3" fill="#fb1e00"/>
<circle cx="507.0" cy="92.4" r="3.3" fill="#ff3900"/>
<circle cx="513.5" cy="96.6" r="3.3" fill="#ff3e00"/>
<circle cx="505.5" cy="101.3" r="3.3" fill="#ff3100"/>
<circle cx="504.6" cy="98.0" r="3.3" fill="#ff2c00"/>
<circle cx="506.4" cy="92.0" r="3.3" fill="#ff2d00"/>
<circle cx="508.7" cy="93.2" r="3.3" fill="#fd2000"/>
<circle cx="512.4" cy="88.3" r="3.3" fill="#ff3300"/>
<circle cx="507.0" cy="87.7" r="3.3" fill="#ff3e00"/>
<circle cx="509.5" cy="88.8" r="3.3" fill="#ff4400"/>
<circle cx="508.6" cy="91.7" r="3.3" fill="#ff5c00"/>
<circle cx="510.1" cy="96.0" r="3.3" fill="#ff4800"/>
<circle cx="504.9" cy="87.8" r="3.3" fill="#ff3800"/>
<circle cx="509.8" cy="98.7" r="3.3" fill="#ff4900"/>
<circle cx="510.3" cy="94.3" r="3.3" fill="#ff3100"/>
<circle cx="513.1" cy="99.5" r="3.3" fill="#ff3f00"/>
<circle cx="512.9" cy="98.3" r="3.3" fill="#ff4e00"/>
<circle cx="509.7" cy="95.2" r="3.3" fill="#ff5100"/>
<circle cx="509.2" cy="99.2" r="3.3" fill="#ff4900"/>
<circle cx="508.9" cy="91.9" r="3.3" fill="#fe2200"/>
<circle cx="511.4" cy="93.9" r="3.3" fill="#ff5000"/>
<circle cx="508.2" cy="91.5" r="3.3" fill="#ff4200"/>
<circle cx="515.8" cy="101.9" r="3.3" fill="#ff3c00"/>
<circle cx="508.8" cy="100.9" r="3.3" fill="#ff4600"/>
<circle cx="514.9" cy="97.3" r="3.3" fill="#ff6500"/>
<circle cx="513.0" cy="90.1" r="3.3" fill="#ff3600"/>
<circle cx="509.5" cy="95.0" r="3.3" fill="#ff4000"/>
<circle cx="502.8" cy="93.4" r="3.3" fill="#ff5a00"/>
<circle cx="508.2" cy="94.6" r="3.3" fill="#ff4100"/>
<circle cx="505.8" cy="101.4" r="3.3" fill="#ff3b00"/>
<circle cx="514.6" cy="95.0" r="3.3" fill="#ff2b00"/>
<circle cx="513.1" cy="94.5" r="3.3" fill="#ff5200"/>
<circle cx="508.4" cy="100.1" r="3.3" fill="#ff5700"/>
<circle cx="502.0" cy="93.2" r="3.3" fill="#ff5d00"/>
<circle cx="501.3" cy="92.3" r="3.3" fill="#ff4000"/>
<circle cx="512.3" cy="97.3" r="3.3" fill="#ff4700"/>
<circle cx="507.6" cy="94.7" r="3.3" fill="#ff3000"/>
<circle cx="508.7" cy="101.0" r="3.3" fill="#ff3400"/>
<circle cx="508.8" cy="96.7" r="3.3" fill="#ff4300"/>
<circle cx="505.2" cy="100.5" r="3.3" fill="#ff4300"/>
<circle cx="511.2" cy="96.0" r="3.3" fill="#ff3d00"/>
<circle cx="502.8" cy="92.1" r="3.3" fill="#ff4300"/>
<circle cx="513.1" cy="97.7" r="3.3" fill="#ff2500"/>
<circle cx="503.0" cy="87.8" r="3.3" fill="#ff4500"/>
<circle cx="508.9" cy="94.1" r="3.3" fill="#ff5100"/>
<circle cx="508.3" cy="87.6" r="3.3" fill="#ff5c00"/>
<circle cx="509.9" cy="99.3" r="3.3" fill="#ff5300"/>
<circle cx="509.2" cy="94.0" r="3.3" fill="#ff5100"/>
<circle cx="508.8" cy="92.6" r="3.3" fill="#ff5200"/>
<circle cx="507.6" cy="96.7" r="3.3" fill="#ff3600"/>
<circle cx="509.3" cy="95.8" r="3.3" fill="#ff6100"/>
<circle cx="508.1" cy="97.7" r="3.3" fill="#ff5200"/>
<circle cx="506.8" cy="92.4" r="3.3" fill="#ff2600"/>
<circle cx="512.1" cy="100.1" r="3.3" fill="#ff5200"/>
<circle cx="508.3" cy="96.8" r="3.3" fill="#ff4400"/>
<circle cx="509.3" cy="94.0" r="3.3" fill="#ff4800"/>
<circle cx="509.2" cy="95.9" r="3.3" fill="#ff4500"/>
<circle cx="504.6" cy="94.4" r="3.3" fill="#ff5800"/>
<circle cx="513.5" cy="90.1" r="3.3" fill="#ff4000"/>
<circle cx="509.1" cy="90.9" r="3.3" fill="#ff5c00"/>
<circle cx="508.8" cy="86.3" r="3.3" fill="#ff3400"/>
<circle cx="510.7" cy="97.1" r="3.3" fill="#ff3100"/>
<circle cx="510.8" cy="97.4" r="3.3" fill="#ff2c00"/>
<circle cx="510.5" cy="93.8" r="3.3" fill="#ff4800"/>
<circle cx="506.9" cy="101.2" r="3.3" fill="#ff4700"/>
<circle cx="512.2" cy="100.4" r="3.3" fill="#ff3d00"/>
<circle cx="505.2" cy="88.5" r="3.3" fill="#ff2300"/>
<circle cx="502.7" cy="94.7" r="3.3" fill="#ff5300"/>
<circle cx="512.6" cy="99.6" r="3.3" fill="#ff5800"/>
<circle cx="505.5" cy="95.6" r="3.3" fill="#ff5800"/>
<circle cx="513.0" cy="97.1" r="3.3" fill="#ff4f00"/>
<circle cx="514.1" cy="90.3" r="3.3" fill="#ff7100"/>
<circle cx="502.1" cy="94.4" r="3.3" fill="#ff3800"/>
<circle cx="507.7" cy="91.1" r="3.3" fill="#ff3600"/>
<circle cx="504.6" cy="89.0" r="3.3" fill="#ff2300"/>
<circle cx="510.1" cy="92.0" r="3.3" fill="#ff6400"/>
<circle cx="505.0" cy="85.9" r="3.3" fill="#fb1e00"/>
<circle cx="508.8" cy="92.6" r="3.3" fill="#ff4a00"/>
<circle cx="512.3" cy="104.8" r="3.3" fill="#ff4f00"/>
<circle cx="511.8" cy="90.0" r="3.3" fill="#ff6500"/>
<circle cx="508.8" cy="95.9" r="3.3" fill="#ff3a00"/>
<circle cx="492.7" cy="80.4" r="3.3" fill="#ffac00"/>
<circle cx="509.0" cy="119.3" r="3.3" fill="#fd2000"/>
<circle cx="510.2" cy="122.3" r="3.3" fill="#ff3500"/>
<circle cx="511.6" cy="120.6" r="3.3" fill="#fb1e00"/>
<circle cx="510.1" cy="122.3" r="3.3" fill="#fd2000"/>
<circle cx="510.2" cy="118.8" r="3.3" fill="#fa1c00"/>
<circle cx="509.1" cy="117.9" r="3.3" fill="#f71900"/>
<circle cx="512.6" cy="125.6" r="3.3" fill="#fa1c00"/>
<circle cx="517.7" cy="122.9" r="3.3" fill="#ff2400"/>
<circle cx="515.8" cy="124.7" r="3.3" fill="#ff2f00"/>
<circle cx="507.2" cy="120.3" r="3.3" fill="#fe2200"/>
<circle cx="510.5" cy="122.8" r="3.3" fill="#fa1c00"/>
<circle cx="504.3" cy="124.2" r="3.3" fill="#fa1d00"/>
<circle cx="512.3" cy="123.0" r="3.3" fill="#f41500"/>
<circle cx="505.9" cy="120.3" r="3.3" fill="#f91a00"/>
<circle cx="509.1" cy="118.9" r="3.3" fill="#f91b00"/>
<circle cx="512.9" cy="122.0" r="3.3" fill="#ff2d00"/>
<circle cx="509.8" cy="125.0" r="3.3" fill="#fb1d00"/>
<circle cx="514.0" cy="121.2" r="3.3" fill="#fe2100"/>
<circle cx="505.4" cy="123.4" r="3.3" fill="#ff2900"/>
<circle cx="504.2" cy="122.1" r="3.3" fill="#fb1e00"/>
<circle cx="514.2" cy="125.0" r="3.3" fill="#fd2000"/>
<circle cx="510.8" cy="122.6" r="3.3" fill="#f71900"/>
<circle cx="514.5" cy="122.8" r="3.3" fill="#fc1f00"/>
<circle cx="512.9" cy="119.9" r="3.3" fill="#f81a00"/>
<circle cx="509.3" cy="121.4" r="3.3" fill="#f81a00"/>
<circle cx="515.1" cy="124.8" r="3.3" fill="#f81a00"/>
<circle cx="513.3" cy="119.4" r="3.3" fill="#fa1c00"/>
<circle cx="503.4" cy="122.5" r="3.3" fill="#f91c00"/>
<circle cx="511.7" cy="123.4" r="3.3" fill="#fa1d00"/>
<circle cx="511.4" cy="126.1" r="3.3" fill="#fc1f00"/>
<circle cx="504.2" cy="123.5" r="3.3" fill="#ff2300"/>
<circle cx="506.2" cy="118.8" r="3.3" fill="#f91b00"/>
<circle cx="505.8" cy="119.0" r="3.3" fill="#ff2400"/>
<circle cx="508.3" cy="120.0" r="3.3" fill="#ff2300"/>
<circle cx="512.2" cy="121.7" r="3.3" fill="#ff4600"/>
<circle cx="514.8" cy="118.0" r="3.3" fill="#f71800"/>
<circle cx="509.1" cy="118.6" r="3.3" fill="#f71900"/>
<circle cx="511.6" cy="122.0" r="3.3" fill="#fa1d00"/>
<circle cx="508.6" cy="123.7" r="3.3" fill="#f81a00"/>
<circle cx="507.6" cy="121.0" r="3.3" fill="#f71900"/>
<circle cx="513.0" cy="121.4" r="3.3" fill="#fc1f00"/>
<circle cx="511.1" cy="120.8" r="3.3" fill="#ff3000"/>
<circle cx="513.5" cy="122.7" r="3.3" fill="#fc1f00"/>
<circle cx="507.7" cy="121.7" r="3.3" fill="#ff2700"/>
<circle cx="508.2" cy="119.7" r="3.3" fill="#ff2f00"/>
<circle cx="508.6" cy="122.8" r="3.3" fill="#ff2a00"/>
<circle cx="515.3" cy="123.7" r="3.3" fill="#f81900"/>
<circle cx="505.7" cy="121.6" r="3.3" fill="#fe2100"/>
<circle cx="505.8" cy="125.9" r="3.3" fill="#fe2200"/>
<circle cx="506.7" cy="122.8" r="3.3" fill="#ff2700"/>
<circle cx="504.8" cy="121.0" r="3.3" fill="#f51600"/>
<circle cx="504.9" cy="122.5" r="3.3" fill="#ff2300"/>
<circle cx="507.4" cy="126.0" r="3.3" fill="#fd2000"/>
<circle cx="511.3" cy="119.3" r="3.3" fill="#fc1f00"/>
<circle cx="512.0" cy="117.3" r="3.3" fill="#f21200"/>
<circle cx="509.6" cy="121.3" r="3.3" fill="#ff3400"/>
<circle cx="509.4" cy="121.2" r="3.3" fill="#ff3800"/>
<circle cx="507.3" cy="123.6" r="3.3" fill="#fb1e00"/>
<circle cx="513.4" cy="119.7" r="3.3" fill="#fc1f00"/>
<circle cx="510.3" cy="121.2" r="3.3" fill="#fa1d00"/>
<circle cx="510.6" cy="113.6" r="3.3" fill="#ff8100"/>
<circle cx="516.3" cy="114.1" r="3.3" fill="#ff6a00"/>
<circle cx="511.1" cy="112.6" r="3.3" fill="#ff5000"/>
<circle cx="509.0" cy="107.9" r="3.3" fill="#ff5000"/>
<circle cx="510.1" cy="116.3" r="3.3" fill="#ff5d00"/>
<circle cx="512.0" cy="101.5" r="3.3" fill="#ff7100"/>
<circle cx="508.1" cy="110.9" r="3.3" fill="#ff5000"/>
<circle cx="508.4" cy="106.5" r="3.3" fill="#ff6500"/>
<circle cx="513.2" cy="111.5" r="3.3" fill="#ff5800"/>
<circle cx="516.1" cy="111.6" r="3.3" fill="#ff6100"/>
<circle cx="511.1" cy="103.9" r="3.3" fill="#ff6600"/>
<circle cx="506.1" cy="114.0" r="3.3" fill="#fe2200"/>
<circle cx="506.5" cy="111.2" r="3.3" fill="#ff6500"/>
<circle cx="513.4" cy="113.6" r="3.3" fill="#ff8200"/>
<circle cx="512.0" cy="114.2" r="3.3" fill="#ff6500"/>
<circle cx="507.6" cy="116.8" r="3.3" fill="#ff6100"/>
<circle cx="507.4" cy="109.3" r="3.3" fill="#ff5000"/>
<circle cx="515.7" cy="114.6" r="3.3" fill="#ff8100"/>
<circle cx="510.2" cy="107.1" r="3.3" fill="#ff4a00"/>
<circle cx="507.1" cy="103.3" r="3.3" fill="#ff7100"/>
<circle cx="517.2" cy="109.0" r="3.3" fill="#ff7300"/>
<circle cx="510.3" cy="117.2" r="3.3" fill="#ff5e00"/>
<circle cx="511.1" cy="111.4" r="3.3" fill="#ff5400"/>
<circle cx="511.4" cy="106.6" r="3.3" fill="#ff5000"/>
<circle cx="511.0" cy="108.9" r="3.3" fill="#ff7e00"/>
<circle cx="511.9" cy="106.9" r="3.3" fill="#ff6000"/>
<circle cx="511.2" cy="109.1" r="3.3" fill="#ff5d00"/>
<circle cx="513.3" cy="112.1" r="3.3" fill="#ff4600"/>
<circle cx="515.8" cy="116.4" r="3.3" fill="#ff6b00"/>
<circle cx="511.8" cy="109.3" r="3.3" fill="#ff5d00"/>
<circle cx="509.8" cy="114.5" r="3.3" fill="#ff6500"/>
<circle cx="513.2" cy="111.3" r="3.3" fill="#ff4a00"/>
<circle cx="509.3" cy="102.7" r="3.3" fill="#ff5e00"/>
<circle cx="511.3" cy="109.0" r="3.3" fill="#ff5d00"/>
<circle cx="515.0" cy="101.5" r="3.3" fill="#ff4f00"/>
<circle cx="509.1" cy="101.9" r="3.3" fill="#ff4c00"/>
<circle cx="514.6" cy="113.7" r="3.3" fill="#ff5600"/>
<circle cx="515.4" cy="111.7" r="3.3" fill="#ff6400"/>
<circle cx="513.8" cy="110.9" r="3.3" fill="#ff5d00"/>
<circle cx="511.5" cy="105.2" r="3.3" fill="#ff7800"/>
<circle cx="509.7" cy="111.0" r="3.3" fill="#ff5700"/>
<circle cx="508.4" cy="105.1" r="3.3" fill="#ff6200"/>
<circle cx="515.0" cy="103.8" r="3.3" fill="#ff4400"/>
<circle cx="508.4" cy="108.1" r="3.3" fill="#ff4200"/>
<circle cx="509.3" cy="114.1" r="3.3" fill="#ff6d00"/>
<circle cx="511.0" cy="111.6" r="3.3" fill="#ff5900"/>
<circle cx="511.2" cy="109.3" r="3.3" fill="#ff5d00"/>
<circle cx="510.0" cy="108.1" r="3.3" fill="#ff5500"/>
<circle cx="515.1" cy="103.2" r="3.3" fill="#ff4c00"/>
<circle cx="510.9" cy="110.7" r="3.3" fill="#ff5a00"/>
<circle cx="512.4" cy="102.8" r="3.3" fill="#ff8000"/>
<circle cx="510.6" cy="112.8" r="3.3" fill="#ff5900"/>
<circle cx="508.7" cy="107.9" r="3.3" fill="#ff7600"/>
<circle cx="509.4" cy="114.8" r="3.3" fill="#ff4a00"/>
<circle cx="513.4" cy="105.3" r="3.3" fill="#ff7800"/>
<circle cx="505.6" cy="112.5" r="3.3" fill="#ff6600"/>
<circle cx="511.2" cy="107.7" r="3.3" fill="#ff5900"/>
<circle cx="511.8" cy="105.4" r="3.3" fill="#ff5b00"/>
<circle cx="509.4" cy="111.1" r="3.3" fill="#ff6800"/>
<circle cx="515.0" cy="112.0" r="3.3" fill="#ff5d00"/>
<circle cx="515.6" cy="107.2" r="3.3" fill="#ff7500"/>
<circle cx="512.7" cy="116.4" r="3.3" fill="#ff6200"/>
<circle cx="510.1" cy="108.6" r="3.3" fill="#ff5e00"/>
<circle cx="512.6" cy="105.0" r="3.3" fill="#ff5600"/>
<circle cx="516.7" cy="109.4" r="3.3" fill="#ff7100"/>
<circle cx="512.0" cy="111.0" r="3.3" fill="#ff5500"/>
<circle cx="515.0" cy="104.1" r="3.3" fill="#ff4500"/>
<circle cx="512.3" cy="109.7" r="3.3" fill="#ff5a00"/>
<circle cx="515.2" cy="107.2" r="3.3" fill="#ff7400"/>
<circle cx="515.3" cy="108.6" r="3.3" fill="#ff4c00"/>
<circle cx="511.3" cy="115.4" r="3.3" fill="#ff6d00"/>
<circle cx="511.0" cy="102.0" r="3.3" fill="#ff6600"/>
<circle cx="513.3" cy="114.7" r="3.3" fill="#ff7900"/>
<circle cx="515.0" cy="116.7" r="3.3" fill="#ff5e00"/>
<circle cx="517.1" cy="106.8" r="3.3" fill="#ff7200"/>
<circle cx="509.3" cy="104.4" r="3.3" fill="#ff6800"/>
<circle cx="514.1" cy="113.2" r="3.3" fill="#ff5d00"/>
<circle cx="515.9" cy="108.3" r="3.3" fill="#ff4900"/>
<circle cx="507.4" cy="113.8" r="3.3" fill="#ff4b00"/>
<circle cx="510.8" cy="105.0" r="3.3" fill="#ff6000"/>
<circle cx="504.5" cy="110.1" r="3.3" fill="#ff9700"/>
<circle cx="487.2" cy="117.2" r="3.3" fill="#ff8800"/>
<circle cx="515.6" cy="110.9" r="3.3" fill="#ffae00"/>
<circle cx="505.0" cy="108.5" r="3.3" fill="#ff9400"/>
<circle cx="502.6" cy="104.2" r="3.3" fill="#ff8f00"/>
<circle cx="500.6" cy="108.3" r="3.3" fill="#ff9000"/>
<circle cx="482.5" cy="108.8" r="3.3" fill="#ff9400"/>
<circle cx="506.1" cy="112.2" r="3.3" fill="#ffb400"/>
<circle cx="486.9" cy="109.3" r="3.3" fill="#ff7800"/>
<circle cx="494.4" cy="115.7" r="3.3" fill="#ff7600"/>
<circle cx="490.6" cy="113.2" r="3.3" fill="#ff7900"/>
<circle cx="504.3" cy="112.2" r="3.3" fill="#ffb000"/>
<circle cx="511.9" cy="112.8" r="3.3" fill="#ffbe00"/>
<circle cx="508.9" cy="106.3" r="3.3" fill="#ff7c00"/>
<circle cx="493.0" cy="111.7" r="3.3" fill="#ff8100"/>
<circle cx="493.9" cy="114.1" r="3.3" fill="#ffa600"/>
<circle cx="498.6" cy="111.4" r="3.3" fill="#ffb500"/>
<circle cx="481.3" cy="107.5" r="3.3" fill="#ff9500"/>
<circle cx="494.2" cy="111.4" r="3.3" fill="#ff8600"/>
<circle cx="500.7" cy="111.9" r="3.3" fill="#ffa300"/>
<circle cx="510.5" cy="109.6" r="3.3" fill="#ff7500"/>
<circle cx="503.6" cy="111.3" r="3.3" fill="#ff9300"/>
<circle cx="490.9" cy="110.3" r="3.3" fill="#ff9b00"/>
<circle cx="497.1" cy="104.1" r="3.3" fill="#ffa100"/>
<circle cx="490.0" cy="116.6" r="3.3" fill="#ff9c00"/>
<circle cx="490.9" cy="108.9" r="3.3" fill="#ff8400"/>
<circle cx="502.1" cy="110.3" r="3.3" fill="#ff9200"/>
<circle cx="488.0" cy="111.9" r="3.3" fill="#ff8600"/>
<circle cx="511.9" cy="106.1" r="3.3" fill="#ff9c00"/>
<circle cx="498.2" cy="114.3" r="3.3" fill="#ffb900"/>
<circle cx="497.4" cy="112.9" r="3.3" fill="#ff8200"/>
<circle cx="513.6" cy="111.3" r="3.3" fill="#ff7b00"/>
<circle cx="494.4" cy="104.7" r="3.3" fill="#ffa300"/>
<circle cx="501.7" cy="105.5" r="3.3" fill="#ff9000"/>
<circle cx="500.3" cy="106.2" r="3.3" fill="#ff9400"/>
<circle cx="517.2" cy="109.2" r="3.3" fill="#ffa600"/>
<circle cx="502.9" cy="104.6" r="3.3" fill="#ffa400"/>
<circle cx="503.6" cy="105.9" r="3.3" fill="#ff9900"/>
<circle cx="507.0" cy="116.7" r="3.3" fill="#ffb000"/>
<circle cx="507.3" cy="102.9" r="3.3" fill="#ff9d00"/>
<circle cx="499.5" cy="112.1" r="3.3" fill="#ffa200"/>
<circle cx="497.4" cy="110.7" r="3.3" fill="#ff9200"/>
<circle cx="498.1" cy="111.4" r="3.3" fill="#ff8600"/>
<circle cx="494.1" cy="117.8" r="3.3" fill="#ff8b00"/>
<circle cx="490.9" cy="109.2" r="3.3" fill="#ff9d00"/>
<circle cx="492.0" cy="105.5" r="3.3" fill="#ffa400"/>
<circle cx="504.4" cy="115.4" r="3.3" fill="#ff8d00"/>
<circle cx="496.6" cy="102.1" r="3.3" fill="#ff9b00"/>
<circle cx="504.0" cy="106.9" r="3.3" fill="#ff8200"/>
<circle cx="481.3" cy="113.6" r="3.3" fill="#ffa900"/>
<circle cx="488.4" cy="115.4" r="3.3" fill="#ffab00"/>
<circle cx="489.1" cy="114.2" r="3.3" fill="#ff7800"/>
<circle cx="497.2" cy="112.4" r="3.3" fill="#ff9a00"/>
<circle cx="494.0" cy="101.6" r="3.3" fill="#ffa000"/>
<circle cx="484.9" cy="105.9" r="3.3" fill="#ff7600"/>
<circle cx="514.4" cy="110.6" r="3.3" fill="#ffa000"/>
<circle cx="493.6" cy="110.6" r="3.3" fill="#ff8200"/>
<circle cx="509.3" cy="115.6" r="3.3" fill="#ff7d00"/>
<circle cx="490.5" cy="104.5" r="3.3" fill="#ff9600"/>
<circle cx="501.5" cy="104.4" r="3.3" fill="#ffa600"/>
<circle cx="500.6" cy="113.8" r="3.3" fill="#ff9e00"/>
<circle cx="491.8" cy="107.1" r="3.3" fill="#ff9900"/>
<circle cx="499.2" cy="107.5" r="3.3" fill="#ffa800"/>
<circle cx="502.3" cy="110.0" r="3.3" fill="#ff6e00"/>
<circle cx="514.6" cy="110.7" r="3.3" fill="#ff9b00"/>
<circle cx="509.7" cy="112.8" r="3.3" fill="#ff7f00"/>
<circle cx="482.4" cy="112.4" r="3.3" fill="#ff9900"/>
<circle cx="499.7" cy="115.7" r="3.3" fill="#ffa500"/>
<circle cx="485.8" cy="106.9" r="3.3" fill="#ff7900"/>
<circle cx="515.9" cy="110.1" r="3.3" fill="#ff8400"/>
<circle cx="496.1" cy="111.0" r="3.3" fill="#ffa900"/>
<circle cx="494.1" cy="111.8" r="3.3" fill="#ff9900"/>
<circle cx="503.5" cy="111.0" r="3.3" fill="#ff9000"/>
<circle cx="490.8" cy="112.8" r="3.3" fill="#ff9700"/>
<circle cx="508.5" cy="113.3" r="3.3" fill="#ff9d00"/>
<circle cx="500.2" cy="108.9" r="3.3" fill="#ffa400"/>
<circle cx="510.5" cy="105.2" r="3.3" fill="#ff7d00"/>
<circle cx="498.2" cy="112.8" r="3.3" fill="#ffa400"/>
<circle cx="489.9" cy="115.7" r="3.3" fill="#ff8100"/>
<circle cx="513.6" cy="110.4" r="3.3" fill="#ff9300"/>
<circle cx="498.9" cy="118.8" r="3.3" fill="#ff8c00"/>
<circle cx="503.4" cy="111.1" r="3.3" fill="#ff8200"/>
<circle cx="496.1" cy="116.9" r="3.3" fill="#ff9900"/>
<circle cx="489.0" cy="107.2" r="3.3" fill="#ff8d00"/>
<circle cx="499.8" cy="115.2" r="3.3" fill="#ff8300"/>
<circle cx="482.7" cy="112.1" r="3.3" fill="#ffa700"/>
<circle cx="501.1" cy="113.3" r="3.3" fill="#ff8800"/>
<circle cx="487.7" cy="109.0" r="3.3" fill="#ff8100"/>
<circle cx="509.5" cy="103.9" r="3.3" fill="#ffba00"/>
<circle cx="502.4" cy="104.9" r="3.3" fill="#ff8700"/>
<circle cx="485.8" cy="105.6" r="3.3" fill="#ff7b00"/>
<circle cx="504.6" cy="104.5" r="3.3" fill="#ff9100"/>
<circle cx="507.7" cy="106.8" r="3.3" fill="#ff9000"/>
<circle cx="489.9" cy="108.9" r="3.3" fill="#ffb800"/>
<circle cx="497.5" cy="111.4" r="3.3" fill="#ff9200"/>
<circle cx="496.8" cy="107.5" r="3.3" fill="#ffaf00"/>
<circle cx="489.6" cy="114.3" r="3.3" fill="#ff8700"/>
<circle cx="508.3" cy="115.3" r="3.3" fill="#ffa300"/>
<circle cx="497.4" cy="113.0" r="3.3" fill="#ff7900"/>
<circle cx="506.4" cy="109.6" r="3.3" fill="#ff6d00"/>
<circle cx="512.5" cy="106.8" r="3.3" fill="#ff8c00"/>
<circle cx="508.2" cy="108.0" r="3.3" fill="#ff7f00"/>
<circle cx="495.5" cy="105.2" r="3.3" fill="#ffa500"/>
<circle cx="502.5" cy="115.7" r="3.3" fill="#ff8700"/>
<circle cx="504.2" cy="112.6" r="3.3" fill="#ffa300"/>
<circle cx="486.4" cy="109.1" r="3.3" fill="#ff8a00"/>
<circle cx="496.2" cy="108.2" r="3.3" fill="#ff9100"/>
<circle cx="494.7" cy="105.7" r="3.3" fill="#ff9200"/>
<circle cx="514.0" cy="111.5" r="3.3" fill="#ff8d00"/>
<circle cx="490.0" cy="104.8" r="3.3" fill="#ffc000"/>
<circle cx="482.9" cy="108.7" r="3.3" fill="#ff8b00"/>
<circle cx="481.8" cy="111.1" r="3.3" fill="#ff8000"/>
<circle cx="506.3" cy="107.2" r="3.3" fill="#ff9200"/>
<circle cx="480.3" cy="110.0" r="3.3" fill="#ff7300"/>
<circle cx="492.2" cy="104.9" r="3.3" fill="#ffa100"/>
<circle cx="507.2" cy="114.4" r="3.3" fill="#ff9700"/>
<circle cx="501.6" cy="110.4" r="3.3" fill="#ffaf00"/>
<circle cx="501.5" cy="113.8" r="3.3" fill="#ff8d00"/>
<circle cx="484.4" cy="111.5" r="3.3" fill="#ff9200"/>
<circle cx="496.7" cy="112.7" r="3.3" fill="#ffac00"/>
<circle cx="492.0" cy="111.3" r="3.3" fill="#ffa600"/>
<circle cx="505.3" cy="105.8" r="3.3" fill="#ff9900"/>
<circle cx="511.2" cy="106.0" r="3.3" fill="#ff9300"/>
<circle cx="497.6" cy="114.6" r="3.3" fill="#ff6d00"/>
<circle cx="486.9" cy="115.2" r="3.3" fill="#ff9400"/>
<circle cx="493.6" cy="110.6" r="3.3" fill="#ffbf00"/>
<circle cx="506.9" cy="103.5" r="3.3" fill="#ff7e00"/>
<circle cx="498.3" cy="116.5" r="3.3" fill="#ffa500"/>
<circle cx="499.9" cy="106.8" r="3.3" fill="#ff8100"/>
<circle cx="499.2" cy="110.7" r="3.3" fill="#ff7800"/>
<circle cx="489.3" cy="114.6" r="3.3" fill="#ff8e00"/>
<circle cx="500.9" cy="107.8" r="3.3" fill="#ffa100"/>
<circle cx="506.7" cy="105.0" r="3.3" fill="#ff8300"/>
<circle cx="507.5" cy="104.2" r="3.3" fill="#ff9e00"/>
<circle cx="494.2" cy="112.7" r="3.3" fill="#ff9700"/>
<circle cx="489.1" cy="117.4" r="3.3" fill="#ff9500"/>
<circle cx="492.6" cy="115.4" r="3.3" fill="#ff7d00"/>
<circle cx="488.7" cy="110.1" r="3.3" fill="#ff7900"/>
<circle cx="502.4" cy="106.7" r="3.3" fill="#ff9400"/>
<circle cx="500.2" cy="106.1" r="3.3" fill="#ff9d00"/>
<circle cx="510.1" cy="107.5" r="3.3" fill="#ffa000"/>
<circle cx="482.1" cy="114.2" r="3.3" fill="#ff8e00"/>
<circle cx="511.8" cy="106.4" r="3.3" fill="#ff8100"/>
<circle cx="505.3" cy="107.9" r="3.3" fill="#ff9800"/>
<circle cx="503.4" cy="115.3" r="3.3" fill="#ff8300"/>
<circle cx="481.0" cy="115.2" r="3.3" fill="#ff9100"/>
<circle cx="495.3" cy="103.3" r="3.3" fill="#ff7c00"/>
<circle cx="494.3" cy="106.4" r="3.3" fill="#ffac00"/>
<circle cx="496.6" cy="111.2" r="3.3" fill="#ffa300"/>
<circle cx="496.2" cy="108.8" r="3.3" fill="#ffa700"/>
<circle cx="508.7" cy="106.9" r="3.3" fill="#ff9000"/>
<circle cx="510.0" cy="104.1" r="3.3" fill="#ff9400"/>
<circle cx="492.0" cy="110.9" r="3.3" fill="#ff8700"/>
<circle cx="499.2" cy="110.4" r="3.3" fill="#ff7700"/>
<circle cx="490.0" cy="111.4" r="3.3" fill="#ffb900"/>
<circle cx="502.2" cy="114.4" r="3.3" fill="#ff8c00"/>
<circle cx="500.1" cy="112.0" r="3.3" fill="#ff9d00"/>
<circle cx="498.4" cy="107.5" r="3.3" fill="#ffbb00"/>
<circle cx="505.1" cy="112.6" r="3.3" fill="#ff7a00"/>
<circle cx="505.7" cy="111.8" r="3.3" fill="#ff8700"/>
<circle cx="491.0" cy="107.8" r="3.3" fill="#ff8f00"/>
<circle cx="513.8" cy="110.9" r="3.3" fill="#ffb700"/>
<circle cx="500.0" cy="107.5" r="3.3" fill="#ff5f00"/>
<circle cx="488.4" cy="117.2" r="3.3" fill="#ff9600"/>
<circle cx="488.8" cy="115.2" r="3.3" fill="#ff9f00"/>
<circle cx="504.6" cy="104.7" r="3.3" fill="#ff7d00"/>
<circle cx="491.7" cy="107.5" r="3.3" fill="#ffa800"/>
<circle cx="502.4" cy="112.4" r="3.3" fill="#ffa300"/>
<circle cx="496.0" cy="109.7" r="3.3" fill="#ff8c00"/>
<circle cx="487.5" cy="103.8" r="3.3" fill="#ff9100"/>
<circle cx="507.4" cy="103.1" r="3.3" fill="#ff9600"/>
<circle cx="514.8" cy="106.2" r="3.3" fill="#ffb700"/>
<circle cx="480.0" cy="108.0" r="3.3" fill="#ff9700"/>
<circle cx="500.1" cy="105.5" r="3.3" fill="#ff9b00"/>
<circle cx="492.8" cy="108.5" r="3.3" fill="#ff9a00"/>
<circle cx="507.7" cy="114.2" r="3.3" fill="#ff8f00"/>
<circle cx="492.0" cy="108.3" r="3.3" fill="#ffab00"/>
<circle cx="490.2" cy="113.0" r="3.3" fill="#ff9c00"/>
<circle cx="499.2" cy="107.6" r="3.3" fill="#ffa800"/>
<circle cx="499.6" cy="106.9" r="3.3" fill="#ff9700"/>
<circle cx="500.6" cy="108.5" r="3.3" fill="#ff8f00"/>
<circle cx="495.7" cy="106.3" r="3.3" fill="#ff9b00"/>
<circle cx="499.5" cy="107.2" r="3.3" fill="#ff8400"/>
<circle cx="502.1" cy="115.4" r="3.3" fill="#ffa200"/>
<circle cx="510.0" cy="106.4" r="3.3" fill="#ff9d00"/>
<circle cx="505.9" cy="109.6" r="3.3" fill="#ff8d00"/>
<circle cx="493.6" cy="108.0" r="3.3" fill="#ffa600"/>
<circle cx="487.1" cy="108.6" r="3.3" fill="#ff6f00"/>
<circle cx="506.3" cy="110.7" r="3.3" fill="#ff8c00"/>
<circle cx="504.5" cy="104.8" r="3.3" fill="#ff8300"/>
<circle cx="505.5" cy="110.8" r="3.3" fill="#ff9700"/>
<circle cx="499.6" cy="107.0" r="3.3" fill="#ffab00"/>
<circle cx="493.3" cy="104.9" r="3.3" fill="#ffa700"/>
<circle cx="504.7" cy="103.4" r="3.3" fill="#ff7b00"/>
<circle cx="487.3" cy="111.4" r="3.3" fill="#ff7300"/>
<circle cx="491.6" cy="110.1" r="3.3" fill="#ff6d00"/>
<circle cx="503.4" cy="107.2" r="3.3" fill="#ffa400"/>
<circle cx="504.6" cy="110.4" r="3.3" fill="#ff8e00"/>
<circle cx="488.0" cy="112.4" r="3.3" fill="#ff8700"/>
<circle cx="500.2" cy="108.0" r="3.3" fill="#ffad00"/>
<circle cx="499.1" cy="108.1" r="3.3" fill="#ff8e00"/>
<circle cx="494.1" cy="113.8" r="3.3" fill="#ffbf00"/>
<circle cx="495.3" cy="101.5" r="3.3" fill="#ff9000"/>
<circle cx="496.9" cy="117.4" r="3.3" fill="#ff7c00"/>
<circle cx="492.7" cy="104.6" r="3.3" fill="#ff9300"/>
<circle cx="505.7" cy="112.3" r="3.3" fill="#ff7f00"/>
<circle cx="496.3" cy="112.1" r="3.3" fill="#ffa300"/>
<circle cx="491.1" cy="110.4" r="3.3" fill="#ff9900"/>
<circle cx="498.5" cy="108.6" r="3.3" fill="#ff8a00"/>
<circle cx="486.9" cy="115.7" r="3.3" fill="#ff9400"/>
<circle cx="506.7" cy="105.6" r="3.3" fill="#ff9400"/>
<circle cx="497.5" cy="111.9" r="3.3" fill="#ff9900"/>
<circle cx="510.6" cy="106.4" r="3.3" fill="#ff8900"/>
<circle cx="503.7" cy="111.6" r="3.3" fill="#ff9b00"/>
<circle cx="500.0" cy="115.4" r="3.3" fill="#ff9300"/>
<circle cx="484.9" cy="106.4" r="3.3" fill="#ffa300"/>
<circle cx="485.9" cy="111.2" r="3.3" fill="#ff9300"/>
<circle cx="511.2" cy="111.8" r="3.3" fill="#ff8f00"/>
<circle cx="497.2" cy="112.7" r="3.3" fill="#ffa700"/>
<circle cx="498.8" cy="111.1" r="3.3" fill="#ff9700"/>
<circle cx="487.1" cy="115.8" r="3.3" fill="#ffad00"/>
<circle cx="485.0" cy="110.9" r="3.3" fill="#ff7b00"/>
<circle cx="495.4" cy="108.2" r="3.3" fill="#ff9400"/>
<circle cx="498.2" cy="118.3" r="3.3" fill="#ff8e00"/>
<circle cx="485.0" cy="111.5" r="3.3" fill="#ff7800"/>
<circle cx="498.9" cy="106.2" r="3.3" fill="#ffac00"/>
<circle cx="494.1" cy="108.5" r="3.3" fill="#ff9400"/>
<circle cx="491.3" cy="112.5" r="3.3" fill="#ffa600"/>
<circle cx="487.9" cy="116.1" r="3.3" fill="#ff9f00"/>
<circle cx="496.7" cy="113.2" r="3.3" fill="#ffb100"/>
<circle cx="505.1" cy="112.7" r="3.3" fill="#ff7500"/>
<circle cx="511.3" cy="109.4" r="3.3" fill="#ff8500"/>
<circle cx="496.5" cy="117.9" r="3.3" fill="#ff9000"/>
<circle cx="499.8" cy="101.1" r="3.3" fill="#ff9d00"/>
<circle cx="497.4" cy="102.7" r="3.3" fill="#ff7c00"/>
<circle cx="505.3" cy="108.1" r="3.3" fill="#ff8900"/>
<circle cx="490.6" cy="107.5" r="3.3" fill="#ff6600"/>
<circle cx="493.4" cy="109.7" r="3.3" fill="#ff9900"/>
<circle cx="510.8" cy="111.1" r="3.3" fill="#ff9a00"/>
<circle cx="505.4" cy="106.5" r="3.3" fill="#ff9b00"/>
<circle cx="503.3" cy="108.8" r="3.3" fill="#ff9d00"/>
<circle cx="501.4" cy="105.5" r="3.3" fill="#ffab00"/>
<circle cx="496.0" cy="113.8" r="3.3" fill="#ff9d00"/>
<circle cx="497.2" cy="106.7" r="3.3" fill="#ffa300"/>
<circle cx="509.4" cy="106.3" r="3.3" fill="#ff9700"/>
<circle cx="488.7" cy="113.2" r="3.3" fill="#ff9700"/>
<circle cx="502.8" cy="103.8" r="3.3" fill="#ffa500"/>
<circle cx="506.6" cy="110.4" r="3.3" fill="#ffb800"/>
<circle cx="507.1" cy="114.7" r="3.3" fill="#ff8f00"/>
<circle cx="492.9" cy="113.3" r="3.3" fill="#ff7400"/>
<circle cx="498.2" cy="109.4" r="3.3" fill="#ffab00"/>
<circle cx="485.0" cy="110.0" r="3.3" fill="#ff7200"/>
<circle cx="498.3" cy="107.8" r="3.3" fill="#ff7100"/>
<circle cx="504.9" cy="103.6" r="3.3" fill="#ff9900"/>
<circle cx="511.2" cy="106.7" r="3.3" fill="#ffb500"/>
<circle cx="498.5" cy="115.6" r="3.3" fill="#ff8b00"/>
<circle cx="486.0" cy="110.3" r="3.3" fill="#ff6900"/>
<circle cx="481.7" cy="113.7" r="3.3" fill="#ffbd00"/>
<circle cx="493.7" cy="113.7" r="3.3" fill="#ff8a00"/>
<circle cx="495.1" cy="109.6" r="3.3" fill="#ff9200"/>
<circle cx="511.6" cy="109.6" r="3.3" fill="#ffa800"/>
<circle cx="501.5" cy="115.8" r="3.3" fill="#ffb300"/>
<circle cx="489.4" cy="113.1" r="3.3" fill="#ff9e00"/>
<circle cx="501.1" cy="105.7" r="3.3" fill="#ff8900"/>
<circle cx="501.1" cy="108.6" r="3.3" fill="#ff7900"/>
<circle cx="503.5" cy="113.5" r="3.3" fill="#ff7800"/>
<circle cx="480.7" cy="108.6" r="3.3" fill="#ff8000"/>
<circle cx="494.3" cy="107.5" r="3.3" fill="#ff6e00"/>
<circle cx="497.5" cy="108.8" r="3.3" fill="#ff8700"/>
<circle cx="502.9" cy="115.8" r="3.3" fill="#ffae00"/>
<circle cx="481.7" cy="113.5" r="3.3" fill="#ffac00"/>
<circle cx="500.7" cy="106.6" r="3.3" fill="#ff9300"/>
<circle cx="496.1" cy="109.5" r="3.3" fill="#ff9700"/>
<circle cx="481.3" cy="111.4" r="3.3" fill="#ff9800"/>
<circle cx="508.7" cy="110.7" r="3.3" fill="#ff7000"/>
<circle cx="493.5" cy="105.8" r="3.3" fill="#ff7b00"/>
<circle cx="495.6" cy="104.6" r="3.3" fill="#ff9400"/>
<circle cx="504.1" cy="108.3" r="3.3" fill="#ff8700"/>
<circle cx="479.0" cy="110.5" r="3.3" fill="#ffa700"/>
<circle cx="512.6" cy="108.9" r="3.3" fill="#ff6500"/>
<circle cx="494.9" cy="103.2" r="3.3" fill="#ff8500"/>
<circle cx="505.1" cy="116.7" r="3.3" fill="#ff8400"/>
<circle cx="499.3" cy="112.7" r="3.3" fill="#ff9800"/>
<circle cx="507.1" cy="108.3" r="3.3" fill="#ffc600"/>
<circle cx="506.9" cy="113.7" r="3.3" fill="#ffa200"/>
<circle cx="500.4" cy="113.1" r="3.3" fill="#ffb400"/>
<circle cx="482.5" cy="113.1" r="3.3" fill="#ff9300"/>
<circle cx="508.6" cy="106.9" r="3.3" fill="#ff7700"/>
<circle cx="505.3" cy="110.2" r="3.3" fill="#ff8a00"/>
<circle cx="499.8" cy="109.3" r="3.3" fill="#ff9300"/>
<circle cx="504.2" cy="107.5" r="3.3" fill="#ff9b00"/>
<circle cx="487.4" cy="106.7" r="3.3" fill="#ffa200"/>
<circle cx="495.9" cy="115.4" r="3.3" fill="#ff8600"/>
<circle cx="505.1" cy="107.5" r="3.3" fill="#ffb100"/>
<circle cx="513.4" cy="111.8" r="3.3" fill="#ff9b00"/>
<circle cx="507.9" cy="106.6" r="3.3" fill="#ff9200"/>
<circle cx="492.5" cy="115.9" r="3.3" fill="#ff9900"/>
<circle cx="495.4" cy="114.7" r="3.3" fill="#ff8300"/>
<circle cx="498.1" cy="110.9" r="3.3" fill="#ff7500"/>
<circle cx="515.6" cy="107.1" r="3.3" fill="#ff8500"/>
<circle cx="494.5" cy="101.9" r="3.3" fill="#ffaf00"/>
<circle cx="502.1" cy="116.1" r="3.3" fill="#ffae00"/>
<circle cx="492.0" cy="104.4" r="3.3" fill="#ff9300"/>
<circle cx="516.9" cy="108.0" r="3.3" fill="#ff8b00"/>
<circle cx="510.6" cy="110.7" r="3.3" fill="#ff8c00"/>
<circle cx="507.6" cy="106.1" r="3.3" fill="#ffa000"/>
<circle cx="499.8" cy="115.3" r="3.3" fill="#ffa600"/>
<circle cx="501.3" cy="110.1" r="3.3" fill="#ff7f00"/>
<circle cx="510.6" cy="106.0" r="3.3" fill="#ff7f00"/>
<circle cx="510.4" cy="106.9" r="3.3" fill="#ff8d00"/>
<circle cx="500.1" cy="109.2" r="3.3" fill="#ff6200"/>
<circle cx="514.0" cy="111.8" r="3.3" fill="#ff9300"/>
<circle cx="503.5" cy="116.6" r="3.3" fill="#ffa000"/>
<circle cx="506.1" cy="108.2" r="3.3" fill="#ff8800"/>
<circle cx="496.1" cy="109.1" r="3.3" fill="#ff9500"/>
<circle cx="491.3" cy="106.2" r="3.3" fill="#ff9800"/>
<circle cx="492.1" cy="105.8" r="3.3" fill="#ff8e00"/>
<circle cx="486.0" cy="112.0" r="3.3" fill="#ff8800"/>
<circle cx="504.8" cy="114.9" r="3.3" fill="#ff9300"/>
<circle cx="506.4" cy="109.0" r="3.3" fill="#ff7f00"/>
<circle cx="489.5" cy="112.8" r="3.3" fill="#ff9e00"/>
<circle cx="508.5" cy="107.6" r="3.3" fill="#ffab00"/>
<circle cx="494.9" cy="103.1" r="3.3" fill="#ffa300"/>
<circle cx="493.6" cy="106.1" r="3.3" fill="#ff8200"/>
<circle cx="501.1" cy="114.4" r="3.3" fill="#ff7c00"/>
<circle cx="487.6" cy="109.7" r="3.3" fill="#ff8c00"/>
<circle cx="494.2" cy="110.4" r="3.3" fill="#ffa900"/>
<circle cx="506.4" cy="107.5" r="3.3" fill="#ff8f00"/>
<circle cx="484.1" cy="113.6" r="3.3" fill="#ff8200"/>
<circle cx="497.9" cy="113.4" r="3.3" fill="#ff8a00"/>
<circle cx="501.6" cy="112.1" r="3.3" fill="#ffad00"/>
<circle cx="509.8" cy="109.7" r="3.3" fill="#ff8a00"/>
<circle cx="500.2" cy="115.5" r="3.3" fill="#ff7e00"/>
<circle cx="488.6" cy="107.2" r="3.3" fill="#ffa900"/>
<circle cx="501.6" cy="112.2" r="3.3" fill="#ff9700"/>
<circle cx="487.6" cy="108.1" r="3.3" fill="#ffad00"/>
<circle cx="494.5" cy="108.5" r="3.3" fill="#ff7d00"/>
<circle cx="500.6" cy="108.5" r="3.3" fill="#ff6600"/>
<circle cx="492.7" cy="106.8" r="3.3" fill="#ff7300"/>
<circle cx="494.4" cy="113.5" r="3.3" fill="#ff8200"/>
<circle cx="486.6" cy="119.9" r="3.3" fill="#ff8d00"/>
<circle cx="489.9" cy="128.6" r="3.3" fill="#ffac00"/>
<circle cx="479.0" cy="129.6" r="3.3" fill="#ff9100"/>
<circle cx="489.3" cy="133.8" r="3.3" fill="#ff9100"/>
<circle cx="479.1" cy="127.2" r="3.3" fill="#ff9100"/>
<circle cx="483.6" cy="133.8" r="3.3" fill="#ffa700"/>
<circle cx="478.1" cy="129.4" r="3.3" fill="#ffb300"/>
<circle cx="483.6" cy="133.1" r="3.3" fill="#ff8300"/>
<circle cx="474.7" cy="125.9" r="3.3" fill="#ffab00"/>
<circle cx="477.1" cy="131.9" r="3.3" fill="#ff9d00"/>
<circle cx="482.8" cy="131.7" r="3.3" fill="#ff8600"/>
<circle cx="481.5" cy="119.4" r="3.3" fill="#ff7c00"/>
<circle cx="471.5" cy="132.0" r="3.3" fill="#ffb000"/>
<circle cx="480.4" cy="127.9" r="3.3" fill="#ff8900"/>
<circle cx="483.5" cy="126.6" r="3.3" fill="#ffa200"/>
<circle cx="486.3" cy="126.9" r="3.3" fill="#ffad00"/>
<circle cx="489.9" cy="122.6" r="3.3" fill="#ff8f00"/>
<circle cx="484.3" cy="128.3" r="3.3" fill="#ff9400"/>
<circle cx="483.0" cy="126.0" r="3.3" fill="#ffa000"/>
<circle cx="483.8" cy="120.1" r="3.3" fill="#ff9b00"/>
<circle cx="483.7" cy="134.2" r="3.3" fill="#ffa000"/>
<circle cx="486.7" cy="130.1" r="3.3" fill="#ff8400"/>
<circle cx="477.0" cy="122.2" r="3.3" fill="#ff9f00"/>
<circle cx="473.6" cy="129.2" r="3.3" fill="#ff5f00"/>
<circle cx="488.8" cy="135.7" r="3.3" fill="#ffab00"/>
<circle cx="482.5" cy="127.1" r="3.3" fill="#ffa800"/>
<circle cx="479.7" cy="126.1" r="3.3" fill="#ff8a00"/>
<circle cx="476.4" cy="129.3" r="3.3" fill="#ffb000"/>
<circle cx="470.3" cy="128.7" r="3.3" fill="#ffa700"/>
<circle cx="482.8" cy="136.1" r="3.3" fill="#ffb400"/>
<circle cx="482.1" cy="126.4" r="3.3" fill="#ffc300"/>
<circle cx="476.7" cy="126.5" r="3.3" fill="#ff9e00"/>
<circle cx="482.2" cy="128.0" r="3.3" fill="#ffab00"/>
<circle cx="484.2" cy="136.7" r="3.3" fill="#ffc600"/>
<circle cx="478.4" cy="132.8" r="3.3" fill="#ffaf00"/>
<circle cx="476.4" cy="124.8" r="3.3" fill="#ff9b00"/>
<circle cx="485.6" cy="130.5" r="3.3" fill="#ff8200"/>
<circle cx="482.2" cy="129.9" r="3.3" fill="#ff9300"/>
<circle cx="472.0" cy="134.1" r="3.3" fill="#ffa400"/>
<circle cx="482.0" cy="137.6" r="3.3" fill="#ffa000"/>
<circle cx="475.0" cy="133.8" r="3.3" fill="#ff9a00"/>
<circle cx="481.4" cy="124.9" r="3.3" fill="#ffab00"/>
<circle cx="480.9" cy="125.4" r="3.3" fill="#ff8f00"/>
<circle cx="480.0" cy="135.2" r="3.3" fill="#ff9000"/>
<circle cx="487.0" cy="123.5" r="3.3" fill="#ff9900"/>
<circle cx="485.2" cy="128.1" r="3.3" fill="#ff7a00"/>
<circle cx="480.3" cy="130.7" r="3.3" fill="#ff9800"/>
<circle cx="478.7" cy="124.5" r="3.3" fill="#ff8e00"/>
<circle cx="488.6" cy="129.2" r="3.3" fill="#ff9500"/>
<circle cx="478.1" cy="127.8" r="3.3" fill="#ff8f00"/>
<circle cx="473.7" cy="131.6" r="3.3" fill="#ffb300"/>
<circle cx="488.3" cy="123.4" r="3.3" fill="#ffa400"/>
<circle cx="476.7" cy="137.2" r="3.3" fill="#ff9500"/>
<circle cx="479.8" cy="131.3" r="3.3" fill="#ff7500"/>
<circle cx="479.3" cy="128.6" r="3.3" fill="#ffba00"/>
<circle cx="481.9" cy="123.2" r="3.3" fill="#ff7d00"/>
<circle cx="482.4" cy="131.1" r="3.3" fill="#ff9f00"/>
<circle cx="479.1" cy="126.0" r="3.3" fill="#ffab00"/>
<circle cx="479.2" cy="124.9" r="3.3" fill="#ff8e00"/>
<circle cx="486.4" cy="137.1" r="3.3" fill="#ff9e00"/>
<circle cx="486.2" cy="136.3" r="3.3" fill="#ffab00"/>
<circle cx="477.9" cy="135.5" r="3.3" fill="#ff8b00"/>
<circle cx="490.5" cy="132.6" r="3.3" fill="#ffc000"/>
<circle cx="472.9" cy="131.5" r="3.3" fill="#ffa700"/>
<circle cx="479.4" cy="124.5" r="3.3" fill="#ffa200"/>
<circle cx="484.4" cy="127.3" r="3.3" fill="#ff9700"/>
<circle cx="476.9" cy="131.2" r="3.3" fill="#ff8c00"/>
<circle cx="481.8" cy="132.5" r="3.3" fill="#ff8300"/>
<circle cx="485.0" cy="124.6" r="3.3" fill="#ffb700"/>
<circle cx="475.3" cy="124.4" r="3.3" fill="#ff8000"/>
<circle cx="488.6" cy="122.2" r="3.3" fill="#ffb300"/>
<circle cx="480.0" cy="133.4" r="3.3" fill="#ffa800"/>
<circle cx="470.2" cy="124.1" r="3.3" fill="#ff8700"/>
<circle cx="476.5" cy="134.3" r="3.3" fill="#ff9c00"/>
<circle cx="478.1" cy="129.6" r="3.3" fill="#ffa300"/>
<circle cx="476.2" cy="119.6" r="3.3" fill="#ffa500"/>
<circle cx="486.2" cy="130.6" r="3.3" fill="#ff9d00"/>
<circle cx="489.0" cy="137.3" r="3.3" fill="#ffb400"/>
<circle cx="484.7" cy="131.7" r="3.3" fill="#ffa000"/>
<circle cx="488.3" cy="135.4" r="3.3" fill="#ff8800"/>
<circle cx="478.7" cy="126.1" r="3.3" fill="#ff8e00"/>
<circle cx="482.0" cy="126.6" r="3.3" fill="#ffaa00"/>
<circle cx="484.7" cy="125.2" r="3.3" fill="#ffa100"/>
<circle cx="487.5" cy="130.5" r="3.3" fill="#ff9700"/>
<circle cx="490.0" cy="126.5" r="3.3" fill="#ffa800"/>
<circle cx="481.1" cy="137.2" r="3.3" fill="#ffb300"/>
<circle cx="477.1" cy="132.5" r="3.3" fill="#ff9e00"/>
<circle cx="490.6" cy="130.9" r="3.3" fill="#ff9500"/>
<circle cx="475.4" cy="122.4" r="3.3" fill="#ff9c00"/>
<circle cx="481.2" cy="124.7" r="3.3" fill="#ff8300"/>
<circle cx="483.5" cy="136.6" r="3.3" fill="#ff7600"/>
<circle cx="482.5" cy="139.8" r="3.3" fill="#ff7f00"/>
<circle cx="477.0" cy="138.3" r="3.3" fill="#ff9b00"/>
<circle cx="485.4" cy="137.8" r="3.3" fill="#ff6900"/>
<circle cx="476.5" cy="137.2" r="3.3" fill="#ff8e00"/>
<circle cx="480.5" cy="140.0" r="3.3" fill="#ff6900"/>
<circle cx="480.7" cy="140.4" r="3.3" fill="#ff9c00"/>
<circle cx="473.3" cy="138.6" r="3.3" fill="#ff7e00"/>
<circle cx="482.3" cy="138.2" r="3.3" fill="#ffa200"/>
<circle cx="480.6" cy="139.6" r="3.3" fill="#ff9a00"/>
<circle cx="478.9" cy="136.5" r="3.3" fill="#ffa500"/>
<circle cx="479.7" cy="140.1" r="3.3" fill="#ff8d00"/>
<circle cx="478.8" cy="138.1" r="3.3" fill="#ff8e00"/>
<circle cx="482.2" cy="140.6" r="3.3" fill="#ff9000"/>
<circle cx="475.4" cy="138.0" r="3.3" fill="#ff9200"/>
<circle cx="482.9" cy="139.7" r="3.3" fill="#ff7d00"/>
<circle cx="484.3" cy="139.2" r="3.3" fill="#ffab00"/>
<circle cx="482.9" cy="138.9" r="3.3" fill="#ff6700"/>
<circle cx="487.8" cy="139.7" r="3.3" fill="#ff9c00"/>
<circle cx="475.5" cy="138.9" r="3.3" fill="#ff9200"/>
<circle cx="474.9" cy="137.8" r="3.3" fill="#ff8f00"/>
<circle cx="483.3" cy="136.9" r="3.3" fill="#ffb500"/>
<circle cx="483.6" cy="137.0" r="3.3" fill="#ff9600"/>
<circle cx="482.0" cy="138.0" r="3.3" fill="#ff7600"/>
<circle cx="480.4" cy="137.2" r="3.3" fill="#ff8600"/>
<circle cx="478.0" cy="140.9" r="3.3" fill="#ff6f00"/>
<circle cx="482.8" cy="140.5" r="3.3" fill="#ff8b00"/>
<circle cx="480.2" cy="138.6" r="3.3" fill="#ff8300"/>
<circle cx="477.2" cy="138.1" r="3.3" fill="#ffbe00"/>
<circle cx="480.2" cy="138.7" r="3.3" fill="#ff8e00"/>
<circle cx="478.8" cy="108.0" r="3.3" fill="#ffd600"/>
<circle cx="483.5" cy="111.8" r="3.3" fill="#ffc800"/>
<circle cx="483.8" cy="113.1" r="3.3" fill="#ffc900"/>
<circle cx="481.6" cy="114.1" r="3.3" fill="#ffcd00"/>
<circle cx="486.2" cy="112.2" r="3.3" fill="#ffc400"/>
<circle cx="476.8" cy="105.4" r="3.3" fill="#ffc200"/>
<circle cx="479.0" cy="110.2" r="3.3" fill="#ffcd00"/>
<circle cx="479.8" cy="109.6" r="3.3" fill="#ffc700"/>
<circle cx="482.7" cy="111.0" r="3.3" fill="#ffc700"/>
<circle cx="476.0" cy="108.3" r="3.3" fill="#ffd800"/>
<circle cx="476.7" cy="106.2" r="3.3" fill="#ffdc00"/>
<circle cx="474.1" cy="114.1" r="3.3" fill="#ffd400"/>
<circle cx="477.5" cy="105.8" r="3.3" fill="#ffd200"/>
<circle cx="477.4" cy="112.2" r="3.3" fill="#ffcb00"/>
<circle cx="479.5" cy="111.9" r="3.3" fill="#ffce00"/>
<circle cx="477.1" cy="108.5" r="3.3" fill="#ffc600"/>
<circle cx="481.2" cy="104.9" r="3.3" fill="#ffd100"/>
<circle cx="476.6" cy="107.0" r="3.3" fill="#ffd000"/>
<circle cx="483.4" cy="108.3" r="3.3" fill="#ffcd00"/>
<circle cx="476.7" cy="108.6" r="3.3" fill="#ffcc00"/>
<circle cx="474.8" cy="109.8" r="3.3" fill="#ffd400"/>
<circle cx="486.2" cy="111.7" r="3.3" fill="#ffca00"/>
<circle cx="472.9" cy="109.3" r="3.3" fill="#ffc900"/>
<circle cx="475.2" cy="112.9" r="3.3" fill="#ffca00"/>
<circle cx="479.1" cy="111.0" r="3.3" fill="#ffb800"/>
<circle cx="474.3" cy="113.4" r="3.3" fill="#ffbf00"/>
<circle cx="480.4" cy="109.1" r="3.3" fill="#ffcf00"/>
<circle cx="471.7" cy="108.4" r="3.3" fill="#ffd500"/>
<circle cx="483.0" cy="105.5" r="3.3" fill="#ffce00"/>
<circle cx="477.0" cy="111.7" r="3.3" fill="#ffd800"/>
<circle cx="476.1" cy="107.1" r="3.3" fill="#ffaf00"/>
<circle cx="482.8" cy="109.3" r="3.3" fill="#ffbe00"/>
<circle cx="474.5" cy="108.0" r="3.3" fill="#ffaa00"/>
<circle cx="483.9" cy="113.0" r="3.3" fill="#ffb900"/>
<circle cx="477.2" cy="111.4" r="3.3" fill="#ffd900"/>
<circle cx="478.7" cy="105.9" r="3.3" fill="#ffb300"/>
<circle cx="479.3" cy="113.8" r="3.3" fill="#ffbe00"/>
<circle cx="485.8" cy="109.7" r="3.3" fill="#ffd500"/>
<circle cx="479.1" cy="112.7" r="3.3" fill="#ffd700"/>
<circle cx="482.6" cy="111.3" r="3.3" fill="#ffb200"/>
<circle cx="478.1" cy="114.2" r="3.3" fill="#ffc800"/>
<circle cx="475.6" cy="108.7" r="3.3" fill="#ffdc00"/>
<circle cx="478.3" cy="114.5" r="3.3" fill="#ffdc00"/>
<circle cx="473.3" cy="111.1" r="3.3" fill="#ffc800"/>
<circle cx="480.8" cy="107.7" r="3.3" fill="#ffb900"/>
<circle cx="471.0" cy="107.8" r="3.3" fill="#ffda00"/>
<circle cx="484.6" cy="109.2" r="3.3" fill="#ffda00"/>
<circle cx="475.6" cy="109.7" r="3.3" fill="#ffcb00"/>
<circle cx="477.7" cy="108.8" r="3.3" fill="#ffd500"/>
<circle cx="478.6" cy="107.5" r="3.3" fill="#ffce00"/>
<circle cx="476.2" cy="112.1" r="3.3" fill="#ffb600"/>
<circle cx="475.3" cy="115.0" r="3.3" fill="#ffd100"/>
<circle cx="480.7" cy="109.7" r="3.3" fill="#ffb200"/>
<circle cx="481.1" cy="113.8" r="3.3" fill="#ffd100"/>
<circle cx="475.4" cy="111.3" r="3.3" fill="#ffb000"/>
<circle cx="479.1" cy="111.8" r="3.3" fill="#ffcf00"/>
<circle cx="473.7" cy="110.1" r="3.3" fill="#ffcc00"/>
<circle cx="479.8" cy="108.2" r="3.3" fill="#ffd000"/>
<circle cx="478.1" cy="113.3" r="3.3" fill="#ffc400"/>
<circle cx="471.2" cy="109.4" r="3.3" fill="#ffca00"/>
<circle cx="476.0" cy="107.6" r="3.3" fill="#ffbe00"/>
<circle cx="474.6" cy="112.4" r="3.3" fill="#ffca00"/>
<circle cx="482.7" cy="111.2" r="3.3" fill="#ffd400"/>
<circle cx="475.6" cy="108.7" r="3.3" fill="#ffbb00"/>
<circle cx="478.5" cy="112.3" r="3.3" fill="#ffc700"/>
<circle cx="474.3" cy="107.2" r="3.3" fill="#ffd500"/>
<circle cx="472.3" cy="106.7" r="3.3" fill="#ffdb00"/>
<circle cx="476.6" cy="113.5" r="3.3" fill="#ffcb00"/>
<circle cx="480.7" cy="112.3" r="3.3" fill="#ffce00"/>
<circle cx="475.9" cy="107.0" r="3.3" fill="#ffbc00"/>
<circle cx="481.2" cy="113.4" r="3.3" fill="#ffdc00"/>
<circle cx="479.8" cy="111.7" r="3.3" fill="#ffdc00"/>
<circle cx="479.5" cy="107.5" r="3.3" fill="#ffdb00"/>
<circle cx="481.9" cy="109.8" r="3.3" fill="#ffc200"/>
<circle cx="483.5" cy="106.7" r="3.3" fill="#ffc200"/>
<circle cx="476.8" cy="105.4" r="3.3" fill="#ffcc00"/>
<circle cx="475.1" cy="105.1" r="3.3" fill="#ffdc00"/>
<circle cx="481.9" cy="114.0" r="3.3" fill="#ffba00"/>
<circle cx="473.5" cy="111.2" r="3.3" fill="#ffdc00"/>
<circle cx="469.2" cy="111.9" r="3.3" fill="#ffdc00"/>
<circle cx="476.5" cy="112.3" r="3.3" fill="#ffce00"/>
<circle cx="469.4" cy="110.0" r="3.3" fill="#ffce00"/>
<circle cx="479.5" cy="110.0" r="3.3" fill="#ffda00"/>
<circle cx="474.1" cy="112.1" r="3.3" fill="#ffd000"/>
<circle cx="476.7" cy="112.7" r="3.3" fill="#ffbf00"/>
<circle cx="475.3" cy="110.9" r="3.3" fill="#ffdc00"/>
<circle cx="474.7" cy="110.8" r="3.3" fill="#ffd400"/>
<circle cx="479.9" cy="108.9" r="3.3" fill="#ffcc00"/>
<circle cx="473.6" cy="107.0" r="3.3" fill="#ffcf00"/>
<circle cx="472.8" cy="111.0" r="3.3" fill="#ffca00"/>
<circle cx="470.6" cy="110.8" r="3.3" fill="#ffbb00"/>
<circle cx="481.5" cy="110.3" r="3.3" fill="#ffc800"/>
<circle cx="477.8" cy="112.3" r="3.3" fill="#ffca00"/>
<circle cx="473.6" cy="108.6" r="3.3" fill="#ffd200"/>
<circle cx="474.4" cy="112.4" r="3.3" fill="#ffd400"/>
<circle cx="474.3" cy="113.1" r="3.3" fill="#ffc200"/>
<circle cx="470.6" cy="108.1" r="3.3" fill="#ffc700"/>
<circle cx="472.3" cy="113.0" r="3.3" fill="#ffd200"/>
<circle cx="481.4" cy="109.0" r="3.3" fill="#ffbc00"/>
<circle cx="476.2" cy="106.9" r="3.3" fill="#ffcf00"/>
<circle cx="475.7" cy="109.5" r="3.3" fill="#ffc900"/>
<circle cx="481.9" cy="110.6" r="3.3" fill="#ffbe00"/>
<circle cx="476.4" cy="105.0" r="3.3" fill="#ffcc00"/>
<circle cx="481.3" cy="113.7" r="3.3" fill="#ffdc00"/>
<circle cx="470.3" cy="109.8" r="3.3" fill="#ffc200"/>
<circle cx="472.0" cy="110.4" r="3.3" fill="#ffbf00"/>
<circle cx="476.5" cy="111.2" r="3.3" fill="#ffd400"/>
<circle cx="481.6" cy="111.2" r="3.3" fill="#ffd500"/>
<circle cx="479.1" cy="107.5" r="3.3" fill="#ffc000"/>
<circle cx="476.3" cy="110.1" r="3.3" fill="#ffca00"/>
<circle cx="472.4" cy="120.7" r="3.3" fill="#ffda00"/>
<circle cx="473.4" cy="112.7" r="3.3" fill="#ffcb00"/>
<circle cx="473.1" cy="112.6" r="3.3" fill="#ffb600"/>
<circle cx="470.8" cy="119.8" r="3.3" fill="#ffc300"/>
<circle cx="470.6" cy="116.3" r="3.3" fill="#ffd900"/>
<circle cx="473.7" cy="116.1" r="3.3" fill="#ffcf00"/>
<circle cx="476.4" cy="115.8" r="3.3" fill="#ffc500"/>
<circle cx="471.6" cy="123.0" r="3.3" fill="#ffd000"/>
<circle cx="474.0" cy="117.2" r="3.3" fill="#ffdc00"/>
<circle cx="475.0" cy="118.9" r="3.3" fill="#ffdc00"/>
<circle cx="473.1" cy="120.2" r="3.3" fill="#ffcd00"/>
<circle cx="472.8" cy="119.9" r="3.3" fill="#ffb600"/>
<circle cx="475.1" cy="117.5" r="3.3" fill="#ffca00"/>
<circle cx="472.1" cy="122.6" r="3.3" fill="#ffca00"/>
<circle cx="471.1" cy="118.9" r="3.3" fill="#ffca00"/>
<circle cx="475.7" cy="118.9" r="3.3" fill="#ffc800"/>
<circle cx="470.2" cy="119.1" r="3.3" fill="#ffb000"/>
<circle cx="473.6" cy="113.2" r="3.3" fill="#ffca00"/>
<circle cx="473.0" cy="125.3" r="3.3" fill="#ffbb00"/>
<circle cx="473.0" cy="118.4" r="3.3" fill="#ffb900"/>
<circle cx="475.5" cy="119.9" r="3.3" fill="#ffbc00"/>
<circle cx="471.6" cy="122.1" r="3.3" fill="#ffdc00"/>
<circle cx="473.8" cy="110.5" r="3.3" fill="#ffdc00"/>
<circle cx="473.0" cy="122.1" r="3.3" fill="#ffb800"/>
<circle cx="472.7" cy="119.4" r="3.3" fill="#ffb300"/>
<circle cx="475.4" cy="116.3" r="3.3" fill="#ffb100"/>
<circle cx="473.8" cy="121.0" r="3.3" fill="#ffb700"/>
<circle cx="471.3" cy="123.5" r="3.3" fill="#ffd700"/>
<circle cx="476.4" cy="116.9" r="3.3" fill="#ffc400"/>
<circle cx="472.8" cy="125.0" r="3.3" fill="#ffcf00"/>
</g><circle cx="482" cy="124" r="10" fill="#fff" stroke="#000" stroke-width="3.6"/></g>
<g id="s2"><g fill-opacity="0.55">
<circle cx="862.3" cy="264.4" r="3.3" fill="#002ff4"/>
<circle cx="863.8" cy="262.3" r="3.3" fill="#002ff4"/>
<circle cx="865.5" cy="260.0" r="3.3" fill="#002ff4"/>
<circle cx="872.2" cy="251.3" r="3.3" fill="#002ff4"/>
<circle cx="874.0" cy="249.0" r="3.3" fill="#002ff4"/>
<circle cx="877.6" cy="243.9" r="3.3" fill="#002ff4"/>
<circle cx="876.0" cy="246.0" r="3.3" fill="#002ff4"/>
<circle cx="884.6" cy="235.2" r="3.3" fill="#002ff4"/>
<circle cx="883.0" cy="237.0" r="3.3" fill="#002ff4"/>
<circle cx="886.5" cy="233.5" r="3.3" fill="#002ff4"/>
<circle cx="893.2" cy="222.8" r="3.3" fill="#002ff4"/>
<circle cx="892.0" cy="224.5" r="3.3" fill="#002ff4"/>
<circle cx="895.0" cy="221.0" r="3.3" fill="#002ff4"/>
<circle cx="898.0" cy="217.5" r="3.3" fill="#002ff4"/>
<circle cx="899.5" cy="215.5" r="3.3" fill="#002ff4"/>
<circle cx="904.4" cy="210.4" r="3.3" fill="#002ff4"/>
<circle cx="903.0" cy="212.0" r="3.3" fill="#002ff4"/>
<circle cx="906.0" cy="207.5" r="3.3" fill="#002ff4"/>
<circle cx="908.0" cy="204.3" r="3.3" fill="#002ff4"/>
<circle cx="909.5" cy="202.5" r="3.3" fill="#002ff4"/>
<circle cx="957.5" cy="144.8" r="3.3" fill="#005bf3"/>
<circle cx="953.9" cy="143.4" r="3.3" fill="#004ff8"/>
<circle cx="957.7" cy="126.6" r="3.3" fill="#0052f6"/>
<circle cx="931.4" cy="172.3" r="3.3" fill="#0048fa"/>
<circle cx="952.7" cy="147.5" r="3.3" fill="#004cf9"/>
<circle cx="922.4" cy="188.5" r="3.3" fill="#0038fc"/>
<circle cx="941.9" cy="159.5" r="3.3" fill="#004df8"/>
<circle cx="946.7" cy="156.2" r="3.3" fill="#0041fd"/>
<circle cx="919.6" cy="186.5" r="3.3" fill="#0033f7"/>
<circle cx="921.6" cy="189.7" r="3.3" fill="#003efe"/>
<circle cx="939.3" cy="166.3" r="3.3" fill="#003cff"/>
<circle cx="946.6" cy="163.0" r="3.3" fill="#003cff"/>
<circle cx="912.2" cy="199.9" r="3.3" fill="#0032f7"/>
<circle cx="951.8" cy="136.0" r="3.3" fill="#004ef8"/>
<circle cx="946.8" cy="164.1" r="3.3" fill="#003cff"/>
<circle cx="934.5" cy="167.6" r="3.3" fill="#004df8"/>
<circle cx="912.5" cy="196.2" r="3.3" fill="#0034f8"/>
<circle cx="957.2" cy="144.0" r="3.3" fill="#0060f1"/>
<circle cx="934.7" cy="167.6" r="3.3" fill="#003afe"/>
<circle cx="957.2" cy="139.7" r="3.3" fill="#003dff"/>
<circle cx="956.4" cy="148.7" r="3.3" fill="#004df8"/>
<circle cx="909.6" cy="201.0" r="3.3" fill="#0035f9"/>
<circle cx="956.4" cy="128.1" r="3.3" fill="#003dfe"/>
<circle cx="936.2" cy="173.1" r="3.3" fill="#003bfe"/>
<circle cx="959.2" cy="148.4" r="3.3" fill="#0044fc"/>
<circle cx="910.1" cy="201.8" r="3.3" fill="#003ffe"/>
<circle cx="946.6" cy="148.5" r="3.3" fill="#0050f7"/>
<circle cx="943.4" cy="165.1" r="3.3" fill="#0043fc"/>
<circle cx="914.9" cy="194.6" r="3.3" fill="#0037fb"/>
<circle cx="953.1" cy="152.1" r="3.3" fill="#004cf8"/>
<circle cx="946.8" cy="154.2" r="3.3" fill="#0038fc"/>
<circle cx="941.4" cy="158.1" r="3.3" fill="#0042fd"/>
<circle cx="940.8" cy="167.8" r="3.3" fill="#0052f6"/>
<circle cx="935.4" cy="168.9" r="3.3" fill="#0046fb"/>
<circle cx="963.7" cy="136.7" r="3.3" fill="#0059f3"/>
<circle cx="928.9" cy="177.2" r="3.3" fill="#0040fd"/>
<circle cx="950.8" cy="143.9" r="3.3" fill="#0039fc"/>
<circle cx="949.6" cy="160.3" r="3.3" fill="#0043fc"/>
<circle cx="963.4" cy="131.2" r="3.3" fill="#004ef8"/>
<circle cx="945.0" cy="162.9" r="3.3" fill="#0042fc"/>
<circle cx="949.7" cy="148.7" r="3.3" fill="#003dfe"/>
<circle cx="956.7" cy="135.7" r="3.3" fill="#004ef8"/>
<circle cx="956.5" cy="130.6" r="3.3" fill="#0052f6"/>
<circle cx="916.3" cy="193.7" r="3.3" fill="#0037fb"/>
<circle cx="951.3" cy="152.8" r="3.3" fill="#0042fd"/>
<circle cx="930.2" cy="178.0" r="3.3" fill="#004bf9"/>
<circle cx="915.9" cy="191.4" r="3.3" fill="#0035f9"/>
<circle cx="940.2" cy="163.9" r="3.3" fill="#0037fb"/>
<circle cx="909.2" cy="200.6" r="3.3" fill="#0036fa"/>
<circle cx="931.3" cy="179.4" r="3.3" fill="#0043fc"/>
<circle cx="954.0" cy="156.3" r="3.3" fill="#0048fa"/>
<circle cx="944.5" cy="151.6" r="3.3" fill="#0043fc"/>
<circle cx="925.0" cy="183.9" r="3.3" fill="#003dff"/>
<circle cx="912.5" cy="198.1" r="3.3" fill="#0039fc"/>
<circle cx="964.2" cy="134.6" r="3.3" fill="#0056f5"/>
<circle cx="950.7" cy="151.3" r="3.3" fill="#0044fc"/>
<circle cx="950.7" cy="137.6" r="3.3" fill="#0055f5"/>
<circle cx="949.2" cy="151.8" r="3.3" fill="#0048fa"/>
<circle cx="948.5" cy="162.4" r="3.3" fill="#003afe"/>
<circle cx="945.8" cy="156.2" r="3.3" fill="#0042fd"/>
<circle cx="945.4" cy="148.1" r="3.3" fill="#004afa"/>
<circle cx="950.3" cy="147.9" r="3.3" fill="#0039fc"/>
<circle cx="917.1" cy="190.8" r="3.3" fill="#003dff"/>
<circle cx="915.1" cy="193.7" r="3.3" fill="#0038fb"/>
<circle cx="956.1" cy="135.5" r="3.3" fill="#0061f0"/>
<circle cx="951.2" cy="149.7" r="3.3" fill="#0059f4"/>
<circle cx="915.2" cy="192.7" r="3.3" fill="#003efe"/>
<circle cx="926.9" cy="181.2" r="3.3" fill="#004af9"/>
<circle cx="929.5" cy="176.5" r="3.3" fill="#003cff"/>
<circle cx="908.5" cy="203.5" r="3.3" fill="#0034f8"/>
<circle cx="930.9" cy="174.1" r="3.3" fill="#0053f6"/>
<circle cx="936.2" cy="167.0" r="3.3" fill="#0048fa"/>
<circle cx="933.5" cy="175.1" r="3.3" fill="#004af9"/>
<circle cx="916.8" cy="194.1" r="3.3" fill="#003cff"/>
<circle cx="954.1" cy="146.8" r="3.3" fill="#004cf9"/>
<circle cx="959.4" cy="141.4" r="3.3" fill="#005ef1"/>
<circle cx="938.3" cy="162.2" r="3.3" fill="#003dff"/>
<circle cx="945.4" cy="148.6" r="3.3" fill="#004df8"/>
<circle cx="949.8" cy="150.9" r="3.3" fill="#003dff"/>
<circle cx="919.7" cy="190.0" r="3.3" fill="#0052f6"/>
<circle cx="919.6" cy="191.3" r="3.3" fill="#0037fb"/>
<circle cx="951.3" cy="149.2" r="3.3" fill="#0054f5"/>
<circle cx="940.2" cy="165.8" r="3.3" fill="#003afd"/>
<circle cx="916.9" cy="192.1" r="3.3" fill="#0039fd"/>
<circle cx="911.4" cy="201.3" r="3.3" fill="#0034f9"/>
<circle cx="933.6" cy="169.6" r="3.3" fill="#004cf8"/>
<circle cx="933.3" cy="170.3" r="3.3" fill="#003ffe"/>
<circle cx="944.8" cy="153.7" r="3.3" fill="#003ffe"/>
<circle cx="913.8" cy="195.5" r="3.3" fill="#0036fa"/>
<circle cx="943.3" cy="166.5" r="3.3" fill="#0046fb"/>
<circle cx="956.7" cy="128.5" r="3.3" fill="#004cf9"/>
<circle cx="913.4" cy="197.7" r="3.3" fill="#0039fd"/>
<circle cx="939.5" cy="168.3" r="3.3" fill="#0055f5"/>
<circle cx="921.5" cy="189.0" r="3.3" fill="#002ef3"/>
<circle cx="928.5" cy="175.4" r="3.3" fill="#0035fa"/>
<circle cx="962.2" cy="140.7" r="3.3" fill="#0059f3"/>
<circle cx="947.5" cy="145.2" r="3.3" fill="#0040fd"/>
<circle cx="948.8" cy="161.3" r="3.3" fill="#003bfe"/>
<circle cx="962.9" cy="134.8" r="3.3" fill="#0064ef"/>
<circle cx="961.8" cy="131.5" r="3.3" fill="#0059f3"/>
<circle cx="954.7" cy="131.3" r="3.3" fill="#0048fa"/>
<circle cx="953.1" cy="154.8" r="3.3" fill="#004af9"/>
<circle cx="914.2" cy="195.3" r="3.3" fill="#003afe"/>
<circle cx="954.2" cy="147.0" r="3.3" fill="#004ef8"/>
<circle cx="945.9" cy="164.6" r="3.3" fill="#0040fd"/>
<circle cx="927.5" cy="181.4" r="3.3" fill="#0043fc"/>
<circle cx="946.4" cy="153.8" r="3.3" fill="#004bf9"/>
<circle cx="921.6" cy="189.2" r="3.3" fill="#0040fe"/>
<circle cx="949.3" cy="162.4" r="3.3" fill="#0042fd"/>
<circle cx="959.6" cy="135.5" r="3.3" fill="#0047fb"/>
<circle cx="954.2" cy="149.4" r="3.3" fill="#0042fd"/>
<circle cx="957.8" cy="149.2" r="3.3" fill="#004df8"/>
<circle cx="913.7" cy="197.9" r="3.3" fill="#003bfe"/>
<circle cx="964.9" cy="130.2" r="3.3" fill="#0060f1"/>
<circle cx="941.0" cy="165.6" r="3.3" fill="#0044fc"/>
<circle cx="925.4" cy="184.8" r="3.3" fill="#0046fb"/>
<circle cx="930.2" cy="172.8" r="3.3" fill="#003cff"/>
<circle cx="956.2" cy="146.1" r="3.3" fill="#004af9"/>
<circle cx="932.3" cy="177.3" r="3.3" fill="#0035f9"/>
<circle cx="956.0" cy="148.4" r="3.3" fill="#0055f5"/>
<circle cx="911.4" cy="201.1" r="3.3" fill="#0032f7"/>
<circle cx="937.2" cy="168.3" r="3.3" fill="#003efe"/>
<circle cx="924.4" cy="186.5" r="3.3" fill="#0035f9"/>
<circle cx="913.5" cy="197.3" r="3.3" fill="#0039fc"/>
<circle cx="946.5" cy="146.3" r="3.3" fill="#0049fa"/>
<circle cx="912.9" cy="197.3" r="3.3" fill="#0038fb"/>
<circle cx="957.5" cy="145.5" r="3.3" fill="#0054f5"/>
<circle cx="925.6" cy="183.6" r="3.3" fill="#0043fc"/>
<circle cx="925.3" cy="185.4" r="3.3" fill="#0039fc"/>
<circle cx="943.1" cy="168.0" r="3.3" fill="#0052f6"/>
<circle cx="923.9" cy="185.4" r="3.3" fill="#0037fb"/>
<circle cx="936.9" cy="162.7" r="3.3" fill="#003bfe"/>
<circle cx="922.3" cy="186.4" r="3.3" fill="#0041fd"/>
<circle cx="953.7" cy="149.6" r="3.3" fill="#003bfe"/>
<circle cx="943.9" cy="152.6" r="3.3" fill="#0040fd"/>
<circle cx="963.7" cy="130.8" r="3.3" fill="#0060f1"/>
<circle cx="953.6" cy="139.0" r="3.3" fill="#0046fb"/>
<circle cx="954.1" cy="148.3" r="3.3" fill="#0044fc"/>
<circle cx="942.6" cy="155.5" r="3.3" fill="#004ef8"/>
<circle cx="915.8" cy="193.3" r="3.3" fill="#003ffe"/>
<circle cx="932.0" cy="177.6" r="3.3" fill="#0049fa"/>
<circle cx="913.2" cy="197.9" r="3.3" fill="#0039fd"/>
<circle cx="922.6" cy="186.6" r="3.3" fill="#003afd"/>
<circle cx="948.6" cy="160.6" r="3.3" fill="#0043fc"/>
<circle cx="932.6" cy="174.1" r="3.3" fill="#0041fd"/>
<circle cx="948.5" cy="144.9" r="3.3" fill="#0059f4"/>
<circle cx="929.6" cy="176.4" r="3.3" fill="#003afd"/>
<circle cx="960.1" cy="147.4" r="3.3" fill="#0050f7"/>
<circle cx="914.1" cy="197.1" r="3.3" fill="#003afd"/>
<circle cx="958.5" cy="143.1" r="3.3" fill="#0046fb"/>
<circle cx="911.4" cy="197.9" r="3.3" fill="#0036fa"/>
<circle cx="952.9" cy="131.7" r="3.3" fill="#003cff"/>
<circle cx="964.9" cy="134.3" r="3.3" fill="#005bf3"/>
<circle cx="948.8" cy="152.9" r="3.3" fill="#0054f5"/>
<circle cx="920.9" cy="188.0" r="3.3" fill="#003bfe"/>
<circle cx="933.6" cy="174.0" r="3.3" fill="#003ffe"/>
<circle cx="941.0" cy="164.4" r="3.3" fill="#003bfe"/>
<circle cx="952.8" cy="146.4" r="3.3" fill="#0059f3"/>
<circle cx="950.2" cy="150.9" r="3.3" fill="#0051f7"/>
<circle cx="932.5" cy="171.1" r="3.3" fill="#004bf9"/>
<circle cx="929.2" cy="177.0" r="3.3" fill="#003efe"/>
<circle cx="924.6" cy="185.6" r="3.3" fill="#0038fc"/>
<circle cx="913.8" cy="198.1" r="3.3" fill="#0035f9"/>
<circle cx="922.0" cy="185.8" r="3.3" fill="#0035f9"/>
<circle cx="923.6" cy="185.7" r="3.3" fill="#003afe"/>
<circle cx="934.5" cy="171.2" r="3.3" fill="#0049fa"/>
<circle cx="938.8" cy="164.2" r="3.3" fill="#003efe"/>
<circle cx="931.8" cy="173.4" r="3.3" fill="#003dff"/>
<circle cx="910.3" cy="200.8" r="3.3" fill="#0046fb"/>
<circle cx="952.9" cy="150.6" r="3.3" fill="#004ef8"/>
<circle cx="927.9" cy="178.6" r="3.3" fill="#0037fb"/>
<circle cx="946.7" cy="160.1" r="3.3" fill="#0041fd"/>
<circle cx="910.2" cy="201.6" r="3.3" fill="#0034f9"/>
<circle cx="908.0" cy="203.6" r="3.3" fill="#0033f7"/>
<circle cx="948.4" cy="142.8" r="3.3" fill="#0043fc"/>
<circle cx="962.4" cy="132.0" r="3.3" fill="#005af3"/>
<circle cx="933.0" cy="169.4" r="3.3" fill="#0044fc"/>
<circle cx="949.5" cy="148.4" r="3.3" fill="#0049fa"/>
<circle cx="960.8" cy="129.9" r="3.3" fill="#0070ea"/>
<circle cx="940.1" cy="169.6" r="3.3" fill="#004ef8"/>
<circle cx="931.6" cy="173.3" r="3.3" fill="#0057f4"/>
<circle cx="946.8" cy="151.4" r="3.3" fill="#0049fa"/>
<circle cx="953.2" cy="152.4" r="3.3" fill="#0042fd"/>
<circle cx="932.6" cy="176.1" r="3.3" fill="#0046fb"/>
<circle cx="963.0" cy="138.5" r="3.3" fill="#004af9"/>
<circle cx="944.5" cy="157.2" r="3.3" fill="#0042fd"/>
<circle cx="932.8" cy="170.8" r="3.3" fill="#0039fd"/>
<circle cx="924.9" cy="181.4" r="3.3" fill="#004bf9"/>
<circle cx="915.8" cy="192.4" r="3.3" fill="#0039fd"/>
<circle cx="957.2" cy="148.4" r="3.3" fill="#0053f6"/>
<circle cx="912.0" cy="199.5" r="3.3" fill="#0040fd"/>
<circle cx="943.6" cy="155.1" r="3.3" fill="#0049fa"/>
<circle cx="913.5" cy="195.1" r="3.3" fill="#003bfe"/>
<circle cx="931.0" cy="172.3" r="3.3" fill="#004bf9"/>
<circle cx="950.1" cy="150.1" r="3.3" fill="#003bfe"/>
<circle cx="945.3" cy="163.0" r="3.3" fill="#003afd"/>
<circle cx="910.6" cy="199.0" r="3.3" fill="#003dff"/>
<circle cx="919.0" cy="190.0" r="3.3" fill="#0032f7"/>
<circle cx="917.7" cy="191.1" r="3.3" fill="#003dff"/>
<circle cx="951.1" cy="153.3" r="3.3" fill="#0055f5"/>
<circle cx="933.8" cy="175.0" r="3.3" fill="#0053f6"/>
<circle cx="956.6" cy="129.6" r="3.3" fill="#004ff7"/>
<circle cx="962.0" cy="137.3" r="3.3" fill="#0057f4"/>
<circle cx="945.4" cy="155.9" r="3.3" fill="#0039fd"/>
<circle cx="932.6" cy="172.0" r="3.3" fill="#003dff"/>
<circle cx="953.0" cy="142.4" r="3.3" fill="#004df8"/>
<circle cx="924.8" cy="180.7" r="3.3" fill="#0038fb"/>
<circle cx="952.5" cy="132.6" r="3.3" fill="#004ff8"/>
<circle cx="922.1" cy="185.3" r="3.3" fill="#003bfe"/>
<circle cx="917.9" cy="188.9" r="3.3" fill="#003cff"/>
<circle cx="928.2" cy="176.7" r="3.3" fill="#0040fe"/>
<circle cx="957.4" cy="135.5" r="3.3" fill="#0055f5"/>
<circle cx="952.4" cy="138.9" r="3.3" fill="#0051f7"/>
<circle cx="926.8" cy="182.8" r="3.3" fill="#003bfe"/>
<circle cx="951.3" cy="148.5" r="3.3" fill="#0052f6"/>
<circle cx="939.8" cy="171.1" r="3.3" fill="#0049fa"/>
<circle cx="923.3" cy="185.5" r="3.3" fill="#0039fc"/>
<circle cx="919.4" cy="188.5" r="3.3" fill="#0038fc"/>
<circle cx="942.8" cy="157.3" r="3.3" fill="#003bfe"/>
<circle cx="934.8" cy="169.1" r="3.3" fill="#0044fc"/>
<circle cx="935.7" cy="171.2" r="3.3" fill="#003cff"/>
<circle cx="910.5" cy="199.7" r="3.3" fill="#0037fb"/>
<circle cx="950.3" cy="157.9" r="3.3" fill="#003cff"/>
<circle cx="943.7" cy="161.0" r="3.3" fill="#004ef8"/>
<circle cx="918.3" cy="190.9" r="3.3" fill="#0041fd"/>
<circle cx="956.1" cy="131.1" r="3.3" fill="#004cf9"/>
<circle cx="921.4" cy="188.0" r="3.3" fill="#0031f6"/>
<circle cx="950.7" cy="155.5" r="3.3" fill="#003afd"/>
<circle cx="941.6" cy="161.5" r="3.3" fill="#0033f7"/>
<circle cx="955.0" cy="150.9" r="3.3" fill="#0044fc"/>
<circle cx="923.3" cy="186.4" r="3.3" fill="#003dff"/>
<circle cx="915.1" cy="192.7" r="3.3" fill="#0038fc"/>
<circle cx="963.1" cy="133.1" r="3.3" fill="#005cf2"/>
<circle cx="918.1" cy="189.3" r="3.3" fill="#003bfe"/>
<circle cx="910.8" cy="199.9" r="3.3" fill="#0036fa"/>
<circle cx="935.0" cy="171.0" r="3.3" fill="#0044fc"/>
<circle cx="957.1" cy="138.1" r="3.3" fill="#0041fd"/>
<circle cx="910.2" cy="202.0" r="3.3" fill="#0034f9"/>
<circle cx="955.2" cy="134.9" r="3.3" fill="#004ff7"/>
<circle cx="957.4" cy="130.3" r="3.3" fill="#0054f5"/>
<circle cx="954.1" cy="138.2" r="3.3" fill="#004ef8"/>
<circle cx="930.1" cy="176.7" r="3.3" fill="#003bfe"/>
<circle cx="962.7" cy="139.7" r="3.3" fill="#0052f6"/>
<circle cx="916.2" cy="193.4" r="3.3" fill="#0039fd"/>
<circle cx="940.6" cy="160.1" r="3.3" fill="#0046fb"/>
<circle cx="927.4" cy="178.0" r="3.3" fill="#003cff"/>
<circle cx="933.2" cy="174.4" r="3.3" fill="#0051f7"/>
<circle cx="908.9" cy="201.1" r="3.3" fill="#003bff"/>
<circle cx="917.0" cy="192.0" r="3.3" fill="#0044fc"/>
<circle cx="916.1" cy="192.5" r="3.3" fill="#003bfe"/>
<circle cx="909.7" cy="201.8" r="3.3" fill="#002ef3"/>
<circle cx="936.1" cy="172.0" r="3.3" fill="#0051f6"/>
<circle cx="951.1" cy="140.1" r="3.3" fill="#0052f6"/>
<circle cx="959.7" cy="145.9" r="3.3" fill="#0041fd"/>
<circle cx="934.3" cy="170.6" r="3.3" fill="#0041fd"/>
<circle cx="949.4" cy="145.1" r="3.3" fill="#0049fa"/>
<circle cx="960.9" cy="134.1" r="3.3" fill="#0051f6"/>
<circle cx="914.3" cy="195.2" r="3.3" fill="#0046fb"/>
<circle cx="940.3" cy="165.5" r="3.3" fill="#0041fd"/>
<circle cx="925.1" cy="180.8" r="3.3" fill="#0039fd"/>
<circle cx="956.2" cy="151.4" r="3.3" fill="#0052f6"/>
<circle cx="928.6" cy="175.3" r="3.3" fill="#003ffe"/>
<circle cx="944.0" cy="164.2" r="3.3" fill="#0039fc"/>
<circle cx="961.1" cy="146.0" r="3.3" fill="#004ff8"/>
<circle cx="917.3" cy="191.9" r="3.3" fill="#0035f9"/>
<circle cx="917.9" cy="191.5" r="3.3" fill="#0042fc"/>
<circle cx="954.8" cy="139.6" r="3.3" fill="#004ef8"/>
<circle cx="944.4" cy="154.3" r="3.3" fill="#004cf8"/>
<circle cx="930.9" cy="171.8" r="3.3" fill="#0039fd"/>
<circle cx="923.2" cy="187.6" r="3.3" fill="#003dff"/>
<circle cx="957.4" cy="140.0" r="3.3" fill="#005af3"/>
<circle cx="923.9" cy="181.9" r="3.3" fill="#0032f6"/>
<circle cx="959.6" cy="128.2" r="3.3" fill="#004cf9"/>
<circle cx="908.3" cy="203.1" r="3.3" fill="#0031f6"/>
<circle cx="943.5" cy="159.1" r="3.3" fill="#003dff"/>
<circle cx="923.4" cy="181.7" r="3.3" fill="#0047fa"/>
<circle cx="958.9" cy="136.0" r="3.3" fill="#0048fa"/>
<circle cx="919.1" cy="191.2" r="3.3" fill="#003cff"/>
<circle cx="932.0" cy="173.4" r="3.3" fill="#0042fc"/>
<circle cx="924.6" cy="181.0" r="3.3" fill="#0045fb"/>
<circle cx="948.9" cy="159.0" r="3.3" fill="#0051f6"/>
<circle cx="952.8" cy="149.3" r="3.3" fill="#0048fa"/>
<circle cx="909.1" cy="202.4" r="3.3" fill="#0035f9"/>
<circle cx="946.0" cy="155.0" r="3.3" fill="#0048fa"/>
<circle cx="914.2" cy="197.3" r="3.3" fill="#0035fa"/>
<circle cx="948.0" cy="144.2" r="3.3" fill="#005ff1"/>
<circle cx="915.3" cy="192.3" r="3.3" fill="#003ffe"/>
<circle cx="951.6" cy="135.0" r="3.3" fill="#0055f5"/>
<circle cx="912.5" cy="197.9" r="3.3" fill="#003dff"/>
<circle cx="956.6" cy="134.9" r="3.3" fill="#006bec"/>
<circle cx="945.9" cy="157.0" r="3.3" fill="#004cf9"/>
<circle cx="952.4" cy="138.8" r="3.3" fill="#0049fa"/>
<circle cx="944.1" cy="158.4" r="3.3" fill="#0047fb"/>
<circle cx="963.7" cy="135.8" r="3.3" fill="#004df8"/>
<circle cx="950.8" cy="138.6" r="3.3" fill="#005cf2"/>
<circle cx="936.4" cy="166.9" r="3.3" fill="#0039fd"/>
<circle cx="918.7" cy="189.7" r="3.3" fill="#0038fc"/>
<circle cx="915.8" cy="193.4" r="3.3" fill="#003efe"/>
<circle cx="925.1" cy="181.8" r="3.3" fill="#003dff"/>
<circle cx="940.5" cy="169.1" r="3.3" fill="#0049fa"/>
<circle cx="909.1" cy="203.0" r="3.3" fill="#0037fb"/>
<circle cx="925.7" cy="181.3" r="3.3" fill="#0037fa"/>
<circle cx="920.8" cy="189.1" r="3.3" fill="#003cff"/>
<circle cx="916.2" cy="194.4" r="3.3" fill="#0043fc"/>
<circle cx="908.5" cy="202.0" r="3.3" fill="#0033f8"/>
<circle cx="921.3" cy="184.5" r="3.3" fill="#0034f8"/>
<circle cx="916.8" cy="193.4" r="3.3" fill="#0036fa"/>
<circle cx="922.4" cy="188.4" r="3.3" fill="#0038fc"/>
<circle cx="951.9" cy="149.1" r="3.3" fill="#003cff"/>
<circle cx="941.2" cy="165.0" r="3.3" fill="#004ff8"/>
<circle cx="941.1" cy="157.2" r="3.3" fill="#0042fd"/>
<circle cx="922.2" cy="183.2" r="3.3" fill="#0038fb"/>
<circle cx="924.0" cy="184.4" r="3.3" fill="#003ffe"/>
<circle cx="938.6" cy="166.3" r="3.3" fill="#004cf8"/>
<circle cx="937.7" cy="164.7" r="3.3" fill="#0042fd"/>
<circle cx="944.5" cy="157.0" r="3.3" fill="#003cff"/>
<circle cx="953.1" cy="134.3" r="3.3" fill="#0044fc"/>
<circle cx="933.3" cy="169.2" r="3.3" fill="#004bf9"/>
<circle cx="950.7" cy="157.5" r="3.3" fill="#004cf9"/>
<circle cx="931.6" cy="176.4" r="3.3" fill="#003bfe"/>
<circle cx="910.0" cy="202.5" r="3.3" fill="#0039fc"/>
<circle cx="916.2" cy="193.4" r="3.3" fill="#003bfe"/>
<circle cx="944.1" cy="162.4" r="3.3" fill="#0045fc"/>
<circle cx="956.5" cy="139.2" r="3.3" fill="#004ff8"/>
<circle cx="961.1" cy="130.6" r="3.3" fill="#0053f6"/>
<circle cx="932.7" cy="176.2" r="3.3" fill="#003dff"/>
<circle cx="961.4" cy="135.5" r="3.3" fill="#004cf8"/>
<circle cx="916.0" cy="195.5" r="3.3" fill="#003bfe"/>
<circle cx="951.7" cy="159.0" r="3.3" fill="#0041fd"/>
<circle cx="951.6" cy="151.2" r="3.3" fill="#0045fc"/>
<circle cx="956.4" cy="134.2" r="3.3" fill="#0042fd"/>
<circle cx="919.8" cy="186.6" r="3.3" fill="#0039fd"/>
<circle cx="958.7" cy="145.0" r="3.3" fill="#004df8"/>
<circle cx="921.5" cy="184.9" r="3.3" fill="#003bfe"/>
<circle cx="909.2" cy="202.4" r="3.3" fill="#002ef3"/>
<circle cx="925.2" cy="184.6" r="3.3" fill="#003afd"/>
<circle cx="923.1" cy="183.6" r="3.3" fill="#003bfe"/>
<circle cx="921.8" cy="187.5" r="3.3" fill="#003ffe"/>
<circle cx="957.4" cy="137.2" r="3.3" fill="#0041fd"/>
<circle cx="926.9" cy="183.5" r="3.3" fill="#004ff7"/>
<circle cx="956.5" cy="146.3" r="3.3" fill="#004cf8"/>
<circle cx="912.4" cy="199.5" r="3.3" fill="#003bfe"/>
<circle cx="952.6" cy="142.0" r="3.3" fill="#004cf8"/>
<circle cx="960.6" cy="144.3" r="3.3" fill="#0052f6"/>
<circle cx="912.0" cy="197.2" r="3.3" fill="#0043fc"/>
<circle cx="946.9" cy="153.7" r="3.3" fill="#0048fa"/>
<circle cx="928.8" cy="181.3" r="3.3" fill="#003efe"/>
<circle cx="937.7" cy="170.2" r="3.3" fill="#0051f7"/>
<circle cx="953.8" cy="135.8" r="3.3" fill="#005af3"/>
<circle cx="938.9" cy="169.8" r="3.3" fill="#0038fc"/>
<circle cx="958.6" cy="144.6" r="3.3" fill="#0051f7"/>
<circle cx="941.5" cy="167.6" r="3.3" fill="#0044fc"/>
<circle cx="909.2" cy="201.4" r="3.3" fill="#0038fc"/>
<circle cx="964.1" cy="137.9" r="3.3" fill="#0044fc"/>
<circle cx="928.7" cy="175.9" r="3.3" fill="#003afd"/>
<circle cx="937.8" cy="171.2" r="3.3" fill="#0039fd"/>
<circle cx="939.8" cy="165.1" r="3.3" fill="#0039fc"/>
<circle cx="941.8" cy="163.5" r="3.3" fill="#0044fc"/>
<circle cx="948.9" cy="154.4" r="3.3" fill="#003bfe"/>
<circle cx="928.4" cy="177.4" r="3.3" fill="#0042fd"/>
<circle cx="959.0" cy="132.9" r="3.3" fill="#005cf2"/>
<circle cx="954.9" cy="136.1" r="3.3" fill="#0047fb"/>
<circle cx="953.3" cy="149.6" r="3.3" fill="#0055f5"/>
<circle cx="909.8" cy="199.7" r="3.3" fill="#003dff"/>
<circle cx="913.0" cy="195.3" r="3.3" fill="#003afe"/>
<circle cx="956.2" cy="151.6" r="3.3" fill="#0037fb"/>
<circle cx="920.9" cy="185.1" r="3.3" fill="#0038fc"/>
<circle cx="930.8" cy="172.6" r="3.3" fill="#003ffe"/>
<circle cx="947.1" cy="148.2" r="3.3" fill="#0052f6"/>
<circle cx="957.4" cy="128.4" r="3.3" fill="#004df8"/>
<circle cx="918.5" cy="188.3" r="3.3" fill="#0039fd"/>
<circle cx="934.5" cy="171.2" r="3.3" fill="#0048fa"/>
<circle cx="951.5" cy="145.5" r="3.3" fill="#0049fa"/>
<circle cx="931.3" cy="173.3" r="3.3" fill="#003bff"/>
<circle cx="930.8" cy="174.3" r="3.3" fill="#003afd"/>
<circle cx="954.6" cy="135.0" r="3.3" fill="#0051f6"/>
<circle cx="914.2" cy="194.8" r="3.3" fill="#0038fc"/>
<circle cx="916.6" cy="191.1" r="3.3" fill="#003bfe"/>
<circle cx="914.5" cy="193.9" r="3.3" fill="#0038fc"/>
<circle cx="949.9" cy="159.6" r="3.3" fill="#004df8"/>
<circle cx="948.2" cy="152.3" r="3.3" fill="#004ff7"/>
<circle cx="913.6" cy="194.4" r="3.3" fill="#0035f9"/>
<circle cx="944.7" cy="162.4" r="3.3" fill="#0046fb"/>
<circle cx="940.9" cy="161.3" r="3.3" fill="#003ffe"/>
<circle cx="953.8" cy="132.7" r="3.3" fill="#004df8"/>
<circle cx="930.7" cy="176.8" r="3.3" fill="#003cff"/>
<circle cx="934.6" cy="166.8" r="3.3" fill="#004cf9"/>
<circle cx="941.5" cy="166.0" r="3.3" fill="#003bfe"/>
<circle cx="956.5" cy="143.2" r="3.3" fill="#005cf2"/>
<circle cx="961.8" cy="130.9" r="3.3" fill="#0060f1"/>
<circle cx="958.9" cy="132.0" r="3.3" fill="#0056f4"/>
<circle cx="939.3" cy="161.8" r="3.3" fill="#005cf2"/>
<circle cx="942.4" cy="164.2" r="3.3" fill="#0052f6"/>
<circle cx="933.9" cy="175.1" r="3.3" fill="#003ffe"/>
<circle cx="961.0" cy="131.9" r="3.3" fill="#004cf9"/>
<circle cx="920.6" cy="188.3" r="3.3" fill="#004ef8"/>
<circle cx="927.6" cy="179.6" r="3.3" fill="#0037fb"/>
<circle cx="939.5" cy="168.9" r="3.3" fill="#003dfe"/>
<circle cx="956.0" cy="133.7" r="3.3" fill="#0052f6"/>
<circle cx="951.6" cy="134.2" r="3.3" fill="#0049fa"/>
<circle cx="939.1" cy="165.3" r="3.3" fill="#0039fd"/>
<circle cx="937.6" cy="172.9" r="3.3" fill="#0039fd"/>
<circle cx="951.2" cy="135.3" r="3.3" fill="#0049fa"/>
<circle cx="916.3" cy="194.1" r="3.3" fill="#002ff4"/>
<circle cx="943.4" cy="167.7" r="3.3" fill="#004bf9"/>
<circle cx="947.7" cy="158.7" r="3.3" fill="#0046fb"/>
<circle cx="917.6" cy="189.8" r="3.3" fill="#003cff"/>
<circle cx="918.3" cy="189.3" r="3.3" fill="#003cff"/>
<circle cx="915.1" cy="196.7" r="3.3" fill="#0036fa"/>
<circle cx="948.0" cy="159.7" r="3.3" fill="#0055f5"/>
<circle cx="927.9" cy="177.0" r="3.3" fill="#0037fb"/>
<circle cx="933.5" cy="176.7" r="3.3" fill="#0043fc"/>
<circle cx="937.9" cy="168.7" r="3.3" fill="#004cf9"/>
<circle cx="955.5" cy="150.4" r="3.3" fill="#005cf2"/>
<circle cx="949.0" cy="162.3" r="3.3" fill="#0048fa"/>
<circle cx="912.5" cy="198.3" r="3.3" fill="#0034f8"/>
<circle cx="917.8" cy="189.3" r="3.3" fill="#003bfe"/>
<circle cx="948.9" cy="150.4" r="3.3" fill="#004bf9"/>
<circle cx="936.8" cy="173.2" r="3.3" fill="#0037fb"/>
<circle cx="928.3" cy="176.7" r="3.3" fill="#0046fb"/>
<circle cx="940.2" cy="157.8" r="3.3" fill="#0049fa"/>
<circle cx="911.8" cy="199.4" r="3.3" fill="#003ffe"/>
<circle cx="947.0" cy="146.7" r="3.3" fill="#003efe"/>
<circle cx="941.2" cy="158.0" r="3.3" fill="#0044fc"/>
<circle cx="929.6" cy="178.3" r="3.3" fill="#0037fb"/>
<circle cx="952.8" cy="136.0" r="3.3" fill="#0049fa"/>
<circle cx="951.6" cy="136.7" r="3.3" fill="#004af9"/>
<circle cx="961.0" cy="145.9" r="3.3" fill="#0048fa"/>
<circle cx="939.6" cy="170.3" r="3.3" fill="#004afa"/>
<circle cx="912.2" cy="198.3" r="3.3" fill="#0038fc"/>
<circle cx="942.6" cy="162.5" r="3.3" fill="#0046fb"/>
<circle cx="944.2" cy="151.3" r="3.3" fill="#004af9"/>
<circle cx="932.3" cy="177.3" r="3.3" fill="#003dff"/>
<circle cx="949.0" cy="155.0" r="3.3" fill="#0051f7"/>
<circle cx="910.7" cy="201.9" r="3.3" fill="#003bfe"/>
<circle cx="925.2" cy="185.7" r="3.3" fill="#003bff"/>
<circle cx="961.8" cy="132.8" r="3.3" fill="#0043fc"/>
<circle cx="957.1" cy="130.1" r="3.3" fill="#0057f4"/>
<circle cx="930.5" cy="175.1" r="3.3" fill="#003cff"/>
<circle cx="939.9" cy="163.5" r="3.3" fill="#0039fd"/>
<circle cx="943.7" cy="156.1" r="3.3" fill="#0037fb"/>
<circle cx="912.3" cy="197.3" r="3.3" fill="#0037fb"/>
<circle cx="952.5" cy="157.9" r="3.3" fill="#004bf9"/>
<circle cx="934.1" cy="172.8" r="3.3" fill="#004cf9"/>
<circle cx="933.2" cy="171.6" r="3.3" fill="#0040fd"/>
<circle cx="958.1" cy="132.2" r="3.3" fill="#004ff7"/>
<circle cx="944.2" cy="163.5" r="3.3" fill="#003cff"/>
<circle cx="907.7" cy="203.4" r="3.3" fill="#0038fb"/>
<circle cx="937.9" cy="169.5" r="3.3" fill="#004ef8"/>
<circle cx="909.2" cy="200.8" r="3.3" fill="#0038fb"/>
<circle cx="939.8" cy="164.5" r="3.3" fill="#0033f8"/>
<circle cx="942.4" cy="157.8" r="3.3" fill="#0057f4"/>
<circle cx="949.5" cy="155.1" r="3.3" fill="#004cf8"/>
<circle cx="920.9" cy="187.1" r="3.3" fill="#0047fb"/>
<circle cx="935.8" cy="169.4" r="3.3" fill="#0057f4"/>
<circle cx="955.5" cy="138.7" r="3.3" fill="#0053f6"/>
<circle cx="921.7" cy="188.6" r="3.3" fill="#004bf9"/>
<circle cx="926.9" cy="179.0" r="3.3" fill="#003bff"/>
<circle cx="935.3" cy="170.4" r="3.3" fill="#003dff"/>
<circle cx="957.6" cy="145.7" r="3.3" fill="#0047fb"/>
<circle cx="946.2" cy="160.1" r="3.3" fill="#0040fd"/>
<circle cx="940.0" cy="167.8" r="3.3" fill="#0044fc"/>
<circle cx="962.6" cy="137.8" r="3.3" fill="#0057f4"/>
<circle cx="918.6" cy="187.8" r="3.3" fill="#0039fd"/>
<circle cx="913.7" cy="197.5" r="3.3" fill="#0037fb"/>
<circle cx="935.0" cy="171.2" r="3.3" fill="#003afd"/>
<circle cx="937.1" cy="163.7" r="3.3" fill="#0041fd"/>
<circle cx="955.3" cy="139.4" r="3.3" fill="#0049fa"/>
<circle cx="935.0" cy="166.2" r="3.3" fill="#0054f6"/>
<circle cx="955.1" cy="141.4" r="3.3" fill="#0049fa"/>
<circle cx="943.8" cy="162.7" r="3.3" fill="#003afe"/>
<circle cx="911.6" cy="199.6" r="3.3" fill="#0038fc"/>
<circle cx="915.6" cy="192.8" r="3.3" fill="#0039fc"/>
<circle cx="913.0" cy="198.4" r="3.3" fill="#0039fc"/>
<circle cx="948.8" cy="143.6" r="3.3" fill="#0042fd"/>
<circle cx="935.3" cy="168.3" r="3.3" fill="#003cff"/>
<circle cx="932.5" cy="174.5" r="3.3" fill="#003cff"/>
<circle cx="964.6" cy="134.5" r="3.3" fill="#0053f6"/>
<circle cx="964.0" cy="139.6" r="3.3" fill="#0045fb"/>
<circle cx="954.0" cy="127.2" r="3.3" fill="#0058f4"/>
<circle cx="958.1" cy="135.9" r="3.3" fill="#0054f5"/>
<circle cx="944.6" cy="164.8" r="3.3" fill="#0042fc"/>
<circle cx="939.7" cy="169.4" r="3.3" fill="#0045fb"/>
<circle cx="946.3" cy="156.0" r="3.3" fill="#0053f6"/>
<circle cx="955.3" cy="134.6" r="3.3" fill="#004df8"/>
<circle cx="924.8" cy="183.5" r="3.3" fill="#0053f6"/>
<circle cx="948.4" cy="154.4" r="3.3" fill="#0039fc"/>
<circle cx="950.3" cy="144.0" r="3.3" fill="#0043fc"/>
<circle cx="933.0" cy="177.9" r="3.3" fill="#003dff"/>
<circle cx="938.7" cy="165.1" r="3.3" fill="#004df8"/>
<circle cx="942.5" cy="159.9" r="3.3" fill="#0057f4"/>
<circle cx="962.2" cy="129.3" r="3.3" fill="#005df2"/>
<circle cx="937.0" cy="169.6" r="3.3" fill="#0050f7"/>
<circle cx="952.0" cy="133.1" r="3.3" fill="#004ef8"/>
<circle cx="932.6" cy="178.2" r="3.3" fill="#0039fc"/>
<circle cx="939.9" cy="168.7" r="3.3" fill="#0036fa"/>
<circle cx="961.8" cy="134.3" r="3.3" fill="#004df8"/>
<circle cx="960.1" cy="141.4" r="3.3" fill="#004bf9"/>
<circle cx="958.3" cy="135.8" r="3.3" fill="#004df8"/>
<circle cx="922.9" cy="186.4" r="3.3" fill="#0048fa"/>
<circle cx="915.2" cy="192.6" r="3.3" fill="#0039fc"/>
<circle cx="962.2" cy="132.3" r="3.3" fill="#0060f1"/>
<circle cx="955.6" cy="130.8" r="3.3" fill="#005cf2"/>
<circle cx="941.5" cy="155.7" r="3.3" fill="#0043fc"/>
<circle cx="937.9" cy="163.0" r="3.3" fill="#0043fc"/>
<circle cx="950.3" cy="157.8" r="3.3" fill="#004af9"/>
<circle cx="947.9" cy="162.5" r="3.3" fill="#0046fb"/>
<circle cx="920.2" cy="190.8" r="3.3" fill="#003cff"/>
<circle cx="950.2" cy="141.1" r="3.3" fill="#0047fb"/>
<circle cx="962.3" cy="137.8" r="3.3" fill="#004af9"/>
<circle cx="913.3" cy="195.1" r="3.3" fill="#0037fb"/>
<circle cx="963.6" cy="130.6" r="3.3" fill="#0058f4"/>
<circle cx="952.7" cy="144.7" r="3.3" fill="#004cf9"/>
<circle cx="953.5" cy="133.7" r="3.3" fill="#0046fb"/>
<circle cx="908.8" cy="202.2" r="3.3" fill="#0034f8"/>
<circle cx="918.1" cy="193.4" r="3.3" fill="#003bfe"/>
<circle cx="923.2" cy="182.1" r="3.3" fill="#0042fd"/>
<circle cx="960.2" cy="135.0" r="3.3" fill="#0059f3"/>
<circle cx="952.9" cy="155.1" r="3.3" fill="#0052f6"/>
<circle cx="958.6" cy="135.8" r="3.3" fill="#0047fa"/>
<circle cx="952.7" cy="135.9" r="3.3" fill="#0053f6"/>
<circle cx="910.0" cy="201.9" r="3.3" fill="#0038fc"/>
<circle cx="962.9" cy="131.7" r="3.3" fill="#005af3"/>
<circle cx="963.7" cy="133.4" r="3.3" fill="#0060f0"/>
<circle cx="942.1" cy="167.3" r="3.3" fill="#0042fd"/>
<circle cx="923.3" cy="183.5" r="3.3" fill="#004bf9"/>
<circle cx="909.4" cy="202.2" r="3.3" fill="#003bfe"/>
<circle cx="921.6" cy="189.6" r="3.3" fill="#003bfe"/>
<circle cx="915.5" cy="195.1" r="3.3" fill="#0038fc"/>
<circle cx="929.9" cy="175.1" r="3.3" fill="#0038fb"/>
<circle cx="945.9" cy="157.9" r="3.3" fill="#004bf9"/>
<circle cx="932.7" cy="173.0" r="3.3" fill="#0040fe"/>
<circle cx="924.7" cy="182.8" r="3.3" fill="#0039fc"/>
<circle cx="936.3" cy="165.5" r="3.3" fill="#0044fc"/>
<circle cx="954.4" cy="132.2" r="3.3" fill="#003ffe"/>
<circle cx="934.7" cy="173.8" r="3.3" fill="#004bf9"/>
<circle cx="921.4" cy="187.9" r="3.3" fill="#003efe"/>
<circle cx="929.0" cy="178.9" r="3.3" fill="#003afd"/>
<circle cx="934.9" cy="167.6" r="3.3" fill="#0037fb"/>
<circle cx="944.0" cy="156.1" r="3.3" fill="#0055f5"/>
<circle cx="951.8" cy="139.5" r="3.3" fill="#0049fa"/>
<circle cx="932.5" cy="171.0" r="3.3" fill="#003bfe"/>
<circle cx="933.9" cy="169.0" r="3.3" fill="#0039fd"/>
<circle cx="917.5" cy="193.0" r="3.3" fill="#0032f6"/>
<circle cx="960.9" cy="143.4" r="3.3" fill="#005ef1"/>
<circle cx="918.4" cy="190.2" r="3.3" fill="#0035f9"/>
<circle cx="913.0" cy="196.8" r="3.3" fill="#0038fc"/>
<circle cx="949.2" cy="157.6" r="3.3" fill="#0046fb"/>
<circle cx="930.5" cy="178.7" r="3.3" fill="#0038fc"/>
<circle cx="958.7" cy="130.8" r="3.3" fill="#005ef2"/>
<circle cx="939.2" cy="171.3" r="3.3" fill="#003ffe"/>
<circle cx="932.5" cy="173.1" r="3.3" fill="#003afe"/>
<circle cx="951.7" cy="134.1" r="3.3" fill="#004bf9"/>
<circle cx="941.7" cy="166.5" r="3.3" fill="#004ef8"/>
<circle cx="925.4" cy="180.4" r="3.3" fill="#003cff"/>
<circle cx="944.8" cy="161.5" r="3.3" fill="#0054f5"/>
<circle cx="910.5" cy="198.8" r="3.3" fill="#003cff"/>
<circle cx="910.7" cy="201.2" r="3.3" fill="#0039fd"/>
<circle cx="933.5" cy="174.0" r="3.3" fill="#0043fc"/>
<circle cx="907.4" cy="203.2" r="3.3" fill="#0032f7"/>
<circle cx="956.7" cy="124.4" r="3.3" fill="#0038fc"/>
<circle cx="953.2" cy="127.9" r="3.3" fill="#0042fc"/>
<circle cx="954.3" cy="130.3" r="3.3" fill="#0033f7"/>
<circle cx="950.4" cy="134.5" r="3.3" fill="#0041fd"/>
<circle cx="954.5" cy="131.5" r="3.3" fill="#0035f9"/>
<circle cx="952.0" cy="128.9" r="3.3" fill="#0041fd"/>
<circle cx="954.8" cy="127.1" r="3.3" fill="#003cff"/>
<circle cx="952.5" cy="133.6" r="3.3" fill="#0042fd"/>
<circle cx="955.1" cy="126.4" r="3.3" fill="#004bf9"/>
<circle cx="953.0" cy="134.1" r="3.3" fill="#004ef8"/>
<circle cx="952.7" cy="137.1" r="3.3" fill="#0049fa"/>
<circle cx="951.3" cy="137.7" r="3.3" fill="#0045fc"/>
<circle cx="953.1" cy="127.3" r="3.3" fill="#0039fd"/>
<circle cx="952.3" cy="130.6" r="3.3" fill="#004bf9"/>
<circle cx="954.7" cy="124.9" r="3.3" fill="#003afe"/>
<circle cx="953.0" cy="128.8" r="3.3" fill="#0038fc"/>
<circle cx="952.6" cy="133.4" r="3.3" fill="#003bff"/>
<circle cx="954.5" cy="125.3" r="3.3" fill="#0049fa"/>
<circle cx="954.5" cy="131.1" r="3.3" fill="#003ffe"/>
<circle cx="954.8" cy="125.4" r="3.3" fill="#003ffe"/>
<circle cx="952.0" cy="131.2" r="3.3" fill="#004df8"/>
<circle cx="952.4" cy="132.0" r="3.3" fill="#004cf9"/>
<circle cx="955.2" cy="127.5" r="3.3" fill="#0032f6"/>
<circle cx="954.3" cy="125.2" r="3.3" fill="#0034f8"/>
<circle cx="952.3" cy="130.2" r="3.3" fill="#003bfe"/>
<circle cx="954.4" cy="131.0" r="3.3" fill="#0038fc"/>
<circle cx="954.0" cy="131.2" r="3.3" fill="#0047fb"/>
<circle cx="952.9" cy="133.8" r="3.3" fill="#0057f4"/>
<circle cx="953.7" cy="127.2" r="3.3" fill="#003ffe"/>
<circle cx="955.4" cy="127.7" r="3.3" fill="#0047fb"/>
<circle cx="952.2" cy="128.8" r="3.3" fill="#0038fc"/>
<circle cx="953.7" cy="124.4" r="3.3" fill="#004afa"/>
<circle cx="955.1" cy="130.1" r="3.3" fill="#003afe"/>
<circle cx="953.9" cy="128.7" r="3.3" fill="#0052f6"/>
<circle cx="956.4" cy="126.6" r="3.3" fill="#0048fa"/>
<circle cx="951.0" cy="135.9" r="3.3" fill="#0039fd"/>
<circle cx="952.3" cy="135.5" r="3.3" fill="#0047fb"/>
<circle cx="951.9" cy="128.8" r="3.3" fill="#0046fb"/>
<circle cx="952.6" cy="135.2" r="3.3" fill="#003dfe"/>
<circle cx="952.5" cy="126.2" r="3.3" fill="#003dff"/>
<circle cx="951.5" cy="134.5" r="3.3" fill="#0040fd"/>
<circle cx="953.1" cy="128.9" r="3.3" fill="#0044fc"/>
<circle cx="951.7" cy="127.7" r="3.3" fill="#0041fd"/>
<circle cx="955.4" cy="125.6" r="3.3" fill="#0036fa"/>
<circle cx="954.3" cy="132.4" r="3.3" fill="#0049fa"/>
<circle cx="952.8" cy="131.9" r="3.3" fill="#0039fd"/>
<circle cx="954.3" cy="123.8" r="3.3" fill="#004df8"/>
<circle cx="953.8" cy="123.5" r="3.3" fill="#003afe"/>
<circle cx="954.1" cy="123.3" r="3.3" fill="#0046fb"/>
<circle cx="955.9" cy="121.6" r="3.3" fill="#003afd"/>
<circle cx="952.4" cy="128.3" r="3.3" fill="#003dff"/>
<circle cx="954.7" cy="128.9" r="3.3" fill="#0049fa"/>
<circle cx="955.7" cy="132.2" r="3.3" fill="#0046fb"/>
<circle cx="955.9" cy="128.2" r="3.3" fill="#0048fa"/>
<circle cx="955.4" cy="128.1" r="3.3" fill="#0038fc"/>
<circle cx="952.9" cy="130.0" r="3.3" fill="#0039fd"/>
<circle cx="952.6" cy="132.3" r="3.3" fill="#0046fb"/>
<circle cx="951.7" cy="134.0" r="3.3" fill="#004ef8"/>
<circle cx="951.9" cy="128.2" r="3.3" fill="#0049fa"/>
<circle cx="953.8" cy="135.2" r="3.3" fill="#0039fd"/>
<circle cx="959.5" cy="151.4" r="3.3" fill="#002ff4"/>
<circle cx="941.5" cy="169.8" r="3.3" fill="#002ff5"/>
<circle cx="942.4" cy="170.7" r="3.3" fill="#002af0"/>
<circle cx="947.1" cy="165.5" r="3.3" fill="#002af0"/>
<circle cx="937.8" cy="173.7" r="3.3" fill="#002df3"/>
<circle cx="944.4" cy="167.3" r="3.3" fill="#002cf1"/>
<circle cx="938.9" cy="173.5" r="3.3" fill="#0027ee"/>
<circle cx="932.0" cy="180.0" r="3.3" fill="#0028ee"/>
<circle cx="943.4" cy="169.1" r="3.3" fill="#002ef3"/>
<circle cx="947.5" cy="165.8" r="3.3" fill="#002af0"/>
<circle cx="960.5" cy="148.8" r="3.3" fill="#003afe"/>
<circle cx="932.0" cy="180.6" r="3.3" fill="#002df3"/>
<circle cx="934.8" cy="177.6" r="3.3" fill="#002df3"/>
<circle cx="950.1" cy="160.9" r="3.3" fill="#002ff5"/>
<circle cx="957.7" cy="151.7" r="3.3" fill="#0036fa"/>
<circle cx="934.6" cy="179.0" r="3.3" fill="#0028ee"/>
<circle cx="954.1" cy="157.1" r="3.3" fill="#0032f6"/>
<circle cx="957.2" cy="153.4" r="3.3" fill="#002cf1"/>
<circle cx="943.5" cy="168.8" r="3.3" fill="#0033f8"/>
<circle cx="942.0" cy="171.4" r="3.3" fill="#002df2"/>
<circle cx="938.9" cy="172.7" r="3.3" fill="#0027ee"/>
<circle cx="941.2" cy="170.4" r="3.3" fill="#002ff4"/>
<circle cx="955.5" cy="157.6" r="3.3" fill="#0037fa"/>
<circle cx="958.6" cy="151.3" r="3.3" fill="#0030f5"/>
<circle cx="954.9" cy="157.7" r="3.3" fill="#0030f5"/>
<circle cx="951.5" cy="161.9" r="3.3" fill="#0035f9"/>
<circle cx="957.0" cy="152.2" r="3.3" fill="#002ff4"/>
<circle cx="946.1" cy="166.2" r="3.3" fill="#002ff4"/>
<circle cx="938.9" cy="172.8" r="3.3" fill="#002df2"/>
<circle cx="957.2" cy="153.0" r="3.3" fill="#0037fb"/>
<circle cx="944.8" cy="165.8" r="3.3" fill="#0032f6"/>
<circle cx="942.7" cy="168.3" r="3.3" fill="#0027ee"/>
<circle cx="939.9" cy="173.8" r="3.3" fill="#002cf2"/>
<circle cx="943.0" cy="170.0" r="3.3" fill="#002cf2"/>
<circle cx="961.3" cy="149.0" r="3.3" fill="#0031f6"/>
<circle cx="937.8" cy="175.1" r="3.3" fill="#0029ef"/>
<circle cx="953.2" cy="158.8" r="3.3" fill="#0034f9"/>
<circle cx="940.9" cy="171.2" r="3.3" fill="#0026ec"/>
<circle cx="931.9" cy="180.1" r="3.3" fill="#0025eb"/>
<circle cx="935.4" cy="176.0" r="3.3" fill="#002ff4"/>
<circle cx="953.8" cy="158.1" r="3.3" fill="#002ef3"/>
<circle cx="955.8" cy="153.6" r="3.3" fill="#0030f5"/>
<circle cx="953.4" cy="159.4" r="3.3" fill="#002ef3"/>
<circle cx="936.8" cy="176.5" r="3.3" fill="#0025ec"/>
<circle cx="944.3" cy="167.7" r="3.3" fill="#002df3"/>
<circle cx="949.4" cy="163.7" r="3.3" fill="#002bf1"/>
<circle cx="956.0" cy="154.4" r="3.3" fill="#002ff4"/>
<circle cx="962.2" cy="149.5" r="3.3" fill="#0029f0"/>
<circle cx="958.7" cy="151.9" r="3.3" fill="#0030f5"/>
<circle cx="953.1" cy="158.5" r="3.3" fill="#002ff4"/>
<circle cx="948.4" cy="144.2" r="3.3" fill="#0eb1cd"/>
<circle cx="950.0" cy="149.9" r="3.3" fill="#0093dc"/>
<circle cx="940.1" cy="162.2" r="3.3" fill="#01a2d6"/>
<circle cx="930.5" cy="175.9" r="3.3" fill="#0072e9"/>
<circle cx="932.0" cy="174.2" r="3.3" fill="#0090dd"/>
<circle cx="925.9" cy="181.4" r="3.3" fill="#006deb"/>
<circle cx="922.3" cy="183.6" r="3.3" fill="#006eeb"/>
<circle cx="926.7" cy="178.5" r="3.3" fill="#008cdf"/>
<circle cx="948.3" cy="147.5" r="3.3" fill="#02a3d5"/>
<circle cx="915.8" cy="192.8" r="3.3" fill="#0060f1"/>
<circle cx="923.6" cy="181.9" r="3.3" fill="#0098da"/>
<circle cx="948.2" cy="143.5" r="3.3" fill="#06a7d3"/>
<circle cx="937.9" cy="164.2" r="3.3" fill="#0083e2"/>
<circle cx="923.4" cy="184.2" r="3.3" fill="#0084e2"/>
<circle cx="943.2" cy="154.9" r="3.3" fill="#01a1d6"/>
<circle cx="941.4" cy="155.9" r="3.3" fill="#00a1d7"/>
<circle cx="926.2" cy="178.2" r="3.3" fill="#0083e2"/>
<circle cx="929.1" cy="175.0" r="3.3" fill="#006feb"/>
<circle cx="935.8" cy="166.8" r="3.3" fill="#008ddf"/>
<circle cx="919.6" cy="187.4" r="3.3" fill="#0058f4"/>
<circle cx="937.8" cy="167.8" r="3.3" fill="#008cdf"/>
<circle cx="918.2" cy="187.9" r="3.3" fill="#007ae6"/>
<circle cx="949.2" cy="151.7" r="3.3" fill="#009bd9"/>
<circle cx="940.8" cy="158.0" r="3.3" fill="#0089e0"/>
<circle cx="940.2" cy="157.7" r="3.3" fill="#0095db"/>
<circle cx="946.2" cy="152.2" r="3.3" fill="#009ad9"/>
<circle cx="938.7" cy="159.2" r="3.3" fill="#05a6d3"/>
<circle cx="941.8" cy="153.1" r="3.3" fill="#0094dc"/>
<circle cx="936.0" cy="170.5" r="3.3" fill="#008ae0"/>
<circle cx="942.2" cy="151.7" r="3.3" fill="#0eb2cc"/>
<circle cx="941.4" cy="155.6" r="3.3" fill="#009cd8"/>
<circle cx="926.9" cy="179.1" r="3.3" fill="#0072e9"/>
<circle cx="918.7" cy="188.0" r="3.3" fill="#0078e7"/>
<circle cx="942.6" cy="154.2" r="3.3" fill="#0098da"/>
<circle cx="949.1" cy="148.5" r="3.3" fill="#00a0d7"/>
<circle cx="918.9" cy="188.9" r="3.3" fill="#0074e9"/>
<circle cx="939.6" cy="160.3" r="3.3" fill="#009ed8"/>
<circle cx="922.5" cy="183.9" r="3.3" fill="#007ce5"/>
<circle cx="951.9" cy="146.4" r="3.3" fill="#009ed8"/>
<circle cx="946.3" cy="152.8" r="3.3" fill="#008ede"/>
<circle cx="924.1" cy="183.6" r="3.3" fill="#006eeb"/>
<circle cx="936.4" cy="162.2" r="3.3" fill="#008bdf"/>
<circle cx="927.9" cy="178.2" r="3.3" fill="#0098da"/>
<circle cx="931.4" cy="175.6" r="3.3" fill="#0075e8"/>
<circle cx="932.2" cy="171.6" r="3.3" fill="#0099da"/>
<circle cx="934.2" cy="166.2" r="3.3" fill="#008cdf"/>
<circle cx="918.3" cy="188.9" r="3.3" fill="#0081e3"/>
<circle cx="940.8" cy="156.5" r="3.3" fill="#0092dd"/>
<circle cx="939.1" cy="165.3" r="3.3" fill="#008ede"/>
<circle cx="929.9" cy="177.7" r="3.3" fill="#0081e3"/>
<circle cx="937.0" cy="161.3" r="3.3" fill="#009ad9"/>
<circle cx="949.3" cy="147.4" r="3.3" fill="#0aadcf"/>
<circle cx="932.5" cy="170.0" r="3.3" fill="#0075e8"/>
<circle cx="930.2" cy="172.8" r="3.3" fill="#008bdf"/>
<circle cx="950.0" cy="143.4" r="3.3" fill="#07a8d2"/>
<circle cx="944.1" cy="155.9" r="3.3" fill="#01a1d7"/>
<circle cx="933.1" cy="172.7" r="3.3" fill="#008fde"/>
<circle cx="931.9" cy="170.9" r="3.3" fill="#007fe4"/>
<circle cx="954.1" cy="144.5" r="3.3" fill="#00a0d7"/>
<circle cx="920.9" cy="186.1" r="3.3" fill="#0068ed"/>
<circle cx="940.5" cy="158.0" r="3.3" fill="#008ede"/>
<circle cx="935.7" cy="168.7" r="3.3" fill="#007de5"/>
<circle cx="946.5" cy="154.5" r="3.3" fill="#03a4d5"/>
<circle cx="918.9" cy="187.0" r="3.3" fill="#0068ee"/>
<circle cx="923.6" cy="184.0" r="3.3" fill="#0086e1"/>
<circle cx="931.3" cy="171.4" r="3.3" fill="#0086e1"/>
<circle cx="918.4" cy="188.9" r="3.3" fill="#0079e6"/>
<circle cx="931.7" cy="172.7" r="3.3" fill="#007be6"/>
<circle cx="948.3" cy="146.0" r="3.3" fill="#06a8d2"/>
<circle cx="943.2" cy="157.3" r="3.3" fill="#02a2d6"/>
<circle cx="918.2" cy="189.6" r="3.3" fill="#0066ee"/>
<circle cx="915.8" cy="191.9" r="3.3" fill="#0065ef"/>
<circle cx="928.2" cy="176.9" r="3.3" fill="#0088e0"/>
<circle cx="929.8" cy="175.2" r="3.3" fill="#0089e0"/>
<circle cx="927.2" cy="179.9" r="3.3" fill="#0093dc"/>
<circle cx="948.0" cy="147.6" r="3.3" fill="#0db1cd"/>
<circle cx="942.4" cy="159.8" r="3.3" fill="#03a4d4"/>
<circle cx="929.8" cy="176.9" r="3.3" fill="#007ae6"/>
<circle cx="927.9" cy="175.9" r="3.3" fill="#0084e2"/>
<circle cx="937.7" cy="166.0" r="3.3" fill="#0080e4"/>
<circle cx="947.5" cy="150.6" r="3.3" fill="#0098da"/>
<circle cx="920.2" cy="187.2" r="3.3" fill="#0093dc"/>
<circle cx="945.0" cy="151.2" r="3.3" fill="#0097db"/>
<circle cx="940.6" cy="161.8" r="3.3" fill="#06a7d3"/>
<circle cx="942.4" cy="156.6" r="3.3" fill="#0096db"/>
<circle cx="940.6" cy="163.7" r="3.3" fill="#0097db"/>
<circle cx="941.5" cy="157.5" r="3.3" fill="#009bd9"/>
<circle cx="941.3" cy="154.6" r="3.3" fill="#008ae0"/>
<circle cx="926.9" cy="180.6" r="3.3" fill="#006feb"/>
<circle cx="943.9" cy="148.7" r="3.3" fill="#009ad9"/>
<circle cx="915.8" cy="191.4" r="3.3" fill="#006bec"/>
<circle cx="942.7" cy="154.7" r="3.3" fill="#03a4d5"/>
<circle cx="945.0" cy="149.4" r="3.3" fill="#05a6d3"/>
<circle cx="944.6" cy="150.3" r="3.3" fill="#0baecf"/>
<circle cx="945.9" cy="150.4" r="3.3" fill="#08a9d1"/>
<circle cx="936.6" cy="167.9" r="3.3" fill="#0094dc"/>
<circle cx="929.8" cy="173.2" r="3.3" fill="#0070ea"/>
<circle cx="947.4" cy="150.1" r="3.3" fill="#00a1d7"/>
<circle cx="917.3" cy="191.5" r="3.3" fill="#0059f4"/>
<circle cx="948.0" cy="145.7" r="3.3" fill="#009fd8"/>
<circle cx="941.4" cy="156.2" r="3.3" fill="#07a8d2"/>
<circle cx="930.2" cy="173.9" r="3.3" fill="#0081e4"/>
<circle cx="947.2" cy="149.3" r="3.3" fill="#02a2d6"/>
<circle cx="948.7" cy="144.5" r="3.3" fill="#04a6d4"/>
<circle cx="930.7" cy="172.5" r="3.3" fill="#009ada"/>
<circle cx="917.2" cy="189.1" r="3.3" fill="#0077e7"/>
<circle cx="941.4" cy="162.8" r="3.3" fill="#0086e1"/>
<circle cx="942.5" cy="158.9" r="3.3" fill="#06a7d3"/>
<circle cx="926.5" cy="181.6" r="3.3" fill="#007be6"/>
<circle cx="935.1" cy="165.3" r="3.3" fill="#06a7d3"/>
<circle cx="940.2" cy="160.0" r="3.3" fill="#009bd9"/>
<circle cx="947.4" cy="146.4" r="3.3" fill="#05a7d3"/>
<circle cx="936.0" cy="164.6" r="3.3" fill="#0093dc"/>
<circle cx="927.2" cy="176.6" r="3.3" fill="#008ddf"/>
<circle cx="934.3" cy="166.8" r="3.3" fill="#0093dc"/>
<circle cx="923.3" cy="185.0" r="3.3" fill="#007be6"/>
<circle cx="942.0" cy="153.8" r="3.3" fill="#009bd9"/>
<circle cx="919.5" cy="188.3" r="3.3" fill="#008ede"/>
<circle cx="938.9" cy="164.9" r="3.3" fill="#01a1d6"/>
<circle cx="923.4" cy="184.4" r="3.3" fill="#0066ee"/>
<circle cx="922.3" cy="184.6" r="3.3" fill="#006dec"/>
<circle cx="929.5" cy="176.1" r="3.3" fill="#0060f1"/>
<circle cx="929.2" cy="178.5" r="3.3" fill="#0083e2"/>
<circle cx="946.5" cy="152.2" r="3.3" fill="#00a0d7"/>
<circle cx="926.5" cy="181.8" r="3.3" fill="#0084e2"/>
<circle cx="950.5" cy="147.7" r="3.3" fill="#008ae0"/>
<circle cx="932.3" cy="174.2" r="3.3" fill="#00a0d7"/>
<circle cx="932.1" cy="172.4" r="3.3" fill="#03a4d5"/>
<circle cx="939.9" cy="162.0" r="3.3" fill="#008ede"/>
<circle cx="916.8" cy="190.7" r="3.3" fill="#0063ef"/>
<circle cx="964.7" cy="140.0" r="3.3" fill="#0fb2cc"/>
<circle cx="964.8" cy="140.2" r="3.3" fill="#009ed8"/>
<circle cx="965.5" cy="142.0" r="3.3" fill="#008ede"/>
<circle cx="965.2" cy="139.5" r="3.3" fill="#008fde"/>
<circle cx="965.9" cy="138.3" r="3.3" fill="#02a2d6"/>
<circle cx="965.3" cy="139.8" r="3.3" fill="#07a9d2"/>
<circle cx="963.7" cy="142.0" r="3.3" fill="#0eb2cc"/>
<circle cx="966.4" cy="139.3" r="3.3" fill="#009bd9"/>
<circle cx="963.6" cy="140.1" r="3.3" fill="#008fde"/>
<circle cx="964.5" cy="140.0" r="3.3" fill="#04a5d4"/>
<circle cx="965.8" cy="142.1" r="3.3" fill="#0badcf"/>
<circle cx="963.3" cy="143.1" r="3.3" fill="#0098da"/>
<circle cx="964.1" cy="141.3" r="3.3" fill="#0eb1cd"/>
<circle cx="965.3" cy="143.0" r="3.3" fill="#0fb3cc"/>
<circle cx="934.3" cy="174.1" r="3.3" fill="#f51600"/>
<circle cx="955.5" cy="147.4" r="3.3" fill="#ff6300"/>
<circle cx="957.9" cy="141.5" r="3.3" fill="#ff7d00"/>
<circle cx="954.5" cy="142.1" r="3.3" fill="#ff6400"/>
<circle cx="955.9" cy="140.5" r="3.3" fill="#ff7a00"/>
<circle cx="957.1" cy="144.8" r="3.3" fill="#ff5b00"/>
<circle cx="947.9" cy="152.6" r="3.3" fill="#ff5400"/>
<circle cx="953.4" cy="146.0" r="3.3" fill="#ff6b00"/>
<circle cx="956.1" cy="144.6" r="3.3" fill="#ff6100"/>
<circle cx="951.8" cy="145.6" r="3.3" fill="#ff6200"/>
<circle cx="956.1" cy="146.2" r="3.3" fill="#ff5800"/>
<circle cx="959.1" cy="138.6" r="3.3" fill="#ff8000"/>
<circle cx="946.3" cy="156.6" r="3.3" fill="#ff5500"/>
<circle cx="944.9" cy="160.6" r="3.3" fill="#ff4200"/>
<circle cx="956.9" cy="141.3" r="3.3" fill="#ff5600"/>
<circle cx="958.1" cy="140.1" r="3.3" fill="#ff5e00"/>
<circle cx="947.2" cy="152.7" r="3.3" fill="#ff4500"/>
<circle cx="955.9" cy="141.2" r="3.3" fill="#ff6b00"/>
<circle cx="945.0" cy="157.4" r="3.3" fill="#ff4600"/>
<circle cx="957.2" cy="137.4" r="3.3" fill="#ff7f00"/>
<circle cx="945.4" cy="157.0" r="3.3" fill="#ff4e00"/>
<circle cx="959.7" cy="137.0" r="3.3" fill="#ff7700"/>
<circle cx="952.6" cy="145.6" r="3.3" fill="#ff6200"/>
<circle cx="951.5" cy="151.5" r="3.3" fill="#ff4e00"/>
<circle cx="960.1" cy="135.1" r="3.3" fill="#ff8f00"/>
<circle cx="942.9" cy="161.1" r="3.3" fill="#ff3400"/>
<circle cx="960.8" cy="139.6" r="3.3" fill="#ff8000"/>
<circle cx="947.1" cy="154.8" r="3.3" fill="#ff4700"/>
<circle cx="956.9" cy="137.9" r="3.3" fill="#ff6c00"/>
<circle cx="945.1" cy="158.8" r="3.3" fill="#ff4100"/>
<circle cx="958.9" cy="140.5" r="3.3" fill="#ff7900"/>
<circle cx="956.8" cy="140.3" r="3.3" fill="#ff6a00"/>
<circle cx="958.7" cy="142.8" r="3.3" fill="#ff9500"/>
<circle cx="944.4" cy="161.6" r="3.3" fill="#ff4f00"/>
<circle cx="958.9" cy="142.2" r="3.3" fill="#ff5300"/>
<circle cx="954.2" cy="148.8" r="3.3" fill="#ff4d00"/>
<circle cx="958.8" cy="142.9" r="3.3" fill="#ff7200"/>
<circle cx="959.5" cy="136.6" r="3.3" fill="#ff7700"/>
<circle cx="961.6" cy="135.7" r="3.3" fill="#ff8c00"/>
<circle cx="949.1" cy="152.2" r="3.3" fill="#ff3800"/>
<circle cx="947.5" cy="156.6" r="3.3" fill="#ff4800"/>
<circle cx="954.5" cy="143.7" r="3.3" fill="#ff4e00"/>
<circle cx="958.3" cy="141.7" r="3.3" fill="#ff8400"/>
<circle cx="962.3" cy="137.1" r="3.3" fill="#ffa200"/>
<circle cx="947.4" cy="158.6" r="3.3" fill="#ff4800"/>
<circle cx="946.6" cy="157.7" r="3.3" fill="#ff5b00"/>
<circle cx="952.5" cy="150.8" r="3.3" fill="#ff5300"/>
<circle cx="950.0" cy="150.8" r="3.3" fill="#ff3c00"/>
<circle cx="956.3" cy="144.3" r="3.3" fill="#ff7c00"/>
<circle cx="949.6" cy="150.6" r="3.3" fill="#ff4900"/>
<circle cx="953.3" cy="150.2" r="3.3" fill="#ff5800"/>
<circle cx="961.6" cy="136.9" r="3.3" fill="#ff7d00"/>
<circle cx="950.1" cy="151.3" r="3.3" fill="#ff5100"/>
<circle cx="948.2" cy="156.6" r="3.3" fill="#ff4700"/>
<circle cx="951.2" cy="149.1" r="3.3" fill="#ff6000"/>
<circle cx="951.1" cy="152.7" r="3.3" fill="#ff6000"/>
<circle cx="947.8" cy="151.6" r="3.3" fill="#ff4b00"/>
<circle cx="948.7" cy="154.5" r="3.3" fill="#ff2c00"/>
<circle cx="949.7" cy="150.8" r="3.3" fill="#ff6600"/>
<circle cx="956.2" cy="146.3" r="3.3" fill="#ff5f00"/>
<circle cx="957.5" cy="137.7" r="3.3" fill="#ff5c00"/>
<circle cx="948.7" cy="153.2" r="3.3" fill="#ff6300"/>
<circle cx="948.9" cy="154.4" r="3.3" fill="#ff2d00"/>
<circle cx="943.6" cy="160.8" r="3.3" fill="#ff5e00"/>
<circle cx="951.5" cy="149.8" r="3.3" fill="#ff5500"/>
<circle cx="952.5" cy="150.9" r="3.3" fill="#ff3000"/>
<circle cx="950.7" cy="153.6" r="3.3" fill="#ff3f00"/>
<circle cx="948.1" cy="155.5" r="3.3" fill="#ff4a00"/>
<circle cx="960.3" cy="136.4" r="3.3" fill="#ff9200"/>
<circle cx="954.4" cy="148.4" r="3.3" fill="#ff7b00"/>
<circle cx="945.2" cy="156.8" r="3.3" fill="#ff3c00"/>
<circle cx="948.5" cy="155.9" r="3.3" fill="#ff4200"/>
<circle cx="949.3" cy="151.9" r="3.3" fill="#ff5400"/>
<circle cx="957.0" cy="139.7" r="3.3" fill="#ff6a00"/>
<circle cx="955.0" cy="143.6" r="3.3" fill="#ff5000"/>
<circle cx="945.3" cy="159.3" r="3.3" fill="#ff4500"/>
<circle cx="947.4" cy="156.9" r="3.3" fill="#ff3a00"/>
<circle cx="951.7" cy="148.1" r="3.3" fill="#ff7500"/>
<circle cx="952.2" cy="148.3" r="3.3" fill="#ff5000"/>
<circle cx="950.6" cy="150.4" r="3.3" fill="#ff3d00"/>
<circle cx="943.8" cy="159.4" r="3.3" fill="#ff4100"/>
<circle cx="948.8" cy="155.0" r="3.3" fill="#ff3b00"/>
<circle cx="947.1" cy="152.9" r="3.3" fill="#ff3c00"/>
<circle cx="946.8" cy="156.1" r="3.3" fill="#ff4800"/>
<circle cx="952.6" cy="149.4" r="3.3" fill="#ff4e00"/>
<circle cx="956.3" cy="143.4" r="3.3" fill="#ff8900"/>
<circle cx="960.2" cy="98.9" r="3.3" fill="#f21200"/>
<circle cx="962.0" cy="93.0" r="3.3" fill="#f21200"/>
<circle cx="975.5" cy="95.2" r="3.3" fill="#fc1f00"/>
<circle cx="969.5" cy="97.2" r="3.3" fill="#fc2000"/>
<circle cx="971.5" cy="92.8" r="3.3" fill="#f61600"/>
<circle cx="967.0" cy="93.1" r="3.3" fill="#f71800"/>
<circle cx="969.3" cy="96.3" r="3.3" fill="#fc1f00"/>
<circle cx="967.6" cy="96.9" r="3.3" fill="#f81a00"/>
<circle cx="971.6" cy="93.8" r="3.3" fill="#fd2000"/>
<circle cx="974.1" cy="95.3" r="3.3" fill="#fa1d00"/>
<circle cx="972.3" cy="95.0" r="3.3" fill="#fe2200"/>
<circle cx="971.3" cy="93.9" r="3.3" fill="#f91a00"/>
<circle cx="970.7" cy="94.2" r="3.3" fill="#f81900"/>
<circle cx="970.7" cy="92.3" r="3.3" fill="#f81900"/>
<circle cx="970.2" cy="99.7" r="3.3" fill="#f91a00"/>
<circle cx="967.0" cy="95.1" r="3.3" fill="#fa1c00"/>
<circle cx="971.6" cy="96.3" r="3.3" fill="#ff2d00"/>
<circle cx="968.9" cy="94.6" r="3.3" fill="#f81900"/>
<circle cx="972.4" cy="93.6" r="3.3" fill="#fc1f00"/>
<circle cx="975.1" cy="91.4" r="3.3" fill="#fe2200"/>
<circle cx="970.7" cy="94.1" r="3.3" fill="#f81a00"/>
<circle cx="972.4" cy="94.7" r="3.3" fill="#f71800"/>
<circle cx="972.6" cy="94.9" r="3.3" fill="#f51600"/>
<circle cx="973.6" cy="96.9" r="3.3" fill="#fb1d00"/>
<circle cx="971.5" cy="93.6" r="3.3" fill="#fd2100"/>
<circle cx="970.7" cy="89.7" r="3.3" fill="#fa1d00"/>
<circle cx="967.9" cy="99.2" r="3.3" fill="#f81a00"/>
<circle cx="966.0" cy="93.7" r="3.3" fill="#f81a00"/>
<circle cx="970.9" cy="97.6" r="3.3" fill="#f91a00"/>
<circle cx="966.6" cy="98.5" r="3.3" fill="#f71800"/>
<circle cx="973.1" cy="92.4" r="3.3" fill="#f71800"/>
<circle cx="971.7" cy="93.6" r="3.3" fill="#ff2400"/>
<circle cx="969.4" cy="96.9" r="3.3" fill="#f71900"/>
<circle cx="970.0" cy="97.0" r="3.3" fill="#fb1e00"/>
<circle cx="969.0" cy="94.0" r="3.3" fill="#fc1f00"/>
<circle cx="970.7" cy="91.9" r="3.3" fill="#fe2100"/>
<circle cx="974.2" cy="92.9" r="3.3" fill="#fa1c00"/>
<circle cx="972.4" cy="99.2" r="3.3" fill="#f51600"/>
<circle cx="965.8" cy="96.0" r="3.3" fill="#fd2000"/>
<circle cx="972.9" cy="95.4" r="3.3" fill="#f91b00"/>
<circle cx="972.2" cy="96.7" r="3.3" fill="#fe2200"/>
<circle cx="972.4" cy="99.4" r="3.3" fill="#fb1e00"/>
<circle cx="971.1" cy="94.7" r="3.3" fill="#f61800"/>
<circle cx="970.3" cy="95.7" r="3.3" fill="#fb1e00"/>
<circle cx="970.8" cy="89.9" r="3.3" fill="#fa1d00"/>
<circle cx="967.2" cy="94.2" r="3.3" fill="#fb1e00"/>
<circle cx="971.9" cy="93.7" r="3.3" fill="#fa1c00"/>
<circle cx="970.6" cy="98.9" r="3.3" fill="#fc1f00"/>
<circle cx="967.2" cy="95.7" r="3.3" fill="#fb1d00"/>
<circle cx="967.7" cy="95.8" r="3.3" fill="#f51600"/>
<circle cx="968.6" cy="91.2" r="3.3" fill="#f71800"/>
<circle cx="970.7" cy="95.6" r="3.3" fill="#fd2100"/>
<circle cx="972.0" cy="97.8" r="3.3" fill="#fd2100"/>
<circle cx="971.3" cy="101.4" r="3.3" fill="#f51600"/>
<circle cx="972.9" cy="100.4" r="3.3" fill="#fa1d00"/>
<circle cx="973.6" cy="96.7" r="3.3" fill="#fc1f00"/>
<circle cx="972.9" cy="95.5" r="3.3" fill="#f61700"/>
<circle cx="970.5" cy="89.9" r="3.3" fill="#fb1e00"/>
<circle cx="973.6" cy="97.1" r="3.3" fill="#fa1d00"/>
<circle cx="972.1" cy="90.1" r="3.3" fill="#fa1c00"/>
<circle cx="974.5" cy="95.7" r="3.3" fill="#fc1e00"/>
<circle cx="970.0" cy="94.8" r="3.3" fill="#fb1d00"/>
<circle cx="970.4" cy="97.9" r="3.3" fill="#f81900"/>
<circle cx="972.5" cy="95.0" r="3.3" fill="#ff2800"/>
<circle cx="970.0" cy="95.8" r="3.3" fill="#fb1d00"/>
<circle cx="973.1" cy="91.4" r="3.3" fill="#f31300"/>
<circle cx="975.1" cy="93.4" r="3.3" fill="#fb1e00"/>
<circle cx="970.3" cy="91.8" r="3.3" fill="#fe2100"/>
<circle cx="973.9" cy="96.4" r="3.3" fill="#fb1e00"/>
<circle cx="970.0" cy="94.0" r="3.3" fill="#f51600"/>
<circle cx="972.4" cy="100.8" r="3.3" fill="#f91b00"/>
<circle cx="975.1" cy="92.5" r="3.3" fill="#fa1c00"/>
<circle cx="971.6" cy="95.4" r="3.3" fill="#f61700"/>
<circle cx="970.7" cy="96.3" r="3.3" fill="#fc1f00"/>
<circle cx="971.4" cy="95.9" r="3.3" fill="#ff3000"/>
<circle cx="966.3" cy="94.9" r="3.3" fill="#fa1c00"/>
<circle cx="969.4" cy="94.5" r="3.3" fill="#fe2200"/>
<circle cx="973.4" cy="94.6" r="3.3" fill="#f81a00"/>
<circle cx="973.1" cy="93.0" r="3.3" fill="#fb1d00"/>
<circle cx="969.7" cy="99.8" r="3.3" fill="#f71800"/>
<circle cx="972.8" cy="94.2" r="3.3" fill="#fd2100"/>
<circle cx="970.2" cy="95.6" r="3.3" fill="#fb1e00"/>
<circle cx="972.5" cy="92.1" r="3.3" fill="#f61600"/>
<circle cx="970.6" cy="96.1" r="3.3" fill="#f81a00"/>
<circle cx="969.2" cy="98.6" r="3.3" fill="#f41500"/>
<circle cx="972.2" cy="92.1" r="3.3" fill="#f41500"/>
<circle cx="970.5" cy="99.2" r="3.3" fill="#fc2000"/>
<circle cx="970.3" cy="93.6" r="3.3" fill="#f71800"/>
<circle cx="971.0" cy="92.6" r="3.3" fill="#fc1f00"/>
<circle cx="969.2" cy="92.4" r="3.3" fill="#fa1c00"/>
<circle cx="971.5" cy="93.4" r="3.3" fill="#f71800"/>
<circle cx="974.7" cy="95.3" r="3.3" fill="#fb1e00"/>
<circle cx="970.9" cy="89.9" r="3.3" fill="#f91c00"/>
<circle cx="972.5" cy="98.8" r="3.3" fill="#f81900"/>
<circle cx="968.9" cy="99.4" r="3.3" fill="#f81a00"/>
<circle cx="974.3" cy="94.2" r="3.3" fill="#fc1f00"/>
<circle cx="971.3" cy="94.0" r="3.3" fill="#fc1f00"/>
<circle cx="968.9" cy="94.9" r="3.3" fill="#f41500"/>
<circle cx="970.4" cy="91.3" r="3.3" fill="#ff2200"/>
<circle cx="973.8" cy="98.4" r="3.3" fill="#fd2000"/>
<circle cx="968.7" cy="98.0" r="3.3" fill="#fe2200"/>
<circle cx="971.9" cy="96.9" r="3.3" fill="#fa1c00"/>
<circle cx="974.5" cy="89.9" r="3.3" fill="#f81a00"/>
<circle cx="969.1" cy="99.5" r="3.3" fill="#fc1f00"/>
<circle cx="974.1" cy="94.1" r="3.3" fill="#f61800"/>
<circle cx="969.7" cy="99.0" r="3.3" fill="#ff2200"/>
<circle cx="969.5" cy="98.7" r="3.3" fill="#f61700"/>
<circle cx="968.7" cy="94.4" r="3.3" fill="#fa1c00"/>
<circle cx="966.3" cy="94.3" r="3.3" fill="#fa1c00"/>
<circle cx="971.0" cy="93.6" r="3.3" fill="#fa1c00"/>
<circle cx="967.6" cy="92.5" r="3.3" fill="#f71800"/>
<circle cx="972.8" cy="98.8" r="3.3" fill="#fd2100"/>
<circle cx="970.3" cy="90.4" r="3.3" fill="#f91b00"/>
<circle cx="969.5" cy="91.8" r="3.3" fill="#fd2000"/>
<circle cx="972.3" cy="93.4" r="3.3" fill="#fd2000"/>
<circle cx="972.8" cy="96.7" r="3.3" fill="#f91b00"/>
<circle cx="971.8" cy="92.5" r="3.3" fill="#f31300"/>
<circle cx="972.7" cy="92.6" r="3.3" fill="#ff2300"/>
<circle cx="968.9" cy="92.0" r="3.3" fill="#fc1e00"/>
<circle cx="967.9" cy="93.8" r="3.3" fill="#f31300"/>
<circle cx="968.9" cy="98.8" r="3.3" fill="#f81a00"/>
<circle cx="968.7" cy="92.6" r="3.3" fill="#f81a00"/>
<circle cx="970.3" cy="89.4" r="3.3" fill="#f41400"/>
<circle cx="972.7" cy="98.0" r="3.3" fill="#fa1d00"/>
<circle cx="969.5" cy="98.5" r="3.3" fill="#fd2100"/>
<circle cx="969.9" cy="98.8" r="3.3" fill="#fe2200"/>
<circle cx="971.0" cy="93.1" r="3.3" fill="#ff2700"/>
<circle cx="973.2" cy="100.2" r="3.3" fill="#f61700"/>
<circle cx="969.0" cy="94.0" r="3.3" fill="#ff2c00"/>
<circle cx="968.8" cy="94.8" r="3.3" fill="#f91b00"/>
<circle cx="970.5" cy="95.6" r="3.3" fill="#fe2200"/>
<circle cx="968.3" cy="92.8" r="3.3" fill="#ff2300"/>
<circle cx="985.3" cy="94.4" r="3.3" fill="#ff4000"/>
<circle cx="983.7" cy="97.5" r="3.3" fill="#ff4500"/>
<circle cx="984.3" cy="96.1" r="3.3" fill="#ff4600"/>
<circle cx="985.9" cy="96.3" r="3.3" fill="#ff2500"/>
<circle cx="984.4" cy="100.8" r="3.3" fill="#ff4300"/>
<circle cx="982.8" cy="101.9" r="3.3" fill="#ff2a00"/>
<circle cx="983.6" cy="98.5" r="3.3" fill="#ff4c00"/>
<circle cx="983.6" cy="100.5" r="3.3" fill="#ff2500"/>
<circle cx="983.3" cy="95.7" r="3.3" fill="#ff3f00"/>
<circle cx="985.8" cy="103.1" r="3.3" fill="#ff3f00"/>
<circle cx="984.8" cy="97.1" r="3.3" fill="#ff2600"/>
<circle cx="986.2" cy="99.9" r="3.3" fill="#ff2700"/>
<circle cx="984.3" cy="97.1" r="3.3" fill="#ff2900"/>
<circle cx="982.9" cy="100.6" r="3.3" fill="#ff3100"/>
<circle cx="983.5" cy="99.9" r="3.3" fill="#ff2c00"/>
<circle cx="984.5" cy="97.2" r="3.3" fill="#ff2900"/>
<circle cx="985.4" cy="98.1" r="3.3" fill="#ff3a00"/>
<circle cx="983.3" cy="96.9" r="3.3" fill="#ff4a00"/>
<circle cx="983.9" cy="97.8" r="3.3" fill="#ff3a00"/>
<circle cx="984.4" cy="98.6" r="3.3" fill="#ff4000"/>
<circle cx="985.2" cy="97.3" r="3.3" fill="#ff3900"/>
<circle cx="983.4" cy="95.8" r="3.3" fill="#ff2900"/>
<circle cx="984.0" cy="93.4" r="3.3" fill="#ff3500"/>
<circle cx="986.3" cy="99.7" r="3.3" fill="#ff3400"/>
<circle cx="982.8" cy="98.5" r="3.3" fill="#ff4300"/>
<circle cx="985.3" cy="96.0" r="3.3" fill="#ff3800"/>
<circle cx="985.5" cy="95.1" r="3.3" fill="#fd2000"/>
<circle cx="981.8" cy="97.4" r="3.3" fill="#ff3400"/>
<circle cx="982.2" cy="98.3" r="3.3" fill="#ff2400"/>
<circle cx="984.6" cy="102.8" r="3.3" fill="#ff3200"/>
<circle cx="983.1" cy="95.9" r="3.3" fill="#ff4000"/>
<circle cx="985.0" cy="98.9" r="3.3" fill="#ff3600"/>
<circle cx="985.4" cy="96.9" r="3.3" fill="#ff2800"/>
<circle cx="980.9" cy="99.1" r="3.3" fill="#ff4500"/>
<circle cx="984.2" cy="97.8" r="3.3" fill="#ff3700"/>
<circle cx="985.2" cy="96.1" r="3.3" fill="#ff4800"/>
<circle cx="983.5" cy="101.3" r="3.3" fill="#ff4200"/>
<circle cx="983.7" cy="99.6" r="3.3" fill="#ff4600"/>
<circle cx="981.9" cy="96.6" r="3.3" fill="#ff4400"/>
<circle cx="982.2" cy="103.3" r="3.3" fill="#ff2b00"/>
<circle cx="986.1" cy="97.6" r="3.3" fill="#ff4100"/>
<circle cx="985.1" cy="95.7" r="3.3" fill="#ff4a00"/>
<circle cx="981.6" cy="98.2" r="3.3" fill="#ff4a00"/>
<circle cx="985.0" cy="96.8" r="3.3" fill="#ff3900"/>
<circle cx="985.5" cy="100.7" r="3.3" fill="#ff2600"/>
<circle cx="983.6" cy="100.0" r="3.3" fill="#ff3300"/>
<circle cx="982.8" cy="97.0" r="3.3" fill="#ff4000"/>
<circle cx="983.7" cy="101.2" r="3.3" fill="#ff4400"/>
<circle cx="982.7" cy="96.3" r="3.3" fill="#ff2600"/>
<circle cx="983.1" cy="99.1" r="3.3" fill="#ff4200"/>
<circle cx="978.2" cy="94.5" r="3.3" fill="#ff7f00"/>
<circle cx="978.8" cy="101.1" r="3.3" fill="#ff9200"/>
<circle cx="978.9" cy="95.9" r="3.3" fill="#ff5000"/>
<circle cx="980.2" cy="99.1" r="3.3" fill="#ff5500"/>
<circle cx="977.1" cy="94.9" r="3.3" fill="#ff5400"/>
<circle cx="975.8" cy="98.7" r="3.3" fill="#ff7000"/>
<circle cx="979.1" cy="100.4" r="3.3" fill="#ff4c00"/>
<circle cx="979.5" cy="99.3" r="3.3" fill="#ff8e00"/>
<circle cx="977.7" cy="99.0" r="3.3" fill="#ff6400"/>
<circle cx="977.4" cy="92.7" r="3.3" fill="#ff7000"/>
<circle cx="980.1" cy="94.1" r="3.3" fill="#ff5f00"/>
<circle cx="981.0" cy="91.9" r="3.3" fill="#ff6100"/>
<circle cx="979.7" cy="98.9" r="3.3" fill="#ff5600"/>
<circle cx="976.9" cy="91.1" r="3.3" fill="#ff7e00"/>
<circle cx="977.7" cy="94.9" r="3.3" fill="#ff6700"/>
<circle cx="981.3" cy="94.5" r="3.3" fill="#ff7c00"/>
<circle cx="978.7" cy="95.3" r="3.3" fill="#ff6400"/>
<circle cx="979.6" cy="91.0" r="3.3" fill="#ff6000"/>
<circle cx="980.0" cy="96.6" r="3.3" fill="#ff6d00"/>
<circle cx="977.4" cy="92.6" r="3.3" fill="#ff7b00"/>
<circle cx="982.4" cy="101.9" r="3.3" fill="#ff5900"/>
<circle cx="980.0" cy="96.5" r="3.3" fill="#ff7b00"/>
<circle cx="984.0" cy="96.5" r="3.3" fill="#ff7700"/>
<circle cx="974.4" cy="93.9" r="3.3" fill="#ff7800"/>
<circle cx="980.8" cy="103.0" r="3.3" fill="#ff6a00"/>
<circle cx="981.4" cy="92.1" r="3.3" fill="#ff8000"/>
<circle cx="978.4" cy="94.1" r="3.3" fill="#ff6c00"/>
<circle cx="980.8" cy="96.3" r="3.3" fill="#ff7e00"/>
<circle cx="978.4" cy="102.1" r="3.3" fill="#ff5a00"/>
<circle cx="981.1" cy="102.4" r="3.3" fill="#ff6400"/>
<circle cx="978.3" cy="95.3" r="3.3" fill="#ff6800"/>
<circle cx="978.1" cy="99.8" r="3.3" fill="#ff6500"/>
<circle cx="975.0" cy="98.0" r="3.3" fill="#ff7700"/>
<circle cx="977.2" cy="97.8" r="3.3" fill="#ff8900"/>
<circle cx="983.8" cy="93.2" r="3.3" fill="#ff7c00"/>
<circle cx="977.7" cy="97.4" r="3.3" fill="#ff7800"/>
<circle cx="978.1" cy="98.4" r="3.3" fill="#ff7b00"/>
<circle cx="977.5" cy="91.4" r="3.3" fill="#ff7000"/>
<circle cx="981.5" cy="101.5" r="3.3" fill="#ff6b00"/>
<circle cx="980.7" cy="96.5" r="3.3" fill="#ff6400"/>
<circle cx="983.7" cy="99.7" r="3.3" fill="#ff6800"/>
<circle cx="977.7" cy="93.2" r="3.3" fill="#ff7700"/>
<circle cx="981.8" cy="99.4" r="3.3" fill="#ff5000"/>
<circle cx="978.5" cy="97.3" r="3.3" fill="#ff5a00"/>
<circle cx="980.0" cy="96.0" r="3.3" fill="#ff6a00"/>
<circle cx="980.3" cy="97.2" r="3.3" fill="#ff7f00"/>
<circle cx="982.5" cy="93.2" r="3.3" fill="#ff9600"/>
<circle cx="979.8" cy="102.6" r="3.3" fill="#ff8000"/>
<circle cx="978.9" cy="102.3" r="3.3" fill="#ff6900"/>
<circle cx="977.8" cy="95.6" r="3.3" fill="#ff8800"/>
<circle cx="980.8" cy="94.3" r="3.3" fill="#ff7700"/>
<circle cx="983.7" cy="94.3" r="3.3" fill="#ff4c00"/>
<circle cx="981.1" cy="92.8" r="3.3" fill="#ff7f00"/>
<circle cx="981.5" cy="92.2" r="3.3" fill="#ff7600"/>
<circle cx="981.4" cy="92.2" r="3.3" fill="#ff5b00"/>
<circle cx="981.6" cy="96.2" r="3.3" fill="#ff7300"/>
<circle cx="982.6" cy="96.1" r="3.3" fill="#ff7100"/>
<circle cx="980.2" cy="92.8" r="3.3" fill="#ff6900"/>
<circle cx="979.5" cy="99.3" r="3.3" fill="#ff6800"/>
<circle cx="978.9" cy="99.0" r="3.3" fill="#ff5f00"/>
<circle cx="981.7" cy="95.9" r="3.3" fill="#ff6100"/>
<circle cx="980.6" cy="101.4" r="3.3" fill="#ff6300"/>
<circle cx="981.1" cy="99.0" r="3.3" fill="#ff5e00"/>
<circle cx="975.1" cy="97.0" r="3.3" fill="#ff7300"/>
<circle cx="977.0" cy="95.8" r="3.3" fill="#ff7d00"/>
<circle cx="977.4" cy="101.4" r="3.3" fill="#ff8700"/>
<circle cx="978.4" cy="97.0" r="3.3" fill="#ff7600"/>
<circle cx="977.5" cy="101.3" r="3.3" fill="#ff5b00"/>
<circle cx="980.2" cy="98.2" r="3.3" fill="#ff9000"/>
<circle cx="979.6" cy="94.9" r="3.3" fill="#ff7700"/>
<circle cx="977.7" cy="97.0" r="3.3" fill="#ff7100"/>
<circle cx="979.7" cy="94.4" r="3.3" fill="#ff7100"/>
<circle cx="980.2" cy="97.3" r="3.3" fill="#ff6f00"/>
<circle cx="983.1" cy="96.6" r="3.3" fill="#ff5f00"/>
<circle cx="978.8" cy="98.1" r="3.3" fill="#ff5d00"/>
<circle cx="976.5" cy="94.9" r="3.3" fill="#ff5e00"/>
<circle cx="977.6" cy="101.2" r="3.3" fill="#ff4400"/>
<circle cx="976.4" cy="98.3" r="3.3" fill="#ff7000"/>
<circle cx="979.9" cy="93.5" r="3.3" fill="#ff5100"/>
<circle cx="976.9" cy="93.4" r="3.3" fill="#ff5600"/>
<circle cx="978.5" cy="93.7" r="3.3" fill="#ff7b00"/>
<circle cx="983.3" cy="100.4" r="3.3" fill="#ff7400"/>
<circle cx="975.3" cy="102.0" r="3.3" fill="#ff4e00"/>
<circle cx="975.4" cy="100.6" r="3.3" fill="#ff7100"/>
<circle cx="980.4" cy="96.6" r="3.3" fill="#ff5f00"/>
<circle cx="981.0" cy="93.1" r="3.3" fill="#ff6c00"/>
<circle cx="979.5" cy="92.3" r="3.3" fill="#ff6300"/>
<circle cx="976.9" cy="92.9" r="3.3" fill="#ff7600"/>
<circle cx="980.9" cy="94.6" r="3.3" fill="#ff6500"/>
<circle cx="975.9" cy="99.2" r="3.3" fill="#ff6900"/>
<circle cx="976.2" cy="102.3" r="3.3" fill="#ff4d00"/>
<circle cx="976.2" cy="97.7" r="3.3" fill="#ff6e00"/>
<circle cx="979.5" cy="98.7" r="3.3" fill="#ff7900"/>
<circle cx="976.4" cy="97.9" r="3.3" fill="#ff6500"/>
<circle cx="982.1" cy="99.3" r="3.3" fill="#ff7500"/>
<circle cx="975.6" cy="96.3" r="3.3" fill="#ff6300"/>
<circle cx="977.7" cy="99.5" r="3.3" fill="#ff7600"/>
<circle cx="978.7" cy="96.0" r="3.3" fill="#ff5c00"/>
<circle cx="982.1" cy="91.8" r="3.3" fill="#ff5c00"/>
<circle cx="981.4" cy="94.4" r="3.3" fill="#ff7100"/>
<circle cx="977.1" cy="97.6" r="3.3" fill="#ff7100"/>
<circle cx="975.7" cy="95.1" r="3.3" fill="#ff4e00"/>
<circle cx="980.9" cy="97.9" r="3.3" fill="#ff5400"/>
<circle cx="979.5" cy="98.1" r="3.3" fill="#ff6000"/>
<circle cx="977.8" cy="94.9" r="3.3" fill="#ff4e00"/>
<circle cx="978.0" cy="102.5" r="3.3" fill="#ff6e00"/>
<circle cx="982.2" cy="98.6" r="3.3" fill="#ff7300"/>
<circle cx="978.7" cy="96.5" r="3.3" fill="#ff7f00"/>
<circle cx="981.2" cy="94.5" r="3.3" fill="#ff5800"/>
<circle cx="980.7" cy="96.1" r="3.3" fill="#ff6600"/>
<circle cx="979.5" cy="101.0" r="3.3" fill="#ff7800"/>
<circle cx="979.4" cy="95.1" r="3.3" fill="#ff6d00"/>
<circle cx="982.3" cy="98.7" r="3.3" fill="#ff9300"/>
<circle cx="975.6" cy="97.6" r="3.3" fill="#ff5100"/>
<circle cx="976.1" cy="94.6" r="3.3" fill="#ff5b00"/>
<circle cx="978.5" cy="96.4" r="3.3" fill="#ff7600"/>
<circle cx="978.8" cy="90.5" r="3.3" fill="#ff9a00"/>
<circle cx="980.7" cy="96.2" r="3.3" fill="#ff6800"/>
<circle cx="979.3" cy="99.8" r="3.3" fill="#ff6800"/>
<circle cx="977.9" cy="95.5" r="3.3" fill="#ff6c00"/>
<circle cx="982.3" cy="119.1" r="3.3" fill="#ff5500"/>
<circle cx="979.5" cy="118.9" r="3.3" fill="#ff4700"/>
<circle cx="979.9" cy="117.4" r="3.3" fill="#ff4500"/>
<circle cx="977.8" cy="118.4" r="3.3" fill="#ff4e00"/>
<circle cx="980.6" cy="121.3" r="3.3" fill="#ff3900"/>
<circle cx="979.3" cy="119.1" r="3.3" fill="#ff2c00"/>
<circle cx="980.3" cy="123.9" r="3.3" fill="#ff2600"/>
<circle cx="981.1" cy="113.6" r="3.3" fill="#ff2a00"/>
<circle cx="978.3" cy="116.4" r="3.3" fill="#ff5a00"/>
<circle cx="981.5" cy="119.0" r="3.3" fill="#ff4000"/>
<circle cx="981.0" cy="122.6" r="3.3" fill="#ff4f00"/>
<circle cx="982.6" cy="122.0" r="3.3" fill="#ff4e00"/>
<circle cx="981.4" cy="121.4" r="3.3" fill="#ff3700"/>
<circle cx="979.2" cy="123.6" r="3.3" fill="#ff2700"/>
<circle cx="981.9" cy="118.5" r="3.3" fill="#ff3600"/>
<circle cx="980.0" cy="121.9" r="3.3" fill="#ff4b00"/>
<circle cx="982.3" cy="120.5" r="3.3" fill="#ff3b00"/>
<circle cx="978.0" cy="122.4" r="3.3" fill="#ff4d00"/>
<circle cx="981.9" cy="115.3" r="3.3" fill="#ff5500"/>
<circle cx="981.3" cy="122.9" r="3.3" fill="#ff5800"/>
<circle cx="981.7" cy="115.8" r="3.3" fill="#ff4300"/>
<circle cx="981.1" cy="114.6" r="3.3" fill="#ff2800"/>
<circle cx="979.6" cy="122.2" r="3.3" fill="#ff4000"/>
<circle cx="981.5" cy="118.3" r="3.3" fill="#ff4000"/>
<circle cx="980.5" cy="116.9" r="3.3" fill="#ff4b00"/>
<circle cx="980.1" cy="120.7" r="3.3" fill="#ff4000"/>
<circle cx="983.1" cy="118.5" r="3.3" fill="#ff3400"/>
<circle cx="982.7" cy="122.5" r="3.3" fill="#ff4f00"/>
<circle cx="979.3" cy="115.8" r="3.3" fill="#ff5200"/>
<circle cx="981.2" cy="121.0" r="3.3" fill="#ff3500"/>
<circle cx="980.4" cy="120.3" r="3.3" fill="#ff6000"/>
<circle cx="979.4" cy="113.7" r="3.3" fill="#ff4100"/>
<circle cx="981.9" cy="115.7" r="3.3" fill="#ff4600"/>
<circle cx="980.4" cy="113.5" r="3.3" fill="#ff3d00"/>
<circle cx="980.9" cy="116.4" r="3.3" fill="#ff5e00"/>
<circle cx="979.2" cy="119.4" r="3.3" fill="#ff3d00"/>
<circle cx="978.9" cy="117.7" r="3.3" fill="#ff4400"/>
<circle cx="982.3" cy="115.7" r="3.3" fill="#ff4d00"/>
<circle cx="980.5" cy="119.0" r="3.3" fill="#ff4700"/>
<circle cx="981.7" cy="118.4" r="3.3" fill="#ff4700"/>
<circle cx="972.5" cy="106.7" r="3.3" fill="#ff8500"/>
<circle cx="971.6" cy="110.2" r="3.3" fill="#ff9800"/>
<circle cx="979.0" cy="108.7" r="3.3" fill="#ff9a00"/>
<circle cx="970.7" cy="113.0" r="3.3" fill="#ff9a00"/>
<circle cx="977.3" cy="108.1" r="3.3" fill="#ffa100"/>
<circle cx="967.5" cy="110.3" r="3.3" fill="#ffad00"/>
<circle cx="976.0" cy="111.2" r="3.3" fill="#ffbd00"/>
<circle cx="982.4" cy="109.4" r="3.3" fill="#ff9500"/>
<circle cx="978.9" cy="109.4" r="3.3" fill="#ff7f00"/>
<circle cx="979.5" cy="108.2" r="3.3" fill="#ffad00"/>
<circle cx="973.2" cy="108.9" r="3.3" fill="#ff8500"/>
<circle cx="976.3" cy="108.5" r="3.3" fill="#ff9f00"/>
<circle cx="977.9" cy="113.3" r="3.3" fill="#ffbd00"/>
<circle cx="975.8" cy="108.8" r="3.3" fill="#ff9700"/>
<circle cx="971.4" cy="104.0" r="3.3" fill="#ffa300"/>
<circle cx="973.1" cy="110.8" r="3.3" fill="#ffb200"/>
<circle cx="973.8" cy="107.4" r="3.3" fill="#ffa400"/>
<circle cx="977.1" cy="109.0" r="3.3" fill="#ff8f00"/>
<circle cx="968.5" cy="109.4" r="3.3" fill="#ffb400"/>
<circle cx="973.2" cy="113.5" r="3.3" fill="#ffad00"/>
<circle cx="975.3" cy="105.8" r="3.3" fill="#ffaa00"/>
<circle cx="977.5" cy="109.0" r="3.3" fill="#ff8f00"/>
<circle cx="975.5" cy="110.3" r="3.3" fill="#ffbb00"/>
<circle cx="978.9" cy="113.0" r="3.3" fill="#ffa700"/>
<circle cx="972.2" cy="109.9" r="3.3" fill="#ffab00"/>
<circle cx="970.0" cy="109.8" r="3.3" fill="#ffb000"/>
<circle cx="970.6" cy="110.1" r="3.3" fill="#ffaa00"/>
<circle cx="969.6" cy="109.7" r="3.3" fill="#ffa500"/>
<circle cx="976.9" cy="111.4" r="3.3" fill="#ffa700"/>
<circle cx="981.2" cy="107.2" r="3.3" fill="#ff7e00"/>
<circle cx="973.4" cy="104.5" r="3.3" fill="#ffa800"/>
<circle cx="975.8" cy="109.1" r="3.3" fill="#ffaf00"/>
<circle cx="968.9" cy="107.4" r="3.3" fill="#ff8200"/>
<circle cx="971.5" cy="105.0" r="3.3" fill="#ffaf00"/>
<circle cx="968.1" cy="105.3" r="3.3" fill="#ffb900"/>
<circle cx="978.0" cy="108.5" r="3.3" fill="#ffbe00"/>
<circle cx="977.4" cy="104.4" r="3.3" fill="#ffab00"/>
<circle cx="975.5" cy="104.7" r="3.3" fill="#ffa800"/>
<circle cx="970.0" cy="105.2" r="3.3" fill="#ffa800"/>
<circle cx="977.9" cy="111.0" r="3.3" fill="#ffb200"/>
<circle cx="973.2" cy="103.9" r="3.3" fill="#ff8800"/>
<circle cx="979.1" cy="110.3" r="3.3" fill="#ffa700"/>
<circle cx="979.8" cy="109.9" r="3.3" fill="#ff9b00"/>
<circle cx="974.0" cy="106.0" r="3.3" fill="#ff8c00"/>
<circle cx="970.5" cy="107.3" r="3.3" fill="#ffbb00"/>
<circle cx="971.0" cy="105.1" r="3.3" fill="#ffb100"/>
<circle cx="981.9" cy="105.8" r="3.3" fill="#ffab00"/>
<circle cx="981.2" cy="110.3" r="3.3" fill="#ffaa00"/>
<circle cx="972.3" cy="108.0" r="3.3" fill="#ffa900"/>
<circle cx="972.8" cy="109.4" r="3.3" fill="#ffc100"/>
<circle cx="978.1" cy="108.3" r="3.3" fill="#ff8c00"/>
<circle cx="971.5" cy="107.5" r="3.3" fill="#ffaf00"/>
<circle cx="974.5" cy="106.8" r="3.3" fill="#ff9800"/>
<circle cx="970.5" cy="106.2" r="3.3" fill="#ffb100"/>
<circle cx="969.3" cy="109.8" r="3.3" fill="#ffa000"/>
<circle cx="971.1" cy="108.8" r="3.3" fill="#ffb500"/>
<circle cx="974.1" cy="109.4" r="3.3" fill="#ff9800"/>
<circle cx="965.8" cy="107.5" r="3.3" fill="#ff9f00"/>
<circle cx="976.2" cy="108.9" r="3.3" fill="#ff8f00"/>
<circle cx="978.6" cy="111.4" r="3.3" fill="#ffae00"/>
<circle cx="974.8" cy="106.4" r="3.3" fill="#ff9400"/>
<circle cx="977.0" cy="112.3" r="3.3" fill="#ffa000"/>
<circle cx="969.8" cy="109.8" r="3.3" fill="#ff9300"/>
<circle cx="969.5" cy="112.0" r="3.3" fill="#ffaf00"/>
<circle cx="978.9" cy="105.8" r="3.3" fill="#ffa900"/>
<circle cx="976.3" cy="110.1" r="3.3" fill="#ff9300"/>
<circle cx="965.4" cy="109.3" r="3.3" fill="#ffa500"/>
<circle cx="967.0" cy="108.1" r="3.3" fill="#ff9f00"/>
<circle cx="972.4" cy="107.9" r="3.3" fill="#ffb800"/>
<circle cx="974.2" cy="109.8" r="3.3" fill="#ffb200"/>
<circle cx="971.5" cy="110.4" r="3.3" fill="#ffbe00"/>
<circle cx="973.5" cy="104.6" r="3.3" fill="#ffb000"/>
<circle cx="980.3" cy="107.3" r="3.3" fill="#ffaa00"/>
<circle cx="971.2" cy="109.2" r="3.3" fill="#ffa000"/>
<circle cx="974.9" cy="111.1" r="3.3" fill="#ff9900"/>
<circle cx="972.5" cy="106.5" r="3.3" fill="#ffa900"/>
<circle cx="967.4" cy="108.0" r="3.3" fill="#ff8900"/>
<circle cx="969.2" cy="111.7" r="3.3" fill="#ff8d00"/>
<circle cx="972.3" cy="110.5" r="3.3" fill="#ffbe00"/>
<circle cx="976.4" cy="109.8" r="3.3" fill="#ff9d00"/>
<circle cx="971.2" cy="106.1" r="3.3" fill="#ff9000"/>
<circle cx="975.7" cy="110.3" r="3.3" fill="#ffb600"/>
<circle cx="971.0" cy="107.7" r="3.3" fill="#ffae00"/>
<circle cx="983.2" cy="106.4" r="3.3" fill="#ffb100"/>
<circle cx="975.0" cy="110.4" r="3.3" fill="#ff8300"/>
<circle cx="980.0" cy="106.6" r="3.3" fill="#ffa100"/>
<circle cx="965.1" cy="107.9" r="3.3" fill="#ffa900"/>
<circle cx="971.9" cy="106.6" r="3.3" fill="#ff9000"/>
<circle cx="978.3" cy="106.1" r="3.3" fill="#ff9700"/>
<circle cx="976.2" cy="110.2" r="3.3" fill="#ff9000"/>
<circle cx="971.5" cy="107.2" r="3.3" fill="#ffa800"/>
<circle cx="972.7" cy="108.4" r="3.3" fill="#ff8600"/>
<circle cx="973.0" cy="107.2" r="3.3" fill="#ff9d00"/>
<circle cx="972.2" cy="110.4" r="3.3" fill="#ffa600"/>
<circle cx="979.9" cy="105.7" r="3.3" fill="#ffb400"/>
<circle cx="974.7" cy="108.2" r="3.3" fill="#ffa800"/>
<circle cx="969.3" cy="106.5" r="3.3" fill="#ffb000"/>
<circle cx="973.9" cy="109.5" r="3.3" fill="#ffa400"/>
<circle cx="975.9" cy="111.8" r="3.3" fill="#ffa800"/>
<circle cx="974.2" cy="107.8" r="3.3" fill="#ff9300"/>
<circle cx="968.3" cy="106.7" r="3.3" fill="#ffa900"/>
<circle cx="966.4" cy="105.7" r="3.3" fill="#ff8700"/>
<circle cx="972.4" cy="107.7" r="3.3" fill="#ffb500"/>
<circle cx="978.3" cy="110.5" r="3.3" fill="#ff9200"/>
<circle cx="970.0" cy="105.9" r="3.3" fill="#ff9a00"/>
<circle cx="969.1" cy="109.2" r="3.3" fill="#ff9b00"/>
<circle cx="975.6" cy="106.7" r="3.3" fill="#ffa900"/>
<circle cx="967.2" cy="110.6" r="3.3" fill="#ffaa00"/>
<circle cx="971.2" cy="108.4" r="3.3" fill="#ff7800"/>
<circle cx="968.4" cy="107.5" r="3.3" fill="#ffbb00"/>
<circle cx="971.6" cy="108.6" r="3.3" fill="#ff9300"/>
<circle cx="974.3" cy="108.0" r="3.3" fill="#ff9700"/>
<circle cx="972.6" cy="107.3" r="3.3" fill="#ff9200"/>
<circle cx="972.1" cy="107.4" r="3.3" fill="#ffc400"/>
<circle cx="968.0" cy="112.9" r="3.3" fill="#ff9f00"/>
<circle cx="978.8" cy="109.1" r="3.3" fill="#ffba00"/>
<circle cx="976.8" cy="110.7" r="3.3" fill="#ff9600"/>
<circle cx="976.3" cy="112.7" r="3.3" fill="#ff9100"/>
<circle cx="975.5" cy="109.2" r="3.3" fill="#ff8500"/>
<circle cx="978.1" cy="104.2" r="3.3" fill="#ff9800"/>
<circle cx="973.5" cy="110.2" r="3.3" fill="#ff9900"/>
<circle cx="973.6" cy="109.4" r="3.3" fill="#ff9e00"/>
<circle cx="979.4" cy="111.4" r="3.3" fill="#ffa900"/>
<circle cx="977.5" cy="112.0" r="3.3" fill="#ffad00"/>
<circle cx="972.4" cy="104.7" r="3.3" fill="#ffa900"/>
<circle cx="982.9" cy="111.0" r="3.3" fill="#ff9100"/>
<circle cx="969.4" cy="112.4" r="3.3" fill="#ffb900"/>
<circle cx="968.7" cy="107.2" r="3.3" fill="#ffad00"/>
<circle cx="971.1" cy="107.7" r="3.3" fill="#ffa000"/>
<circle cx="981.7" cy="107.1" r="3.3" fill="#ffb600"/>
<circle cx="971.4" cy="110.7" r="3.3" fill="#ffd300"/>
<circle cx="974.1" cy="109.9" r="3.3" fill="#ffc500"/>
<circle cx="975.1" cy="108.4" r="3.3" fill="#ffb700"/>
<circle cx="970.9" cy="109.9" r="3.3" fill="#ffd000"/>
<circle cx="973.2" cy="111.2" r="3.3" fill="#ffc900"/>
<circle cx="972.9" cy="107.8" r="3.3" fill="#ffbf00"/>
<circle cx="973.3" cy="109.3" r="3.3" fill="#ffca00"/>
<circle cx="970.6" cy="110.0" r="3.3" fill="#ffc500"/>
<circle cx="971.4" cy="109.7" r="3.3" fill="#ffd200"/>
<circle cx="976.5" cy="109.8" r="3.3" fill="#ffba00"/>
<circle cx="972.5" cy="110.5" r="3.3" fill="#ffda00"/>
<circle cx="972.7" cy="109.8" r="3.3" fill="#ffd200"/>
<circle cx="971.3" cy="109.3" r="3.3" fill="#ffbc00"/>
<circle cx="977.4" cy="109.9" r="3.3" fill="#ffb700"/>
<circle cx="973.4" cy="112.3" r="3.3" fill="#ffb300"/>
<circle cx="973.4" cy="108.9" r="3.3" fill="#ffb900"/>
<circle cx="970.3" cy="112.1" r="3.3" fill="#ffb000"/>
<circle cx="973.3" cy="109.3" r="3.3" fill="#ffbd00"/>
<circle cx="977.1" cy="110.0" r="3.3" fill="#ffd400"/>
<circle cx="973.9" cy="109.3" r="3.3" fill="#ffc700"/>
<circle cx="971.4" cy="107.5" r="3.3" fill="#ffc400"/>
<circle cx="972.5" cy="109.9" r="3.3" fill="#ffbd00"/>
<circle cx="976.4" cy="109.8" r="3.3" fill="#ffbd00"/>
<circle cx="973.6" cy="111.2" r="3.3" fill="#ffbf00"/>
<circle cx="973.7" cy="111.5" r="3.3" fill="#ffb700"/>
<circle cx="974.3" cy="107.9" r="3.3" fill="#ffce00"/>
<circle cx="976.4" cy="109.6" r="3.3" fill="#ffd000"/>
<circle cx="971.6" cy="111.9" r="3.3" fill="#ffba00"/>
<circle cx="971.6" cy="111.7" r="3.3" fill="#ffba00"/>
<circle cx="970.1" cy="111.8" r="3.3" fill="#ffd900"/>
<circle cx="965.1" cy="122.9" r="3.3" fill="#ffa000"/>
<circle cx="969.3" cy="118.0" r="3.3" fill="#ff7300"/>
<circle cx="968.8" cy="118.0" r="3.3" fill="#ffa000"/>
<circle cx="967.8" cy="121.8" r="3.3" fill="#ffa000"/>
<circle cx="973.4" cy="125.0" r="3.3" fill="#ffa400"/>
<circle cx="968.4" cy="124.2" r="3.3" fill="#ff7600"/>
<circle cx="967.1" cy="129.8" r="3.3" fill="#ffa100"/>
<circle cx="969.0" cy="126.9" r="3.3" fill="#ffa600"/>
<circle cx="971.2" cy="127.8" r="3.3" fill="#ff8d00"/>
<circle cx="964.7" cy="131.4" r="3.3" fill="#ff8000"/>
<circle cx="966.2" cy="115.4" r="3.3" fill="#ff7500"/>
<circle cx="969.1" cy="121.5" r="3.3" fill="#ff8e00"/>
</g><circle cx="967" cy="124" r="10" fill="#fff" stroke="#000" stroke-width="3.6"/></g>
<path d="M120.50 499.5v-21M120.50 52.5v21M194.50 499.5v-21M194.50 52.5v21M269.50 499.5v-21M269.50 52.5v21M343.50 499.5v-21M343.50 52.5v21M417.50 499.5v-21M417.50 52.5v21M491.50 499.5v-21M491.50 52.5v21M565.50 499.5v-21M565.50 52.5v21M120.5 499.50h21M565.5 499.50h-21M120.5 449.50h21M565.5 449.50h-21M120.5 400.50h21M565.5 400.50h-21M120.5 350.50h21M565.5 350.50h-21M120.5 300.50h21M565.5 300.50h-21M120.5 251.50h21M565.5 251.50h-21M120.5 201.50h21M565.5 201.50h-21M120.5 151.50h21M565.5 151.50h-21M120.5 102.50h21M565.5 102.50h-21M120.5 52.50h21M565.5 52.50h-21" stroke="#fff" stroke-width="1" fill="none" shape-rendering="crispEdges"/>
<path d="M135.50 499.5v-10M135.50 52.5v10M150.50 499.5v-10M150.50 52.5v10M165.50 499.5v-10M165.50 52.5v10M180.50 499.5v-10M180.50 52.5v10M209.50 499.5v-10M209.50 52.5v10M224.50 499.5v-10M224.50 52.5v10M239.50 499.5v-10M239.50 52.5v10M254.50 499.5v-10M254.50 52.5v10M283.50 499.5v-10M283.50 52.5v10M298.50 499.5v-10M298.50 52.5v10M313.50 499.5v-10M313.50 52.5v10M328.50 499.5v-10M328.50 52.5v10M358.50 499.5v-10M358.50 52.5v10M372.50 499.5v-10M372.50 52.5v10M387.50 499.5v-10M387.50 52.5v10M402.50 499.5v-10M402.50 52.5v10M432.50 499.5v-10M432.50 52.5v10M447.50 499.5v-10M447.50 52.5v10M461.50 499.5v-10M461.50 52.5v10M476.50 499.5v-10M476.50 52.5v10M506.50 499.5v-10M506.50 52.5v10M521.50 499.5v-10M521.50 52.5v10M536.50 499.5v-10M536.50 52.5v10M550.50 499.5v-10M550.50 52.5v10M120.5 489.50h10M565.5 489.50h-10M120.5 479.50h10M565.5 479.50h-10M120.5 469.50h10M565.5 469.50h-10M120.5 459.50h10M565.5 459.50h-10M120.5 439.50h10M565.5 439.50h-10M120.5 429.50h10M565.5 429.50h-10M120.5 420.50h10M565.5 420.50h-10M120.5 410.50h10M565.5 410.50h-10M120.5 390.50h10M565.5 390.50h-10M120.5 380.50h10M565.5 380.50h-10M120.5 370.50h10M565.5 370.50h-10M120.5 360.50h10M565.5 360.50h-10M120.5 340.50h10M565.5 340.50h-10M120.5 330.50h10M565.5 330.50h-10M120.5 320.50h10M565.5 320.50h-10M120.5 310.50h10M565.5 310.50h-10M120.5 290.50h10M565.5 290.50h-10M120.5 280.50h10M565.5 280.50h-10M120.5 271.50h10M565.5 271.50h-10M120.5 261.50h10M565.5 261.50h-10M120.5 241.50h10M565.5 241.50h-10M120.5 231.50h10M565.5 231.50h-10M120.5 221.50h10M565.5 221.50h-10M120.5 211.50h10M565.5 211.50h-10M120.5 191.50h10M565.5 191.50h-10M120.5 181.50h10M565.5 181.50h-10M120.5 171.50h10M565.5 171.50h-10M120.5 161.50h10M565.5 161.50h-10M120.5 141.50h10M565.5 141.50h-10M120.5 131.50h10M565.5 131.50h-10M120.5 122.50h10M565.5 122.50h-10M120.5 112.50h10M565.5 112.50h-10M120.5 92.50h10M565.5 92.50h-10M120.5 82.50h10M565.5 82.50h-10M120.5 72.50h10M565.5 72.50h-10M120.5 62.50h10M565.5 62.50h-10" stroke="#fff" stroke-width="1" shape-rendering="crispEdges" fill="none"/>
<rect x="120.5" y="52.5" width="445.0" height="447.0" fill="none" stroke="#fff" stroke-width="3"/>
<text class="t" transform="translate(120.50,538.6) scale(0.912,1)" text-anchor="middle">-20</text>
<text class="t" transform="translate(194.67,538.6) scale(0.912,1)" text-anchor="middle">-10</text>
<text class="t" transform="translate(268.83,538.6) scale(0.912,1)" text-anchor="middle">0</text>
<text class="t" transform="translate(343.00,538.6) scale(0.912,1)" text-anchor="middle">10</text>
<text class="t" transform="translate(417.17,538.6) scale(0.912,1)" text-anchor="middle">20</text>
<text class="t" transform="translate(491.33,538.6) scale(0.912,1)" text-anchor="middle">30</text>
<text class="t" transform="translate(565.50,538.6) scale(0.912,1)" text-anchor="middle">40</text>
<text class="t" transform="translate(109.3,509.10) scale(0.912,1)" text-anchor="end">-10</text>
<text class="t" transform="translate(109.3,461.03) scale(0.912,1)" text-anchor="end">-5</text>
<text class="t" transform="translate(109.3,409.77) scale(0.912,1)" text-anchor="end">0</text>
<text class="t" transform="translate(109.3,361.70) scale(0.912,1)" text-anchor="end">5</text>
<text class="t" transform="translate(109.3,310.43) scale(0.912,1)" text-anchor="end">10</text>
<text class="t" transform="translate(109.3,262.37) scale(0.912,1)" text-anchor="end">15</text>
<text class="t" transform="translate(109.3,211.10) scale(0.912,1)" text-anchor="end">20</text>
<text class="t" transform="translate(109.3,163.03) scale(0.912,1)" text-anchor="end">25</text>
<text class="t" transform="translate(109.3,111.77) scale(0.912,1)" text-anchor="end">30</text>
<text class="t" transform="translate(109.3,63.70) scale(0.912,1)" text-anchor="end">35</text>
<path d="M605.50 499.5v-21M605.50 52.5v21M679.50 499.5v-21M679.50 52.5v21M754.50 499.5v-21M754.50 52.5v21M828.50 499.5v-21M828.50 52.5v21M902.50 499.5v-21M902.50 52.5v21M976.50 499.5v-21M976.50 52.5v21M1050.50 499.5v-21M1050.50 52.5v21M605.5 499.50h21M1050.5 499.50h-21M605.5 449.50h21M1050.5 449.50h-21M605.5 400.50h21M1050.5 400.50h-21M605.5 350.50h21M1050.5 350.50h-21M605.5 300.50h21M1050.5 300.50h-21M605.5 251.50h21M1050.5 251.50h-21M605.5 201.50h21M1050.5 201.50h-21M605.5 151.50h21M1050.5 151.50h-21M605.5 102.50h21M1050.5 102.50h-21M605.5 52.50h21M1050.5 52.50h-21" stroke="#fff" stroke-width="1" fill="none" shape-rendering="crispEdges"/>
<path d="M620.50 499.5v-10M620.50 52.5v10M635.50 499.5v-10M635.50 52.5v10M650.50 499.5v-10M650.50 52.5v10M665.50 499.5v-10M665.50 52.5v10M694.50 499.5v-10M694.50 52.5v10M709.50 499.5v-10M709.50 52.5v10M724.50 499.5v-10M724.50 52.5v10M739.50 499.5v-10M739.50 52.5v10M768.50 499.5v-10M768.50 52.5v10M783.50 499.5v-10M783.50 52.5v10M798.50 499.5v-10M798.50 52.5v10M813.50 499.5v-10M813.50 52.5v10M843.50 499.5v-10M843.50 52.5v10M857.50 499.5v-10M857.50 52.5v10M872.50 499.5v-10M872.50 52.5v10M887.50 499.5v-10M887.50 52.5v10M917.50 499.5v-10M917.50 52.5v10M932.50 499.5v-10M932.50 52.5v10M946.50 499.5v-10M946.50 52.5v10M961.50 499.5v-10M961.50 52.5v10M991.50 499.5v-10M991.50 52.5v10M1006.50 499.5v-10M1006.50 52.5v10M1021.50 499.5v-10M1021.50 52.5v10M1035.50 499.5v-10M1035.50 52.5v10M605.5 489.50h10M1050.5 489.50h-10M605.5 479.50h10M1050.5 479.50h-10M605.5 469.50h10M1050.5 469.50h-10M605.5 459.50h10M1050.5 459.50h-10M605.5 439.50h10M1050.5 439.50h-10M605.5 429.50h10M1050.5 429.50h-10M605.5 420.50h10M1050.5 420.50h-10M605.5 410.50h10M1050.5 410.50h-10M605.5 390.50h10M1050.5 390.50h-10M605.5 380.50h10M1050.5 380.50h-10M605.5 370.50h10M1050.5 370.50h-10M605.5 360.50h10M1050.5 360.50h-10M605.5 340.50h10M1050.5 340.50h-10M605.5 330.50h10M1050.5 330.50h-10M605.5 320.50h10M1050.5 320.50h-10M605.5 310.50h10M1050.5 310.50h-10M605.5 290.50h10M1050.5 290.50h-10M605.5 280.50h10M1050.5 280.50h-10M605.5 271.50h10M1050.5 271.50h-10M605.5 261.50h10M1050.5 261.50h-10M605.5 241.50h10M1050.5 241.50h-10M605.5 231.50h10M1050.5 231.50h-10M605.5 221.50h10M1050.5 221.50h-10M605.5 211.50h10M1050.5 211.50h-10M605.5 191.50h10M1050.5 191.50h-10M605.5 181.50h10M1050.5 181.50h-10M605.5 171.50h10M1050.5 171.50h-10M605.5 161.50h10M1050.5 161.50h-10M605.5 141.50h10M1050.5 141.50h-10M605.5 131.50h10M1050.5 131.50h-10M605.5 122.50h10M1050.5 122.50h-10M605.5 112.50h10M1050.5 112.50h-10M605.5 92.50h10M1050.5 92.50h-10M605.5 82.50h10M1050.5 82.50h-10M605.5 72.50h10M1050.5 72.50h-10M605.5 62.50h10M1050.5 62.50h-10" stroke="#fff" stroke-width="1" shape-rendering="crispEdges" fill="none"/>
<rect x="605.5" y="52.5" width="445.0" height="447.0" fill="none" stroke="#fff" stroke-width="3"/>
<text class="t" transform="translate(605.50,538.6) scale(0.912,1)" text-anchor="middle">-20</text>
<text class="t" transform="translate(679.67,538.6) scale(0.912,1)" text-anchor="middle">-10</text>
<text class="t" transform="translate(753.83,538.6) scale(0.912,1)" text-anchor="middle">0</text>
<text class="t" transform="translate(828.00,538.6) scale(0.912,1)" text-anchor="middle">10</text>
<text class="t" transform="translate(902.17,538.6) scale(0.912,1)" text-anchor="middle">20</text>
<text class="t" transform="translate(976.33,538.6) scale(0.912,1)" text-anchor="middle">30</text>
<text class="t" transform="translate(1050.50,538.6) scale(0.912,1)" text-anchor="middle">40</text>
<text class="h" transform="translate(342.7,41.6) scale(0.967,1)" text-anchor="middle">Lumpy &amp; evolving potential</text>
<text class="h" transform="translate(828.2,41.6) scale(0.967,1)" text-anchor="middle">Smooth &amp; static potential</text>
<text x="344" y="583" text-anchor="middle">x (kpc)</text>
<text x="829" y="583" text-anchor="middle">x (kpc)</text>
<text transform="translate(41.5,275.5) rotate(-90)" text-anchor="middle">z (kpc)</text>
</svg>
</body></html>
